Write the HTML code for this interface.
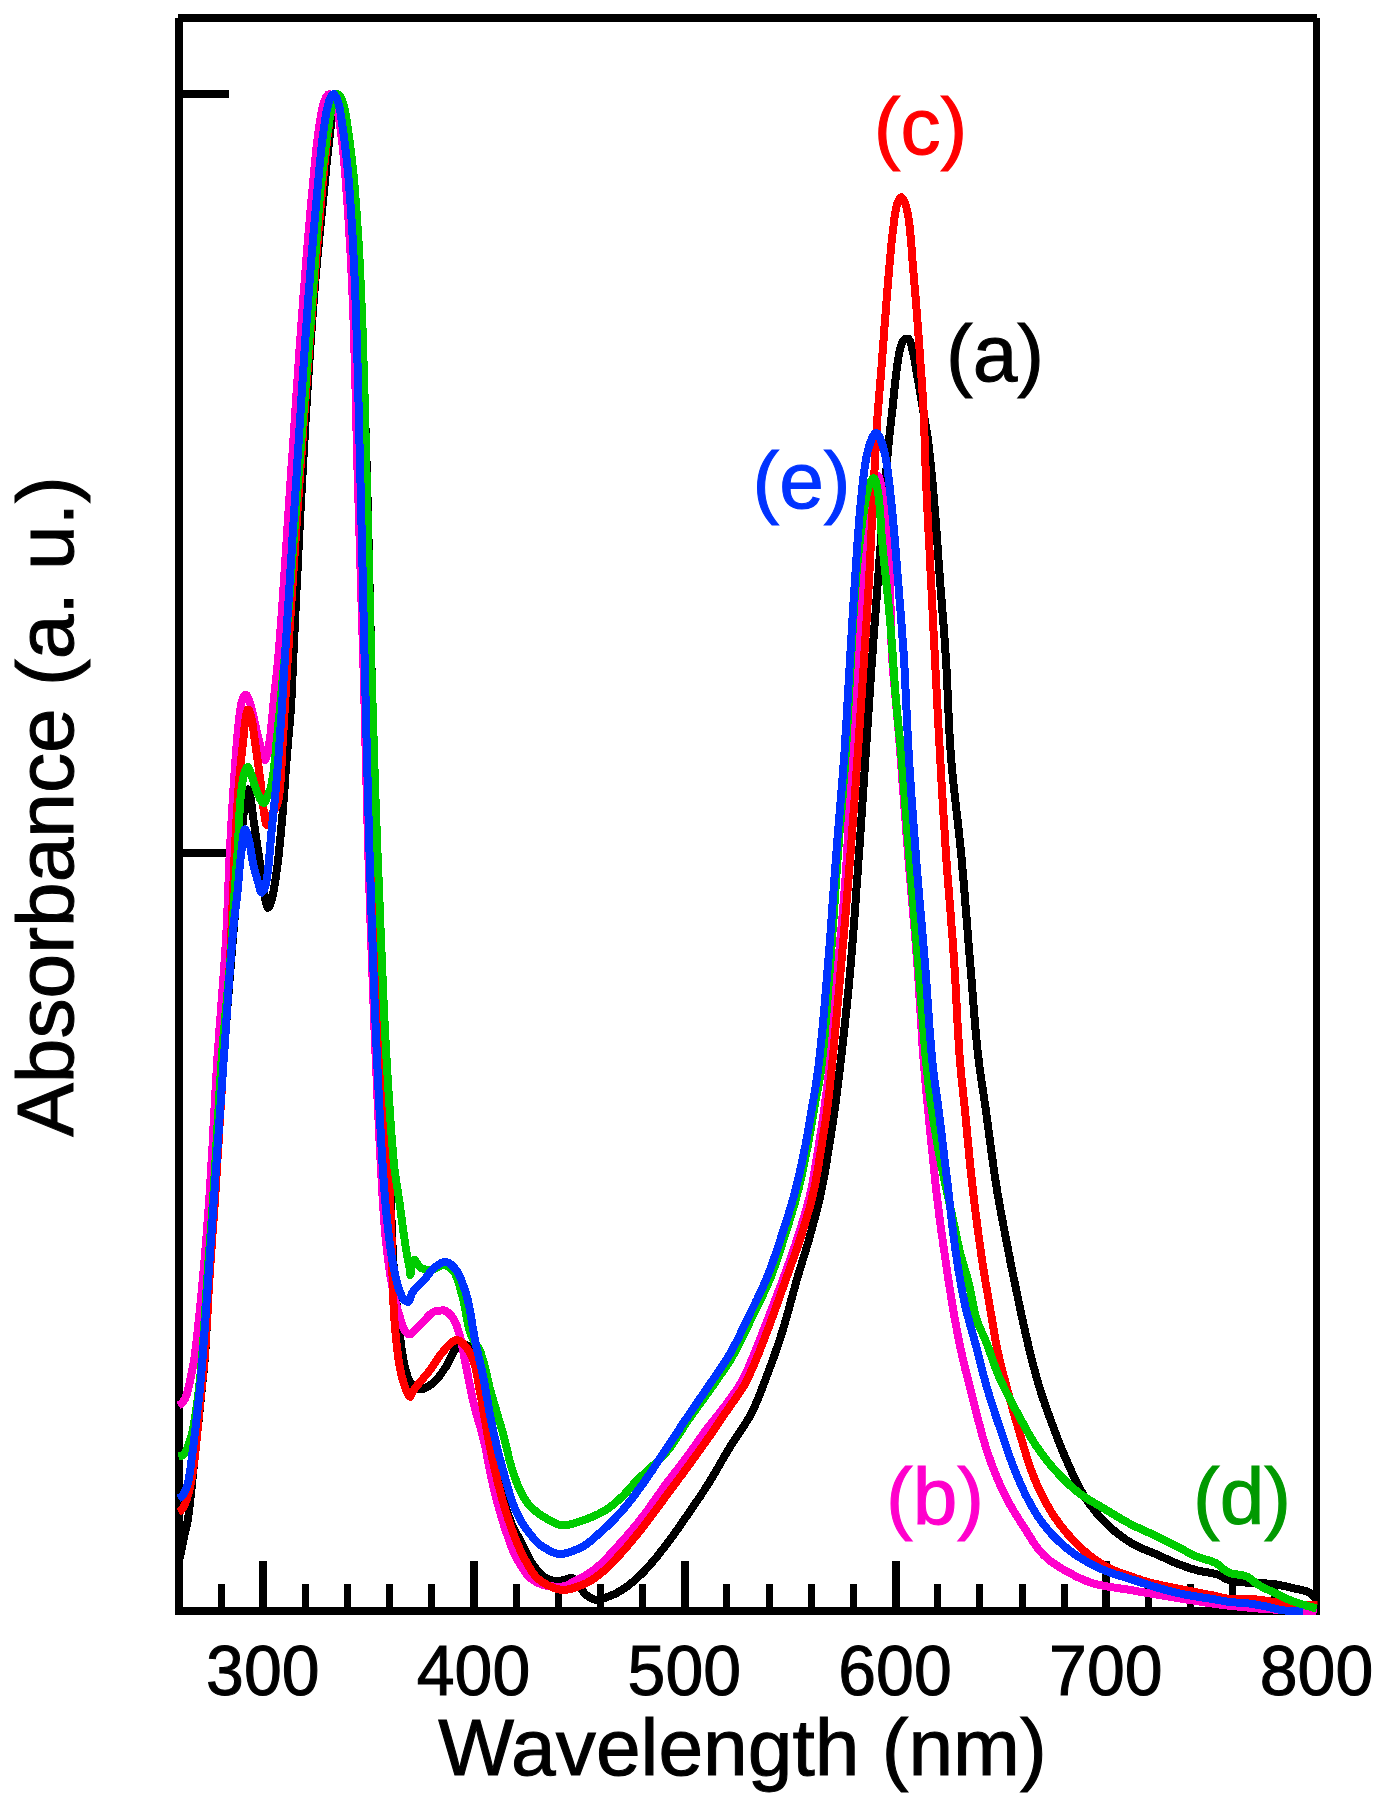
<!DOCTYPE html>
<html lang="en">
<head>
<meta charset="utf-8">
<title>Absorbance spectra</title>
<style>
html,body{margin:0;padding:0;background:#fff;}
body{width:1379px;height:1799px;overflow:hidden;}
svg{display:block;}
text{font-family:"Liberation Sans",Arial,Helvetica,sans-serif;}
</style>
</head>
<body>
<svg width="1379" height="1799" viewBox="0 0 1379 1799">
<rect width="1379" height="1799" fill="#ffffff"/>
<g stroke="#000" stroke-width="8" fill="none" shape-rendering="crispEdges">
<line x1="178" y1="18" x2="1317" y2="18"/>
<line x1="179" y1="18" x2="179" y2="1615"/>
<line x1="175" y1="1611" x2="1320" y2="1611"/>
<line x1="1316.5" y1="18" x2="1316.5" y2="1615" stroke-width="7"/>
<line x1="183" y1="94" x2="229" y2="94"/>
<line x1="183" y1="852.5" x2="229" y2="852.5"/>
<line x1="221.1" y1="1584" x2="221.1" y2="1608" stroke-width="7"/>
<line x1="263.3" y1="1561" x2="263.3" y2="1608"/>
<line x1="305.4" y1="1584" x2="305.4" y2="1608" stroke-width="7"/>
<line x1="347.6" y1="1584" x2="347.6" y2="1608" stroke-width="7"/>
<line x1="389.7" y1="1584" x2="389.7" y2="1608" stroke-width="7"/>
<line x1="431.9" y1="1584" x2="431.9" y2="1608" stroke-width="7"/>
<line x1="474.0" y1="1561" x2="474.0" y2="1608"/>
<line x1="516.2" y1="1584" x2="516.2" y2="1608" stroke-width="7"/>
<line x1="558.3" y1="1584" x2="558.3" y2="1608" stroke-width="7"/>
<line x1="600.5" y1="1584" x2="600.5" y2="1608" stroke-width="7"/>
<line x1="642.6" y1="1584" x2="642.6" y2="1608" stroke-width="7"/>
<line x1="684.8" y1="1561" x2="684.8" y2="1608"/>
<line x1="726.9" y1="1584" x2="726.9" y2="1608" stroke-width="7"/>
<line x1="769.1" y1="1584" x2="769.1" y2="1608" stroke-width="7"/>
<line x1="811.2" y1="1584" x2="811.2" y2="1608" stroke-width="7"/>
<line x1="853.4" y1="1584" x2="853.4" y2="1608" stroke-width="7"/>
<line x1="895.5" y1="1561" x2="895.5" y2="1608"/>
<line x1="937.7" y1="1584" x2="937.7" y2="1608" stroke-width="7"/>
<line x1="979.8" y1="1584" x2="979.8" y2="1608" stroke-width="7"/>
<line x1="1022.0" y1="1584" x2="1022.0" y2="1608" stroke-width="7"/>
<line x1="1064.1" y1="1584" x2="1064.1" y2="1608" stroke-width="7"/>
<line x1="1106.3" y1="1561" x2="1106.3" y2="1608"/>
<line x1="1148.4" y1="1584" x2="1148.4" y2="1608" stroke-width="7"/>
<line x1="1190.6" y1="1584" x2="1190.6" y2="1608" stroke-width="7"/>
<line x1="1232.7" y1="1584" x2="1232.7" y2="1608" stroke-width="7"/>
<line x1="1274.9" y1="1584" x2="1274.9" y2="1608" stroke-width="7"/>
</g>
<clipPath id="plot"><rect x="175" y="14" width="1142.5" height="1601"/></clipPath>
<g clip-path="url(#plot)" fill="none" stroke-width="8" stroke-linejoin="round" stroke-linecap="butt" shape-rendering="crispEdges">
<path d="M178.5 1563.0L179.2 1560.1L179.9 1557.2L180.6 1554.2L181.2 1551.3L181.9 1548.4L182.4 1545.4L183.0 1542.5L183.6 1539.5L184.2 1536.6L184.8 1533.7L185.5 1530.7L186.2 1527.8L186.8 1524.9L187.5 1522.0L188.0 1519.0L188.4 1516.1L188.8 1513.1L189.2 1510.1L189.5 1507.1L189.8 1504.1L190.2 1501.1L190.5 1498.2L190.8 1495.2L191.2 1492.2L191.5 1489.2L191.8 1486.2L192.1 1483.2L192.4 1480.3L192.7 1477.3L193.0 1474.3L193.3 1471.3L193.6 1468.3L193.9 1465.3L194.2 1462.4L194.5 1459.4L194.9 1456.4L195.2 1453.4L195.5 1450.4L195.8 1447.4L196.1 1444.4L196.4 1441.5L196.7 1438.5L197.0 1435.5L197.3 1432.5L197.6 1429.5L197.9 1426.5L198.2 1423.6L198.6 1420.6L198.9 1417.6L199.2 1414.6L199.5 1411.6L199.8 1408.6L200.1 1405.7L200.4 1402.7L200.7 1399.7L201.0 1396.7L201.3 1393.7L201.6 1390.7L201.9 1387.7L202.2 1384.8L202.5 1381.8L202.8 1378.8L203.1 1375.8L203.5 1372.8L203.8 1369.8L204.1 1366.9L204.4 1363.9L204.6 1360.9L204.9 1357.9L205.1 1354.9L205.3 1351.9L205.5 1348.9L205.7 1345.9L205.9 1342.9L206.0 1339.9L206.2 1336.9L206.4 1333.9L206.5 1331.0L206.7 1328.0L206.9 1325.0L207.0 1322.0L207.2 1319.0L207.3 1316.0L207.5 1313.0L207.6 1310.0L207.8 1307.0L207.9 1304.0L208.0 1301.0L208.2 1298.0L208.3 1295.0L208.5 1292.0L208.6 1289.0L208.8 1286.0L209.0 1283.0L209.1 1280.0L209.3 1277.0L209.5 1274.0L209.6 1271.0L209.8 1268.0L210.0 1265.0L210.2 1262.0L210.4 1259.0L210.6 1256.0L210.7 1253.0L210.9 1250.1L211.1 1247.1L211.3 1244.1L211.5 1241.1L211.7 1238.1L211.9 1235.1L212.1 1232.1L212.3 1229.1L212.5 1226.1L212.7 1223.1L212.9 1220.1L213.1 1217.1L213.3 1214.1L213.4 1211.1L213.6 1208.1L213.8 1205.1L214.0 1202.2L214.2 1199.2L214.4 1196.2L214.6 1193.2L214.8 1190.2L215.0 1187.2L215.2 1184.2L215.4 1181.2L215.6 1178.2L215.8 1175.2L216.0 1172.2L216.2 1169.2L216.4 1166.2L216.6 1163.2L216.8 1160.2L216.9 1157.2L217.1 1154.2L217.3 1151.3L217.5 1148.3L217.7 1145.3L217.9 1142.3L218.1 1139.3L218.3 1136.3L218.5 1133.3L218.7 1130.3L218.9 1127.3L219.1 1124.3L219.3 1121.3L219.5 1118.3L219.7 1115.3L219.9 1112.3L220.1 1109.3L220.3 1106.3L220.5 1103.4L220.7 1100.4L220.9 1097.4L221.1 1094.4L221.3 1091.4L221.5 1088.4L221.7 1085.4L221.9 1082.4L222.1 1079.4L222.3 1076.4L222.5 1073.4L222.8 1070.4L223.0 1067.4L223.2 1064.4L223.4 1061.5L223.6 1058.5L223.8 1055.5L224.0 1052.5L224.3 1049.5L224.5 1046.5L224.7 1043.5L224.9 1040.5L225.1 1037.5L225.4 1034.5L225.6 1031.5L225.8 1028.5L226.0 1025.5L226.3 1022.6L226.5 1019.6L226.7 1016.6L226.9 1013.6L227.2 1010.6L227.4 1007.6L227.6 1004.6L227.9 1001.6L228.1 998.6L228.3 995.6L228.6 992.6L228.8 989.7L229.0 986.7L229.3 983.7L229.5 980.7L229.7 977.7L230.0 974.7L230.2 971.7L230.5 968.7L230.7 965.7L230.9 962.7L231.2 959.7L231.4 956.8L231.7 953.8L231.9 950.8L232.2 947.8L232.4 944.8L232.7 941.8L232.9 938.8L233.1 935.8L233.4 932.8L233.7 929.8L233.9 926.9L234.2 923.9L234.4 920.9L234.7 917.9L234.9 914.9L235.2 911.9L235.5 908.9L235.7 905.9L236.0 902.9L236.3 900.0L236.5 897.0L236.8 894.0L237.1 891.0L237.3 888.0L237.6 885.0L237.8 882.0L238.1 879.0L238.3 876.0L238.6 873.1L238.8 870.1L239.1 867.1L239.3 864.1L239.5 861.1L239.8 858.1L240.0 855.1L240.2 852.1L240.5 849.1L240.7 846.1L240.9 843.1L241.2 840.1L241.4 837.2L241.7 834.2L241.9 831.2L242.2 828.2L242.5 825.2L242.8 822.2L243.1 819.2L243.4 816.2L243.6 813.2L243.9 810.2L244.2 807.2L244.6 804.2L245.0 801.3L245.4 798.3L245.9 795.4L246.7 791.9L247.8 789.4L248.9 791.1L249.9 794.7L250.5 797.6L251.0 800.5L251.4 803.5L251.8 806.5L252.1 809.5L252.5 812.5L252.9 815.5L253.3 818.5L253.7 821.4L254.2 824.4L254.6 827.4L255.0 830.3L255.5 833.3L255.9 836.3L256.4 839.2L256.8 842.2L257.2 845.2L257.7 848.1L258.1 851.1L258.6 854.1L259.0 857.0L259.5 860.0L259.9 863.0L260.4 865.9L260.8 868.9L261.3 871.9L261.7 874.8L262.2 877.8L262.6 880.8L263.0 883.8L263.4 886.8L263.8 889.8L264.2 892.7L264.7 895.7L265.2 898.7L265.8 901.6L266.5 904.7L267.6 907.9L269.0 907.1L270.5 903.9L271.4 901.1L272.2 898.2L272.8 895.2L273.4 892.3L273.9 889.3L274.4 886.4L274.9 883.4L275.4 880.4L275.8 877.5L276.2 874.5L276.6 871.5L277.0 868.5L277.4 865.6L277.8 862.6L278.1 859.6L278.5 856.6L278.8 853.7L279.1 850.7L279.4 847.7L279.7 844.7L280.0 841.7L280.3 838.7L280.6 835.7L280.9 832.7L281.2 829.8L281.4 826.8L281.7 823.8L282.0 820.8L282.2 817.8L282.5 814.8L282.7 811.8L283.0 808.8L283.2 805.8L283.4 802.9L283.7 799.9L283.9 796.9L284.1 793.9L284.3 790.9L284.6 787.9L284.8 784.9L285.0 781.9L285.2 778.9L285.4 775.9L285.6 772.9L285.9 769.9L286.1 766.9L286.3 764.0L286.5 761.0L286.7 758.0L287.0 755.0L287.2 752.0L287.5 749.0L287.7 746.0L288.0 743.0L288.3 740.0L288.5 737.0L288.8 734.1L289.1 731.1L289.3 728.1L289.6 725.1L289.9 722.1L290.1 719.1L290.3 716.1L290.6 713.1L290.8 710.1L291.0 707.1L291.1 704.1L291.3 701.2L291.5 698.2L291.6 695.2L291.8 692.2L291.9 689.2L292.0 686.2L292.2 683.2L292.3 680.2L292.4 677.2L292.6 674.2L292.7 671.2L292.8 668.2L293.0 665.2L293.1 662.2L293.2 659.2L293.4 656.2L293.5 653.2L293.7 650.2L293.8 647.2L294.0 644.2L294.1 641.2L294.2 638.2L294.4 635.2L294.5 632.2L294.7 629.2L294.8 626.2L295.0 623.2L295.1 620.2L295.2 617.2L295.4 614.2L295.5 611.2L295.7 608.2L295.8 605.3L296.0 602.3L296.1 599.3L296.2 596.3L296.4 593.3L296.5 590.3L296.7 587.3L296.8 584.3L297.0 581.3L297.1 578.3L297.3 575.3L297.4 572.3L297.6 569.3L297.7 566.3L297.8 563.3L298.0 560.3L298.1 557.3L298.3 554.3L298.4 551.3L298.6 548.3L298.7 545.3L298.9 542.3L299.0 539.3L299.2 536.3L299.3 533.3L299.5 530.3L299.7 527.3L299.8 524.3L300.0 521.3L300.1 518.4L300.3 515.4L300.4 512.4L300.6 509.4L300.8 506.4L300.9 503.4L301.1 500.4L301.2 497.4L301.4 494.4L301.6 491.4L301.7 488.4L301.9 485.4L302.1 482.4L302.2 479.4L302.4 476.4L302.6 473.4L302.7 470.4L302.9 467.4L303.1 464.4L303.3 461.4L303.4 458.4L303.6 455.4L303.8 452.4L303.9 449.5L304.1 446.5L304.3 443.5L304.5 440.5L304.6 437.5L304.8 434.5L305.0 431.5L305.2 428.5L305.3 425.5L305.5 422.5L305.7 419.5L305.9 416.5L306.1 413.5L306.2 410.5L306.4 407.5L306.6 404.5L306.8 401.5L307.0 398.5L307.2 395.5L307.3 392.5L307.5 389.6L307.7 386.6L307.9 383.6L308.1 380.6L308.3 377.6L308.5 374.6L308.7 371.6L308.9 368.6L309.1 365.6L309.3 362.6L309.5 359.6L309.7 356.6L309.9 353.6L310.1 350.6L310.3 347.6L310.5 344.6L310.7 341.7L310.9 338.7L311.1 335.7L311.4 332.7L311.6 329.7L311.8 326.7L312.0 323.7L312.2 320.7L312.4 317.7L312.7 314.7L312.9 311.7L313.1 308.7L313.3 305.8L313.6 302.8L313.8 299.8L314.0 296.8L314.3 293.8L314.5 290.8L314.8 287.8L315.0 284.8L315.3 281.8L315.5 278.8L315.8 275.9L316.1 272.9L316.3 269.9L316.6 266.9L316.9 263.9L317.2 260.9L317.4 257.9L317.7 254.9L318.0 252.0L318.3 249.0L318.6 246.0L318.9 243.0L319.1 240.0L319.4 237.0L319.7 234.0L320.0 231.0L320.3 228.1L320.6 225.1L320.9 222.1L321.2 219.1L321.5 216.1L321.8 213.1L322.1 210.1L322.4 207.2L322.7 204.2L323.0 201.2L323.3 198.2L323.6 195.2L323.9 192.2L324.2 189.2L324.5 186.3L324.8 183.3L325.1 180.3L325.4 177.3L325.7 174.3L326.0 171.3L326.3 168.3L326.5 165.4L326.8 162.4L327.1 159.4L327.5 156.4L327.8 153.4L328.1 150.4L328.4 147.5L328.7 144.5L329.0 141.5L329.4 138.5L329.7 135.5L330.0 132.5L330.4 129.6L330.7 126.6L331.1 123.6L331.5 120.6L331.8 117.6L332.2 114.6L332.5 111.6L333.0 108.7L333.5 105.7L334.0 102.8L334.8 99.3L335.8 95.8L336.9 94.0L338.1 95.2L339.5 98.2L340.7 101.8L341.5 104.8L342.2 107.7L342.8 110.6L343.3 113.6L343.8 116.5L344.2 119.5L344.7 122.5L345.2 125.5L345.6 128.4L346.1 131.4L346.5 134.4L347.0 137.3L347.4 140.3L347.8 143.3L348.2 146.2L348.6 149.2L349.1 152.2L349.4 155.2L349.8 158.2L350.2 161.1L350.6 164.1L351.0 167.1L351.3 170.1L351.6 173.1L352.0 176.0L352.3 179.0L352.6 182.0L352.9 185.0L353.2 188.0L353.5 191.0L353.7 193.9L354.0 196.9L354.3 199.9L354.5 202.9L354.8 205.9L355.0 208.9L355.3 211.9L355.5 214.9L355.8 217.8L356.0 220.8L356.2 223.8L356.4 226.8L356.7 229.8L356.9 232.8L357.1 235.8L357.3 238.8L357.5 241.8L357.7 244.8L357.9 247.8L358.1 250.8L358.3 253.8L358.5 256.8L358.7 259.8L358.9 262.8L359.1 265.7L359.2 268.7L359.4 271.7L359.6 274.7L359.8 277.7L359.9 280.7L360.1 283.7L360.2 286.7L360.4 289.7L360.5 292.7L360.7 295.7L360.8 298.7L361.0 301.7L361.1 304.7L361.2 307.7L361.4 310.7L361.5 313.7L361.6 316.7L361.8 319.7L361.9 322.7L362.0 325.7L362.1 328.7L362.3 331.7L362.4 334.7L362.5 337.7L362.6 340.7L362.7 343.7L362.9 346.7L363.0 349.7L363.1 352.7L363.2 355.7L363.3 358.7L363.4 361.7L363.5 364.6L363.6 367.6L363.7 370.6L363.8 373.6L363.9 376.6L364.0 379.6L364.1 382.6L364.2 385.6L364.3 388.6L364.4 391.6L364.5 394.6L364.6 397.6L364.7 400.6L364.8 403.6L364.9 406.6L365.0 409.6L365.1 412.6L365.2 415.6L365.2 418.6L365.3 421.6L365.4 424.6L365.5 427.6L365.6 430.6L365.7 433.6L365.8 436.6L365.9 439.6L365.9 442.6L366.0 445.6L366.1 448.6L366.2 451.6L366.3 454.6L366.4 457.6L366.5 460.6L366.5 463.6L366.6 466.6L366.7 469.6L366.8 472.6L366.9 475.6L367.0 478.6L367.0 481.6L367.1 484.6L367.2 487.6L367.3 490.6L367.4 493.6L367.5 496.6L367.5 499.6L367.6 502.6L367.7 505.6L367.8 508.6L367.8 511.6L367.9 514.6L368.0 517.6L368.1 520.6L368.1 523.6L368.2 526.6L368.3 529.6L368.4 532.6L368.4 535.6L368.5 538.6L368.6 541.6L368.6 544.6L368.7 547.6L368.8 550.6L368.8 553.6L368.9 556.6L369.0 559.6L369.0 562.6L369.1 565.6L369.2 568.6L369.2 571.6L369.3 574.6L369.4 577.6L369.4 580.6L369.5 583.6L369.6 586.6L369.7 589.6L369.7 592.6L369.8 595.6L369.9 598.6L369.9 601.6L370.0 604.6L370.1 607.6L370.1 610.6L370.2 613.6L370.3 616.6L370.3 619.6L370.4 622.6L370.5 625.6L370.5 628.6L370.6 631.6L370.7 634.6L370.7 637.6L370.8 640.6L370.9 643.6L371.0 646.6L371.0 649.6L371.1 652.6L371.2 655.6L371.2 658.6L371.3 661.6L371.4 664.6L371.5 667.6L371.6 670.6L371.6 673.6L371.7 676.6L371.8 679.6L371.9 682.6L371.9 685.6L372.0 688.6L372.1 691.6L372.2 694.6L372.3 697.6L372.4 700.6L372.4 703.6L372.5 706.6L372.6 709.6L372.7 712.6L372.8 715.6L372.8 718.6L372.9 721.6L373.0 724.6L373.1 727.6L373.2 730.6L373.3 733.6L373.4 736.6L373.4 739.6L373.5 742.6L373.6 745.6L373.7 748.5L373.8 751.5L373.9 754.5L374.0 757.5L374.0 760.5L374.1 763.5L374.2 766.5L374.3 769.5L374.4 772.5L374.5 775.5L374.6 778.5L374.7 781.5L374.8 784.5L374.8 787.5L374.9 790.5L375.0 793.5L375.1 796.5L375.2 799.5L375.3 802.5L375.4 805.5L375.5 808.5L375.6 811.5L375.7 814.5L375.8 817.5L375.9 820.5L376.0 823.5L376.1 826.5L376.2 829.5L376.2 832.5L376.3 835.5L376.4 838.5L376.5 841.5L376.6 844.5L376.7 847.5L376.8 850.5L376.9 853.5L377.0 856.5L377.1 859.5L377.2 862.5L377.3 865.5L377.4 868.5L377.6 871.5L377.7 874.5L377.8 877.5L377.9 880.5L378.0 883.5L378.1 886.5L378.2 889.5L378.3 892.5L378.4 895.5L378.5 898.5L378.6 901.5L378.8 904.5L378.9 907.5L379.0 910.5L379.1 913.5L379.2 916.5L379.3 919.5L379.5 922.5L379.6 925.5L379.7 928.5L379.8 931.5L379.9 934.5L380.1 937.5L380.2 940.4L380.3 943.4L380.4 946.4L380.5 949.4L380.7 952.4L380.8 955.4L380.9 958.4L381.1 961.4L381.2 964.4L381.3 967.4L381.4 970.4L381.6 973.4L381.7 976.4L381.8 979.4L381.9 982.4L382.1 985.4L382.2 988.4L382.3 991.4L382.5 994.4L382.6 997.4L382.7 1000.4L382.9 1003.4L383.0 1006.4L383.1 1009.4L383.3 1012.4L383.4 1015.4L383.5 1018.4L383.7 1021.4L383.8 1024.4L383.9 1027.4L384.0 1030.4L384.2 1033.4L384.3 1036.4L384.4 1039.4L384.6 1042.4L384.7 1045.4L384.8 1048.4L385.0 1051.4L385.1 1054.4L385.2 1057.3L385.4 1060.3L385.5 1063.3L385.6 1066.3L385.8 1069.3L385.9 1072.3L386.0 1075.3L386.1 1078.3L386.3 1081.3L386.4 1084.3L386.5 1087.3L386.7 1090.3L386.8 1093.3L386.9 1096.3L387.0 1099.3L387.2 1102.3L387.3 1105.3L387.4 1108.3L387.6 1111.3L387.7 1114.3L387.8 1117.3L387.9 1120.3L388.0 1123.3L388.2 1126.3L388.3 1129.3L388.4 1132.3L388.5 1135.3L388.7 1138.3L388.8 1141.3L388.9 1144.3L389.0 1147.3L389.1 1150.3L389.2 1153.3L389.4 1156.3L389.5 1159.3L389.6 1162.3L389.7 1165.3L389.8 1168.3L389.9 1171.3L390.0 1174.3L390.1 1177.3L390.2 1180.3L390.3 1183.3L390.4 1186.3L390.5 1189.3L390.6 1192.3L390.7 1195.3L390.8 1198.3L390.9 1201.3L391.0 1204.3L391.1 1207.3L391.1 1210.3L391.2 1213.3L391.3 1216.3L391.5 1219.3L391.6 1222.2L391.7 1225.2L391.8 1228.2L391.9 1231.2L392.0 1234.2L392.2 1237.2L392.3 1240.2L392.4 1243.2L392.6 1246.2L392.7 1249.2L392.9 1252.2L393.0 1255.2L393.2 1258.2L393.4 1261.2L393.5 1264.2L393.7 1267.2L393.9 1270.2L394.1 1273.2L394.3 1276.2L394.5 1279.2L394.7 1282.2L395.0 1285.2L395.2 1288.2L395.4 1291.2L395.7 1294.2L395.9 1297.2L396.2 1300.2L396.5 1303.2L396.7 1306.1L397.0 1309.1L397.3 1312.1L397.6 1315.1L397.9 1318.1L398.2 1321.1L398.6 1324.0L398.9 1327.0L399.2 1330.0L399.6 1333.0L399.9 1335.9L400.3 1338.9L400.7 1341.9L401.1 1344.9L401.5 1348.0L401.9 1351.0L402.4 1354.1L402.9 1357.1L403.5 1360.1L404.1 1363.1L404.7 1366.1L405.4 1369.0L406.2 1371.8L407.0 1374.6L407.9 1377.3L408.9 1379.9L410.4 1382.7L412.4 1385.3L414.5 1387.2L417.1 1388.4L420.2 1389.1L423.0 1389.0L425.8 1387.9L428.5 1386.3L431.1 1384.4L433.5 1382.5L435.6 1380.6L437.6 1378.4L439.5 1376.1L441.3 1373.6L443.0 1371.0L444.7 1368.5L446.4 1366.0L447.9 1363.3L449.4 1360.4L450.7 1357.4L452.1 1354.6L453.6 1352.0L455.3 1349.8L457.4 1348.2L460.1 1346.8L463.3 1345.6L466.1 1345.0L468.1 1345.9L469.9 1348.7L471.4 1351.8L472.7 1354.5L473.8 1357.3L474.8 1360.1L475.7 1363.0L476.5 1366.0L477.2 1368.9L477.9 1371.8L478.5 1374.7L479.0 1377.6L479.6 1380.6L480.1 1383.6L480.6 1386.5L481.0 1389.5L481.5 1392.5L482.1 1395.4L482.6 1398.4L483.1 1401.3L483.7 1404.3L484.2 1407.2L484.7 1410.2L485.2 1413.2L485.7 1416.1L486.2 1419.1L486.8 1422.0L487.3 1425.0L487.8 1427.9L488.3 1430.9L488.9 1433.8L489.4 1436.8L490.0 1439.7L490.5 1442.7L491.1 1445.6L491.7 1448.6L492.3 1451.5L492.9 1454.4L493.5 1457.4L494.1 1460.3L494.7 1463.3L495.4 1466.2L496.0 1469.1L496.6 1472.1L497.3 1475.0L498.0 1477.9L498.7 1480.8L499.4 1483.8L500.1 1486.7L500.9 1489.6L501.7 1492.4L502.4 1495.3L503.2 1498.2L504.1 1501.1L504.9 1504.0L505.8 1506.9L506.7 1509.8L507.6 1512.7L508.6 1515.5L509.6 1518.3L510.6 1521.1L511.7 1523.9L512.9 1526.7L514.1 1529.4L515.5 1532.0L517.0 1534.6L518.5 1537.3L519.9 1539.9L521.3 1542.6L522.7 1545.3L524.0 1548.0L525.2 1550.8L526.6 1553.5L527.9 1556.2L529.3 1558.9L530.8 1561.4L532.4 1563.9L534.1 1566.3L536.0 1568.7L538.0 1571.2L540.1 1573.5L542.4 1575.6L544.7 1577.2L547.2 1578.5L550.0 1579.7L552.9 1580.6L556.0 1581.2L558.9 1581.1L562.0 1580.4L565.1 1579.5L568.1 1578.7L570.8 1578.1L573.3 1578.3L575.6 1580.2L577.6 1582.9L579.5 1585.4L581.1 1588.1L582.6 1590.8L584.3 1593.2L586.3 1595.1L588.8 1596.9L591.6 1598.5L594.5 1599.5L597.3 1599.7L600.2 1599.2L603.2 1598.5L606.1 1597.4L609.0 1596.3L611.8 1595.3L614.5 1594.1L617.2 1592.7L619.8 1591.2L622.4 1589.6L624.9 1587.9L627.3 1586.2L629.7 1584.4L632.1 1582.5L634.4 1580.6L636.6 1578.6L638.8 1576.5L641.0 1574.4L643.1 1572.3L645.2 1570.2L647.2 1568.0L649.3 1565.8L651.2 1563.5L653.2 1561.2L655.1 1558.9L657.0 1556.6L658.9 1554.2L660.7 1551.8L662.6 1549.5L664.4 1547.1L666.2 1544.7L668.1 1542.3L669.9 1539.9L671.6 1537.5L673.4 1535.1L675.1 1532.7L676.9 1530.2L678.6 1527.8L680.3 1525.3L682.0 1522.8L683.7 1520.4L685.4 1517.9L687.1 1515.4L688.9 1512.9L690.6 1510.5L692.3 1508.0L693.9 1505.5L695.6 1503.0L697.3 1500.5L699.0 1498.1L700.7 1495.6L702.3 1493.1L704.0 1490.5L705.6 1488.0L707.2 1485.5L708.8 1483.0L710.4 1480.4L712.0 1477.9L713.5 1475.3L715.0 1472.7L716.5 1470.1L718.0 1467.5L719.5 1464.9L721.0 1462.3L722.5 1459.7L724.0 1457.1L725.5 1454.5L727.0 1451.9L728.6 1449.3L730.1 1446.8L731.7 1444.2L733.3 1441.7L734.9 1439.2L736.6 1436.7L738.3 1434.2L740.0 1431.7L741.7 1429.2L743.4 1426.7L745.0 1424.1L746.6 1421.6L748.2 1419.1L749.7 1416.5L751.1 1413.9L752.4 1411.2L753.7 1408.5L754.9 1405.8L756.1 1403.1L757.3 1400.3L758.5 1397.5L759.6 1394.8L760.7 1391.9L761.8 1389.1L762.9 1386.3L763.9 1383.5L765.0 1380.7L766.1 1377.9L767.1 1375.1L768.2 1372.3L769.2 1369.5L770.3 1366.6L771.3 1363.8L772.3 1361.0L773.4 1358.2L774.4 1355.3L775.4 1352.5L776.3 1349.7L777.3 1346.8L778.3 1344.0L779.2 1341.1L780.2 1338.3L781.1 1335.4L782.0 1332.6L782.9 1329.7L783.7 1326.9L784.6 1324.0L785.4 1321.1L786.3 1318.2L787.1 1315.3L787.9 1312.4L788.7 1309.6L789.5 1306.7L790.3 1303.8L791.0 1300.9L791.8 1298.0L792.6 1295.1L793.4 1292.2L794.2 1289.3L795.0 1286.4L795.8 1283.5L796.6 1280.6L797.4 1277.7L798.3 1274.8L799.1 1272.0L800.0 1269.1L800.9 1266.2L801.8 1263.3L802.6 1260.5L803.5 1257.6L804.4 1254.7L805.3 1251.9L806.2 1249.0L807.0 1246.1L807.9 1243.3L808.7 1240.4L809.5 1237.5L810.3 1234.6L811.1 1231.7L811.9 1228.8L812.7 1225.9L813.5 1223.0L814.3 1220.1L815.0 1217.2L815.8 1214.3L816.5 1211.4L817.3 1208.5L818.0 1205.6L818.7 1202.7L819.4 1199.7L820.0 1196.8L820.7 1193.9L821.3 1191.0L821.9 1188.0L822.5 1185.1L823.0 1182.1L823.6 1179.2L824.1 1176.2L824.7 1173.3L825.2 1170.3L825.7 1167.4L826.2 1164.4L826.7 1161.4L827.1 1158.5L827.6 1155.5L828.1 1152.6L828.6 1149.6L829.1 1146.6L829.5 1143.7L830.0 1140.7L830.5 1137.7L830.9 1134.8L831.4 1131.8L831.8 1128.8L832.3 1125.9L832.7 1122.9L833.2 1119.9L833.6 1117.0L834.0 1114.0L834.5 1111.0L834.9 1108.1L835.3 1105.1L835.7 1102.1L836.1 1099.1L836.5 1096.2L836.9 1093.2L837.2 1090.2L837.6 1087.2L838.0 1084.3L838.4 1081.3L838.7 1078.3L839.1 1075.3L839.4 1072.3L839.8 1069.4L840.1 1066.4L840.5 1063.4L840.8 1060.4L841.1 1057.4L841.5 1054.5L841.8 1051.5L842.2 1048.5L842.5 1045.5L842.8 1042.5L843.2 1039.6L843.5 1036.6L843.8 1033.6L844.1 1030.6L844.5 1027.6L844.8 1024.6L845.1 1021.7L845.4 1018.7L845.8 1015.7L846.1 1012.7L846.4 1009.7L846.7 1006.7L847.0 1003.8L847.3 1000.8L847.6 997.8L847.9 994.8L848.2 991.8L848.5 988.8L848.8 985.8L849.0 982.9L849.3 979.9L849.6 976.9L849.9 973.9L850.1 970.9L850.4 967.9L850.7 964.9L850.9 961.9L851.2 959.0L851.4 956.0L851.7 953.0L851.9 950.0L852.2 947.0L852.4 944.0L852.6 941.0L852.9 938.0L853.1 935.0L853.3 932.0L853.6 929.0L853.8 926.1L854.0 923.1L854.2 920.1L854.5 917.1L854.7 914.1L854.9 911.1L855.1 908.1L855.3 905.1L855.6 902.1L855.8 899.1L856.0 896.1L856.2 893.1L856.4 890.1L856.6 887.2L856.8 884.2L857.0 881.2L857.3 878.2L857.5 875.2L857.7 872.2L857.9 869.2L858.1 866.2L858.3 863.2L858.5 860.2L858.7 857.2L858.9 854.2L859.2 851.2L859.4 848.2L859.6 845.3L859.8 842.3L860.0 839.3L860.2 836.3L860.4 833.3L860.6 830.3L860.8 827.3L861.0 824.3L861.2 821.3L861.4 818.3L861.6 815.3L861.8 812.3L862.0 809.3L862.2 806.3L862.4 803.3L862.6 800.4L862.8 797.4L863.0 794.4L863.2 791.4L863.4 788.4L863.6 785.4L863.8 782.4L864.0 779.4L864.2 776.4L864.4 773.4L864.6 770.4L864.8 767.4L865.0 764.4L865.2 761.4L865.4 758.4L865.6 755.5L865.8 752.5L866.0 749.5L866.2 746.5L866.4 743.5L866.6 740.5L866.8 737.5L867.0 734.5L867.2 731.5L867.4 728.5L867.6 725.5L867.8 722.5L868.0 719.5L868.2 716.5L868.4 713.5L868.6 710.5L868.8 707.6L869.0 704.6L869.2 701.6L869.4 698.6L869.6 695.6L869.8 692.6L870.0 689.6L870.2 686.6L870.4 683.6L870.6 680.6L870.8 677.6L871.0 674.6L871.2 671.6L871.4 668.6L871.6 665.6L871.8 662.7L872.0 659.7L872.2 656.7L872.5 653.7L872.7 650.7L872.9 647.7L873.1 644.7L873.3 641.7L873.5 638.7L873.8 635.7L874.0 632.7L874.2 629.7L874.4 626.7L874.7 623.8L874.9 620.8L875.1 617.8L875.4 614.8L875.6 611.8L875.8 608.8L876.0 605.8L876.3 602.8L876.5 599.8L876.7 596.8L877.0 593.8L877.2 590.8L877.4 587.9L877.6 584.9L877.9 581.9L878.1 578.9L878.3 575.9L878.5 572.9L878.8 569.9L879.0 566.9L879.2 563.9L879.4 560.9L879.6 557.9L879.9 554.9L880.1 552.0L880.3 549.0L880.5 546.0L880.7 543.0L881.0 540.0L881.2 537.0L881.4 534.0L881.6 531.0L881.8 528.0L882.1 525.0L882.3 522.0L882.5 519.0L882.8 516.0L883.0 513.1L883.2 510.1L883.4 507.1L883.7 504.1L883.9 501.1L884.1 498.1L884.4 495.1L884.6 492.1L884.9 489.1L885.1 486.1L885.3 483.1L885.6 480.2L885.8 477.2L886.0 474.2L886.3 471.2L886.5 468.2L886.8 465.2L887.0 462.2L887.3 459.2L887.5 456.2L887.8 453.2L888.0 450.3L888.3 447.3L888.6 444.3L888.9 441.3L889.2 438.3L889.5 435.3L889.8 432.3L890.1 429.4L890.5 426.4L890.8 423.4L891.1 420.4L891.5 417.4L891.8 414.5L892.1 411.5L892.5 408.5L892.8 405.5L893.1 402.5L893.4 399.5L893.7 396.5L894.0 393.6L894.3 390.6L894.6 387.6L894.9 384.6L895.2 381.6L895.6 378.6L895.9 375.7L896.3 372.7L896.7 369.7L897.1 366.7L897.5 363.7L897.9 360.7L898.4 357.8L898.9 354.8L899.5 351.9L900.2 349.0L901.0 345.9L902.1 342.9L903.4 340.6L905.9 338.6L908.5 338.8L910.2 341.4L911.2 344.2L911.8 347.2L912.5 350.2L913.1 353.1L913.8 356.1L914.3 359.0L914.9 362.0L915.4 364.9L915.9 367.9L916.4 370.8L916.9 373.8L917.4 376.8L917.9 379.7L918.5 382.7L919.0 385.6L919.5 388.6L920.0 391.5L920.5 394.5L920.9 397.5L921.4 400.4L921.9 403.4L922.4 406.3L922.9 409.3L923.4 412.3L923.9 415.2L924.4 418.2L925.0 421.1L925.5 424.1L926.0 427.0L926.5 430.0L927.0 433.0L927.4 435.9L927.9 438.9L928.2 441.9L928.6 444.8L929.0 447.8L929.3 450.8L929.6 453.8L930.0 456.8L930.3 459.7L930.6 462.7L930.9 465.7L931.2 468.7L931.5 471.7L931.8 474.7L932.0 477.7L932.3 480.6L932.6 483.6L932.8 486.6L933.1 489.6L933.4 492.6L933.6 495.6L933.9 498.6L934.1 501.6L934.4 504.6L934.6 507.6L934.9 510.5L935.1 513.5L935.4 516.5L935.6 519.5L935.8 522.5L936.0 525.5L936.3 528.5L936.5 531.5L936.7 534.5L936.9 537.5L937.1 540.5L937.4 543.5L937.6 546.4L937.8 549.4L938.0 552.4L938.2 555.4L938.4 558.4L938.6 561.4L938.9 564.4L939.1 567.4L939.3 570.4L939.5 573.4L939.7 576.4L940.0 579.4L940.2 582.4L940.4 585.3L940.6 588.3L940.9 591.3L941.1 594.3L941.3 597.3L941.6 600.3L941.8 603.3L942.1 606.3L942.3 609.3L942.5 612.3L942.8 615.3L943.0 618.3L943.2 621.2L943.5 624.2L943.7 627.2L943.9 630.2L944.2 633.2L944.4 636.2L944.6 639.2L944.8 642.2L945.0 645.2L945.2 648.2L945.4 651.2L945.6 654.2L945.8 657.1L946.0 660.1L946.2 663.1L946.4 666.1L946.5 669.1L946.7 672.1L946.8 675.1L947.0 678.1L947.1 681.1L947.3 684.1L947.4 687.1L947.5 690.1L947.7 693.1L947.8 696.1L947.9 699.1L948.1 702.1L948.2 705.1L948.3 708.1L948.4 711.1L948.6 714.1L948.7 717.1L948.9 720.1L949.0 723.1L949.1 726.1L949.3 729.1L949.4 732.1L949.6 735.1L949.8 738.1L949.9 741.1L950.1 744.1L950.3 747.0L950.5 750.0L950.7 753.0L950.9 756.0L951.2 759.0L951.4 762.0L951.7 765.0L951.9 768.0L952.2 771.0L952.5 773.9L952.8 776.9L953.1 779.9L953.4 782.9L953.7 785.9L954.0 788.9L954.4 791.8L954.7 794.8L955.0 797.8L955.4 800.8L955.7 803.8L956.1 806.8L956.4 809.7L956.7 812.7L957.1 815.7L957.4 818.7L957.8 821.7L958.1 824.6L958.4 827.6L958.8 830.6L959.1 833.6L959.4 836.6L959.7 839.6L960.0 842.6L960.3 845.5L960.6 848.5L960.9 851.5L961.2 854.5L961.5 857.5L961.7 860.5L962.0 863.5L962.3 866.4L962.5 869.4L962.8 872.4L963.1 875.4L963.3 878.4L963.6 881.4L963.8 884.4L964.1 887.4L964.3 890.4L964.6 893.4L964.8 896.3L965.0 899.3L965.3 902.3L965.5 905.3L965.8 908.3L966.0 911.3L966.3 914.3L966.5 917.3L966.7 920.3L967.0 923.3L967.2 926.2L967.4 929.2L967.7 932.2L967.9 935.2L968.2 938.2L968.4 941.2L968.6 944.2L968.9 947.2L969.1 950.2L969.4 953.2L969.6 956.2L969.9 959.1L970.1 962.1L970.4 965.1L970.6 968.1L970.9 971.1L971.1 974.1L971.3 977.1L971.6 980.1L971.8 983.1L972.0 986.1L972.3 989.1L972.5 992.0L972.7 995.0L973.0 998.0L973.2 1001.0L973.4 1004.0L973.7 1007.0L973.9 1010.0L974.1 1013.0L974.4 1016.0L974.6 1019.0L974.9 1022.0L975.1 1025.0L975.4 1027.9L975.6 1030.9L975.9 1033.9L976.2 1036.9L976.5 1039.9L976.8 1042.9L977.1 1045.9L977.4 1048.8L977.7 1051.8L978.0 1054.8L978.4 1057.8L978.8 1060.7L979.1 1063.7L979.5 1066.7L979.9 1069.7L980.3 1072.6L980.8 1075.6L981.2 1078.6L981.6 1081.5L982.1 1084.5L982.5 1087.5L983.0 1090.5L983.4 1093.4L983.9 1096.4L984.3 1099.4L984.7 1102.3L985.2 1105.3L985.6 1108.3L986.0 1111.2L986.4 1114.2L986.8 1117.2L987.2 1120.2L987.6 1123.1L988.0 1126.1L988.4 1129.1L988.8 1132.1L989.2 1135.0L989.6 1138.0L990.0 1141.0L990.4 1144.0L990.8 1146.9L991.2 1149.9L991.6 1152.9L992.0 1155.9L992.4 1158.8L992.8 1161.8L993.2 1164.8L993.6 1167.7L994.0 1170.7L994.5 1173.7L994.9 1176.7L995.4 1179.6L995.8 1182.6L996.3 1185.5L996.8 1188.5L997.2 1191.5L997.7 1194.4L998.3 1197.4L998.8 1200.3L999.3 1203.3L999.8 1206.2L1000.4 1209.2L1000.9 1212.1L1001.5 1215.1L1002.0 1218.0L1002.6 1221.0L1003.1 1223.9L1003.7 1226.9L1004.3 1229.8L1004.8 1232.8L1005.4 1235.7L1006.0 1238.7L1006.5 1241.6L1007.1 1244.6L1007.7 1247.5L1008.2 1250.5L1008.8 1253.4L1009.4 1256.3L1010.0 1259.3L1010.5 1262.2L1011.1 1265.2L1011.7 1268.1L1012.3 1271.1L1012.9 1274.0L1013.5 1276.9L1014.1 1279.9L1014.7 1282.8L1015.3 1285.8L1015.9 1288.7L1016.5 1291.6L1017.2 1294.6L1017.8 1297.5L1018.4 1300.4L1019.0 1303.4L1019.6 1306.3L1020.3 1309.2L1020.9 1312.2L1021.5 1315.1L1022.1 1318.0L1022.8 1321.0L1023.4 1323.9L1024.1 1326.8L1024.7 1329.8L1025.4 1332.7L1026.1 1335.6L1026.7 1338.5L1027.4 1341.5L1028.1 1344.4L1028.8 1347.3L1029.5 1350.2L1030.2 1353.1L1030.9 1356.0L1031.7 1359.0L1032.4 1361.9L1033.1 1364.8L1033.9 1367.7L1034.7 1370.6L1035.4 1373.5L1036.2 1376.4L1037.0 1379.3L1037.9 1382.1L1038.7 1385.0L1039.6 1387.9L1040.5 1390.7L1041.4 1393.6L1042.3 1396.4L1043.3 1399.3L1044.3 1402.1L1045.2 1405.0L1046.2 1407.8L1047.3 1410.6L1048.3 1413.5L1049.3 1416.3L1050.4 1419.1L1051.4 1421.9L1052.4 1424.7L1053.5 1427.5L1054.5 1430.3L1055.6 1433.1L1056.7 1436.0L1057.7 1438.8L1058.8 1441.6L1059.9 1444.4L1061.0 1447.2L1062.1 1449.9L1063.3 1452.7L1064.4 1455.5L1065.6 1458.2L1066.8 1461.0L1068.0 1463.7L1069.2 1466.5L1070.5 1469.2L1071.7 1472.0L1073.0 1474.7L1074.3 1477.4L1075.6 1480.1L1076.9 1482.8L1078.3 1485.5L1079.7 1488.2L1081.2 1490.8L1082.7 1493.4L1084.2 1495.9L1085.8 1498.4L1087.4 1500.9L1089.2 1503.4L1090.9 1505.8L1092.8 1508.2L1094.6 1510.6L1096.6 1513.0L1098.5 1515.3L1100.5 1517.5L1102.5 1519.7L1104.6 1521.8L1106.7 1523.9L1108.9 1525.9L1111.1 1528.0L1113.4 1530.0L1115.7 1532.0L1118.1 1533.9L1120.5 1535.7L1122.9 1537.5L1125.4 1539.3L1127.9 1540.9L1130.4 1542.5L1132.9 1543.9L1135.6 1545.3L1138.2 1546.6L1140.9 1547.9L1143.7 1549.1L1146.5 1550.3L1149.3 1551.4L1152.1 1552.6L1154.9 1553.7L1157.7 1554.9L1160.4 1556.1L1163.1 1557.4L1165.9 1558.6L1168.6 1559.9L1171.3 1561.1L1174.1 1562.3L1176.9 1563.5L1179.6 1564.5L1182.5 1565.6L1185.3 1566.6L1188.1 1567.6L1191.0 1568.6L1193.8 1569.4L1196.7 1570.2L1199.6 1570.9L1202.6 1571.5L1205.6 1572.0L1208.6 1572.5L1211.5 1573.1L1214.5 1573.7L1217.3 1574.4L1220.1 1575.5L1222.7 1577.0L1225.4 1578.6L1228.1 1579.8L1230.9 1580.5L1233.8 1581.1L1236.8 1581.6L1239.8 1582.0L1242.8 1582.3L1245.8 1582.6L1248.8 1582.8L1251.8 1582.9L1254.8 1583.1L1257.8 1583.2L1260.8 1583.3L1263.8 1583.4L1266.8 1583.5L1269.8 1583.7L1272.8 1584.0L1275.7 1584.4L1278.7 1584.9L1281.6 1585.5L1284.6 1586.1L1287.5 1586.8L1290.4 1587.6L1293.3 1588.3L1296.3 1588.9L1299.3 1589.5L1302.3 1590.2L1305.2 1590.9L1307.9 1591.8L1310.4 1593.4L1312.7 1595.4L1314.8 1597.6L1316.6 1600.0" stroke="#000000"/>
<path d="M178.5 1405.5L181.1 1404.0L183.1 1401.8L184.7 1399.3L186.0 1396.5L186.9 1393.7L187.7 1390.8L188.4 1387.9L189.1 1384.9L189.8 1382.0L190.4 1379.1L190.9 1376.1L191.5 1373.2L192.1 1370.2L192.7 1367.3L193.3 1364.3L193.9 1361.4L194.3 1358.4L194.8 1355.5L195.2 1352.5L195.5 1349.5L195.9 1346.5L196.2 1343.5L196.6 1340.6L196.9 1337.6L197.2 1334.6L197.6 1331.6L197.9 1328.6L198.2 1325.6L198.5 1322.7L198.8 1319.7L199.2 1316.7L199.5 1313.7L199.8 1310.7L200.1 1307.7L200.4 1304.7L200.7 1301.8L200.9 1298.8L201.2 1295.8L201.5 1292.8L201.8 1289.8L202.1 1286.8L202.4 1283.8L202.6 1280.8L202.9 1277.9L203.2 1274.9L203.4 1271.9L203.7 1268.9L204.0 1265.9L204.2 1262.9L204.5 1259.9L204.7 1256.9L205.0 1253.9L205.2 1251.0L205.5 1248.0L205.7 1245.0L206.0 1242.0L206.2 1239.0L206.5 1236.0L206.7 1233.0L206.9 1230.0L207.2 1227.0L207.4 1224.0L207.6 1221.0L207.9 1218.0L208.1 1215.1L208.3 1212.1L208.5 1209.1L208.7 1206.1L208.9 1203.1L209.2 1200.1L209.4 1197.1L209.6 1194.1L209.8 1191.1L210.0 1188.1L210.2 1185.1L210.3 1182.1L210.5 1179.1L210.7 1176.1L210.9 1173.1L211.1 1170.1L211.3 1167.2L211.4 1164.2L211.6 1161.2L211.8 1158.2L211.9 1155.2L212.1 1152.2L212.3 1149.2L212.5 1146.2L212.6 1143.2L212.8 1140.2L212.9 1137.2L213.1 1134.2L213.3 1131.2L213.4 1128.2L213.6 1125.2L213.8 1122.2L213.9 1119.2L214.1 1116.2L214.2 1113.2L214.4 1110.2L214.6 1107.2L214.7 1104.2L214.9 1101.2L215.1 1098.2L215.2 1095.2L215.4 1092.2L215.6 1089.2L215.7 1086.2L215.9 1083.3L216.1 1080.3L216.2 1077.3L216.4 1074.3L216.6 1071.3L216.8 1068.3L217.0 1065.3L217.2 1062.3L217.3 1059.3L217.5 1056.3L217.7 1053.3L217.9 1050.3L218.1 1047.3L218.4 1044.3L218.6 1041.3L218.8 1038.3L219.0 1035.3L219.2 1032.3L219.4 1029.4L219.7 1026.4L219.9 1023.4L220.1 1020.4L220.4 1017.4L220.6 1014.4L220.8 1011.4L221.0 1008.4L221.3 1005.4L221.5 1002.4L221.7 999.4L222.0 996.4L222.2 993.4L222.4 990.5L222.7 987.5L222.9 984.5L223.1 981.5L223.3 978.5L223.6 975.5L223.8 972.5L224.0 969.5L224.2 966.5L224.4 963.5L224.6 960.5L224.8 957.5L225.0 954.5L225.2 951.5L225.4 948.5L225.6 945.6L225.8 942.6L226.0 939.6L226.1 936.6L226.3 933.6L226.5 930.6L226.6 927.6L226.8 924.6L226.9 921.6L227.1 918.6L227.2 915.6L227.3 912.6L227.4 909.6L227.6 906.6L227.7 903.6L227.8 900.6L227.9 897.6L228.0 894.6L228.2 891.6L228.3 888.6L228.4 885.6L228.5 882.6L228.6 879.6L228.8 876.6L228.9 873.6L229.0 870.6L229.1 867.6L229.3 864.6L229.4 861.6L229.5 858.6L229.7 855.6L229.8 852.6L230.0 849.6L230.1 846.6L230.3 843.6L230.4 840.6L230.6 837.6L230.8 834.6L230.9 831.7L231.1 828.7L231.3 825.7L231.4 822.7L231.6 819.7L231.8 816.7L231.9 813.7L232.1 810.7L232.3 807.7L232.5 804.7L232.7 801.7L232.9 798.7L233.0 795.7L233.2 792.7L233.4 789.7L233.6 786.7L233.8 783.7L234.0 780.7L234.2 777.7L234.4 774.7L234.6 771.7L234.9 768.8L235.1 765.8L235.3 762.8L235.5 759.8L235.7 756.8L236.0 753.8L236.2 750.8L236.4 747.8L236.7 744.8L236.9 741.8L237.1 738.8L237.4 735.8L237.6 732.8L237.9 729.8L238.2 726.8L238.5 723.9L238.8 720.9L239.2 717.9L239.5 714.9L239.9 711.9L240.4 708.9L240.9 705.8L241.5 702.9L242.3 700.0L243.3 697.3L245.3 694.6L247.0 695.4L248.5 698.6L249.6 701.6L250.4 704.4L251.2 707.3L251.9 710.3L252.6 713.2L253.3 716.1L254.0 719.0L254.7 722.0L255.3 724.9L256.0 727.8L256.6 730.8L257.3 733.7L258.0 736.6L258.7 739.5L259.5 742.5L260.3 746.0L261.2 749.8L262.1 753.5L263.0 756.7L263.9 759.0L264.9 760.0L265.9 758.6L267.0 755.1L267.8 751.9L268.4 749.0L268.9 746.0L269.3 743.0L269.7 740.0L270.1 737.1L270.5 734.1L270.8 731.1L271.1 728.1L271.4 725.1L271.7 722.2L272.0 719.2L272.3 716.2L272.6 713.2L272.8 710.2L273.1 707.2L273.4 704.2L273.7 701.2L274.0 698.2L274.3 695.3L274.6 692.3L274.9 689.3L275.3 686.3L275.6 683.3L275.9 680.3L276.3 677.4L276.6 674.4L276.9 671.4L277.2 668.4L277.5 665.4L277.8 662.4L278.0 659.4L278.3 656.5L278.6 653.5L278.8 650.5L279.1 647.5L279.3 644.5L279.6 641.5L279.8 638.5L280.0 635.5L280.3 632.5L280.5 629.6L280.7 626.6L281.0 623.6L281.2 620.6L281.4 617.6L281.6 614.6L281.9 611.6L282.1 608.6L282.3 605.6L282.5 602.6L282.7 599.6L282.9 596.6L283.1 593.6L283.3 590.6L283.5 587.7L283.7 584.7L283.9 581.7L284.1 578.7L284.3 575.7L284.5 572.7L284.7 569.7L284.9 566.7L285.1 563.7L285.3 560.7L285.5 557.7L285.7 554.7L285.9 551.7L286.1 548.7L286.3 545.7L286.5 542.7L286.7 539.7L286.9 536.7L287.0 533.7L287.2 530.7L287.4 527.8L287.6 524.8L287.8 521.8L288.0 518.8L288.2 515.8L288.4 512.8L288.6 509.8L288.8 506.8L289.0 503.8L289.2 500.8L289.4 497.8L289.6 494.8L289.8 491.8L290.0 488.8L290.2 485.8L290.4 482.8L290.6 479.8L290.8 476.8L291.0 473.9L291.2 470.9L291.4 467.9L291.6 464.9L291.9 461.9L292.1 458.9L292.3 455.9L292.5 452.9L292.7 449.9L292.9 446.9L293.1 443.9L293.3 440.9L293.5 437.9L293.7 434.9L293.9 431.9L294.1 428.9L294.3 425.9L294.5 423.0L294.7 420.0L294.9 417.0L295.1 414.0L295.3 411.0L295.5 408.0L295.7 405.0L295.9 402.0L296.1 399.0L296.3 396.0L296.5 393.0L296.7 390.0L296.9 387.0L297.1 384.0L297.3 381.0L297.6 378.0L297.8 375.1L298.0 372.1L298.2 369.1L298.4 366.1L298.6 363.1L298.8 360.1L299.0 357.1L299.2 354.1L299.4 351.1L299.6 348.1L299.9 345.1L300.1 342.1L300.3 339.1L300.5 336.1L300.7 333.1L300.9 330.2L301.1 327.2L301.4 324.2L301.6 321.2L301.8 318.2L302.0 315.2L302.3 312.2L302.5 309.2L302.7 306.2L302.9 303.2L303.2 300.2L303.4 297.2L303.6 294.2L303.9 291.3L304.1 288.3L304.3 285.3L304.6 282.3L304.8 279.3L305.0 276.3L305.3 273.3L305.5 270.3L305.7 267.3L306.0 264.3L306.2 261.3L306.4 258.3L306.7 255.4L306.9 252.4L307.2 249.4L307.4 246.4L307.7 243.4L307.9 240.4L308.2 237.4L308.4 234.4L308.7 231.4L308.9 228.4L309.2 225.4L309.5 222.5L309.7 219.5L310.0 216.5L310.2 213.5L310.5 210.5L310.8 207.5L311.1 204.5L311.3 201.5L311.6 198.5L311.9 195.6L312.2 192.6L312.5 189.6L312.7 186.6L313.0 183.6L313.3 180.6L313.6 177.6L313.8 174.6L314.1 171.6L314.4 168.7L314.7 165.7L315.0 162.7L315.3 159.7L315.6 156.7L315.9 153.7L316.2 150.7L316.5 147.7L316.9 144.8L317.2 141.8L317.6 138.8L317.9 135.8L318.3 132.9L318.7 129.9L319.1 126.9L319.6 124.0L320.0 121.0L320.5 117.9L321.0 114.9L321.5 111.9L322.1 109.0L322.8 106.1L323.6 103.3L324.6 100.4L326.2 97.0L328.0 94.5L329.7 94.2L331.5 96.1L333.3 99.2L334.8 102.4L335.8 105.1L336.6 108.0L337.4 110.9L338.1 113.8L338.7 116.8L339.2 119.8L339.7 122.8L340.1 125.8L340.5 128.8L340.9 131.7L341.3 134.7L341.7 137.7L342.0 140.6L342.4 143.6L342.7 146.6L343.0 149.6L343.3 152.6L343.6 155.6L343.9 158.5L344.2 161.5L344.4 164.5L344.7 167.5L344.9 170.5L345.2 173.5L345.4 176.5L345.6 179.5L345.9 182.5L346.1 185.5L346.3 188.5L346.5 191.5L346.7 194.5L347.0 197.5L347.2 200.5L347.4 203.5L347.6 206.5L347.8 209.5L348.0 212.5L348.2 215.4L348.4 218.4L348.6 221.4L348.8 224.4L349.0 227.4L349.2 230.4L349.3 233.4L349.5 236.4L349.7 239.4L349.9 242.4L350.1 245.4L350.2 248.4L350.4 251.4L350.6 254.4L350.7 257.4L350.9 260.4L351.0 263.4L351.2 266.4L351.3 269.4L351.5 272.4L351.6 275.4L351.8 278.4L351.9 281.4L352.0 284.4L352.2 287.4L352.3 290.4L352.4 293.4L352.6 296.4L352.7 299.4L352.8 302.4L352.9 305.4L353.0 308.4L353.1 311.4L353.2 314.4L353.4 317.4L353.5 320.3L353.6 323.3L353.7 326.3L353.8 329.3L353.9 332.3L354.0 335.3L354.0 338.3L354.1 341.3L354.2 344.3L354.3 347.3L354.4 350.3L354.5 353.3L354.6 356.3L354.7 359.3L354.8 362.3L354.8 365.3L354.9 368.3L355.0 371.3L355.1 374.3L355.2 377.3L355.2 380.3L355.3 383.3L355.4 386.3L355.5 389.3L355.5 392.3L355.6 395.3L355.7 398.3L355.8 401.3L355.8 404.3L355.9 407.3L356.0 410.3L356.1 413.3L356.1 416.3L356.2 419.3L356.3 422.3L356.4 425.3L356.4 428.3L356.5 431.3L356.6 434.3L356.7 437.3L356.7 440.3L356.8 443.3L356.9 446.3L357.0 449.3L357.0 452.3L357.1 455.3L357.2 458.3L357.3 461.3L357.4 464.3L357.4 467.3L357.5 470.3L357.6 473.3L357.7 476.3L357.8 479.3L357.9 482.3L358.0 485.3L358.0 488.3L358.1 491.3L358.2 494.3L358.3 497.3L358.4 500.3L358.5 503.3L358.6 506.3L358.7 509.3L358.8 512.3L358.8 515.3L358.9 518.3L359.0 521.3L359.1 524.3L359.2 527.3L359.3 530.3L359.4 533.3L359.5 536.3L359.6 539.3L359.7 542.3L359.8 545.3L359.9 548.3L359.9 551.3L360.0 554.3L360.1 557.3L360.2 560.3L360.3 563.3L360.4 566.3L360.5 569.3L360.6 572.3L360.7 575.3L360.8 578.3L360.9 581.3L361.0 584.3L361.0 587.3L361.1 590.3L361.2 593.3L361.3 596.3L361.4 599.3L361.5 602.3L361.6 605.3L361.7 608.3L361.8 611.3L361.9 614.3L362.0 617.3L362.1 620.3L362.1 623.3L362.2 626.3L362.3 629.3L362.4 632.3L362.5 635.3L362.6 638.3L362.7 641.3L362.8 644.3L362.9 647.3L362.9 650.3L363.0 653.3L363.1 656.3L363.2 659.3L363.3 662.3L363.4 665.3L363.5 668.3L363.6 671.3L363.6 674.3L363.7 677.3L363.8 680.3L363.9 683.3L364.0 686.3L364.1 689.3L364.1 692.3L364.2 695.3L364.3 698.3L364.4 701.3L364.5 704.3L364.5 707.3L364.6 710.3L364.7 713.3L364.8 716.3L364.8 719.3L364.9 722.3L365.0 725.3L365.1 728.3L365.1 731.3L365.2 734.3L365.3 737.3L365.4 740.3L365.4 743.3L365.5 746.3L365.6 749.3L365.7 752.3L365.7 755.3L365.8 758.3L365.9 761.3L366.0 764.3L366.0 767.3L366.1 770.3L366.2 773.3L366.3 776.3L366.3 779.3L366.4 782.3L366.5 785.3L366.5 788.3L366.6 791.3L366.7 794.3L366.8 797.3L366.9 800.3L366.9 803.3L367.0 806.3L367.1 809.3L367.2 812.3L367.2 815.3L367.3 818.3L367.4 821.3L367.5 824.3L367.6 827.3L367.6 830.3L367.7 833.3L367.8 836.3L367.9 839.3L368.0 842.3L368.1 845.3L368.1 848.3L368.2 851.3L368.3 854.3L368.4 857.3L368.5 860.3L368.6 863.3L368.7 866.3L368.8 869.3L368.9 872.3L369.0 875.3L369.1 878.3L369.2 881.3L369.3 884.3L369.3 887.3L369.4 890.3L369.5 893.3L369.6 896.3L369.7 899.3L369.8 902.3L369.9 905.3L370.0 908.3L370.1 911.3L370.2 914.3L370.3 917.3L370.4 920.3L370.5 923.3L370.6 926.3L370.7 929.3L370.9 932.3L371.0 935.3L371.1 938.3L371.2 941.3L371.3 944.3L371.4 947.3L371.5 950.3L371.6 953.3L371.7 956.3L371.8 959.3L371.9 962.3L372.0 965.3L372.1 968.3L372.2 971.3L372.4 974.3L372.5 977.3L372.6 980.3L372.7 983.3L372.8 986.3L372.9 989.3L373.0 992.3L373.1 995.2L373.3 998.2L373.4 1001.2L373.5 1004.2L373.6 1007.2L373.7 1010.2L373.8 1013.2L374.0 1016.2L374.1 1019.2L374.2 1022.2L374.3 1025.2L374.4 1028.2L374.6 1031.2L374.7 1034.2L374.8 1037.2L374.9 1040.2L375.1 1043.2L375.2 1046.2L375.3 1049.2L375.4 1052.2L375.6 1055.2L375.7 1058.2L375.8 1061.2L376.0 1064.2L376.1 1067.2L376.2 1070.2L376.4 1073.2L376.5 1076.2L376.6 1079.2L376.8 1082.2L376.9 1085.2L377.0 1088.2L377.2 1091.2L377.3 1094.2L377.4 1097.2L377.6 1100.2L377.7 1103.2L377.9 1106.2L378.0 1109.2L378.1 1112.2L378.3 1115.2L378.4 1118.2L378.6 1121.2L378.7 1124.2L378.9 1127.2L379.0 1130.2L379.1 1133.2L379.3 1136.2L379.4 1139.2L379.6 1142.1L379.7 1145.1L379.9 1148.1L380.0 1151.1L380.2 1154.1L380.4 1157.1L380.5 1160.1L380.7 1163.1L380.8 1166.1L381.0 1169.1L381.1 1172.1L381.3 1175.1L381.5 1178.1L381.6 1181.1L381.8 1184.1L381.9 1187.1L382.1 1190.1L382.3 1193.1L382.5 1196.1L382.7 1199.1L382.9 1202.1L383.0 1205.1L383.2 1208.1L383.5 1211.1L383.7 1214.1L383.9 1217.1L384.1 1220.0L384.3 1223.0L384.6 1226.0L384.8 1229.0L385.1 1232.0L385.4 1235.0L385.6 1238.0L385.9 1241.0L386.3 1243.9L386.6 1246.9L386.9 1249.9L387.3 1252.9L387.6 1255.9L388.0 1258.9L388.4 1261.9L388.8 1264.8L389.3 1267.8L389.7 1270.8L390.1 1273.7L390.6 1276.7L391.1 1279.7L391.6 1282.6L392.1 1285.6L392.6 1288.5L393.2 1291.4L393.8 1294.4L394.5 1297.3L395.2 1300.2L395.9 1303.2L396.7 1306.1L397.4 1309.0L398.3 1311.9L399.1 1314.8L400.0 1317.6L400.9 1320.5L401.8 1323.5L402.7 1326.4L403.9 1329.2L405.4 1331.5L407.9 1333.8L410.4 1334.2L412.7 1332.4L415.0 1330.0L417.2 1327.9L419.2 1325.7L421.3 1323.5L423.4 1321.4L425.6 1319.3L427.7 1316.9L430.0 1314.6L432.3 1312.6L434.7 1311.4L437.6 1310.9L440.7 1310.5L443.6 1310.4L446.2 1311.2L448.8 1313.1L451.1 1315.6L453.0 1318.1L454.4 1320.4L455.6 1323.0L456.8 1325.8L457.7 1328.8L458.6 1331.8L459.5 1334.8L460.3 1337.7L461.0 1340.6L461.7 1343.5L462.3 1346.5L462.9 1349.4L463.4 1352.4L463.9 1355.3L464.5 1358.3L465.0 1361.2L465.6 1364.2L466.2 1367.1L466.8 1370.1L467.4 1373.0L468.0 1376.0L468.5 1378.9L469.1 1381.9L469.7 1384.8L470.3 1387.8L470.9 1390.7L471.5 1393.6L472.1 1396.6L472.7 1399.5L473.4 1402.4L474.1 1405.3L474.8 1408.2L475.6 1411.1L476.4 1414.0L477.3 1416.9L478.1 1419.8L479.0 1422.7L479.8 1425.5L480.7 1428.4L481.5 1431.3L482.3 1434.2L483.0 1437.1L483.7 1440.0L484.4 1443.0L485.0 1445.9L485.7 1448.8L486.3 1451.8L486.9 1454.7L487.4 1457.6L488.0 1460.6L488.6 1463.5L489.2 1466.5L489.7 1469.4L490.3 1472.4L490.9 1475.3L491.5 1478.3L492.2 1481.2L492.8 1484.1L493.5 1487.1L494.2 1490.0L494.9 1492.9L495.6 1495.8L496.4 1498.7L497.1 1501.6L497.9 1504.5L498.7 1507.4L499.5 1510.3L500.3 1513.2L501.1 1516.1L502.0 1519.0L502.9 1521.8L503.8 1524.7L504.7 1527.5L505.6 1530.4L506.6 1533.2L507.6 1536.1L508.6 1539.0L509.6 1541.8L510.7 1544.7L511.8 1547.5L512.9 1550.3L514.1 1553.0L515.4 1555.7L516.7 1558.4L518.1 1560.9L519.6 1563.6L521.2 1566.2L522.9 1568.9L524.7 1571.5L526.6 1574.0L528.6 1576.2L530.7 1578.3L532.9 1579.9L535.3 1581.4L537.9 1582.8L540.8 1584.1L543.7 1585.1L546.7 1585.8L549.6 1586.1L552.6 1586.4L555.7 1586.6L558.7 1586.7L561.6 1586.7L564.5 1586.2L567.3 1585.2L570.0 1583.7L572.8 1582.2L575.5 1580.8L578.2 1579.4L580.8 1578.1L583.5 1576.6L586.1 1575.1L588.7 1573.5L591.1 1571.9L593.5 1570.1L595.8 1568.3L598.1 1566.4L600.3 1564.4L602.5 1562.4L604.6 1560.3L606.7 1558.1L608.8 1555.9L610.9 1553.7L612.9 1551.4L615.0 1549.2L617.0 1546.9L619.0 1544.6L621.0 1542.4L623.0 1540.2L625.0 1537.9L627.0 1535.7L629.0 1533.4L630.9 1531.1L632.9 1528.8L634.8 1526.5L636.7 1524.2L638.6 1521.8L640.4 1519.5L642.3 1517.1L644.1 1514.8L645.9 1512.4L647.7 1510.0L649.5 1507.5L651.2 1505.1L652.9 1502.6L654.6 1500.2L656.4 1497.7L658.1 1495.2L659.8 1492.8L661.5 1490.3L663.3 1487.9L665.0 1485.4L666.8 1483.0L668.6 1480.6L670.4 1478.3L672.3 1475.9L674.1 1473.5L676.0 1471.1L677.8 1468.8L679.6 1466.4L681.5 1464.0L683.3 1461.7L685.1 1459.3L686.9 1456.9L688.7 1454.5L690.5 1452.0L692.2 1449.6L694.0 1447.1L695.7 1444.7L697.4 1442.2L699.1 1439.8L700.8 1437.3L702.6 1434.8L704.3 1432.4L706.1 1430.0L707.9 1427.6L709.7 1425.2L711.6 1422.8L713.5 1420.5L715.4 1418.2L717.2 1415.8L719.1 1413.5L720.9 1411.1L722.8 1408.7L724.6 1406.4L726.4 1404.0L728.2 1401.5L729.9 1399.1L731.7 1396.7L733.4 1394.2L735.2 1391.8L736.9 1389.3L738.5 1386.8L740.1 1384.2L741.6 1381.7L743.0 1379.0L744.4 1376.4L745.7 1373.7L746.9 1370.9L748.2 1368.2L749.4 1365.4L750.5 1362.6L751.7 1359.9L752.9 1357.1L754.0 1354.3L755.2 1351.6L756.3 1348.8L757.4 1346.0L758.5 1343.2L759.6 1340.4L760.7 1337.6L761.8 1334.8L762.8 1332.0L763.9 1329.2L765.0 1326.4L766.1 1323.6L767.2 1320.8L768.3 1318.0L769.4 1315.2L770.4 1312.4L771.5 1309.6L772.6 1306.8L773.7 1304.0L774.7 1301.2L775.8 1298.4L776.9 1295.6L777.9 1292.8L779.0 1290.0L780.0 1287.2L781.1 1284.4L782.1 1281.6L783.1 1278.7L784.2 1275.9L785.2 1273.1L786.2 1270.3L787.3 1267.5L788.3 1264.6L789.3 1261.8L790.3 1259.0L791.3 1256.2L792.3 1253.3L793.3 1250.5L794.3 1247.7L795.3 1244.8L796.2 1242.0L797.2 1239.1L798.1 1236.3L799.0 1233.4L799.9 1230.5L800.8 1227.7L801.7 1224.8L802.5 1221.9L803.4 1219.1L804.3 1216.2L805.1 1213.3L806.0 1210.4L806.8 1207.5L807.6 1204.6L808.3 1201.7L809.1 1198.8L809.8 1195.9L810.5 1193.0L811.1 1190.1L811.7 1187.1L812.3 1184.2L812.8 1181.3L813.4 1178.3L813.9 1175.3L814.4 1172.4L814.9 1169.4L815.4 1166.5L815.9 1163.5L816.4 1160.5L816.8 1157.6L817.3 1154.6L817.8 1151.6L818.2 1148.7L818.7 1145.7L819.2 1142.7L819.6 1139.8L820.1 1136.8L820.6 1133.8L821.0 1130.9L821.5 1127.9L821.9 1124.9L822.4 1122.0L822.8 1119.0L823.2 1116.0L823.7 1113.1L824.1 1110.1L824.5 1107.1L824.9 1104.1L825.3 1101.2L825.7 1098.2L826.1 1095.2L826.5 1092.2L826.9 1089.3L827.3 1086.3L827.6 1083.3L828.0 1080.3L828.3 1077.3L828.6 1074.4L828.9 1071.4L829.2 1068.4L829.5 1065.4L829.8 1062.4L830.1 1059.4L830.4 1056.5L830.7 1053.5L831.0 1050.5L831.2 1047.5L831.5 1044.5L831.8 1041.5L832.0 1038.5L832.3 1035.5L832.6 1032.6L832.8 1029.6L833.1 1026.6L833.3 1023.6L833.6 1020.6L833.8 1017.6L834.1 1014.6L834.3 1011.6L834.6 1008.6L834.8 1005.6L835.1 1002.6L835.3 999.6L835.6 996.7L835.8 993.7L836.0 990.7L836.3 987.7L836.5 984.7L836.8 981.7L837.0 978.7L837.3 975.7L837.5 972.7L837.8 969.7L838.0 966.7L838.3 963.8L838.5 960.8L838.8 957.8L839.0 954.8L839.3 951.8L839.5 948.8L839.8 945.8L840.1 942.8L840.3 939.8L840.6 936.8L840.9 933.9L841.1 930.9L841.4 927.9L841.7 924.9L841.9 921.9L842.2 918.9L842.5 915.9L842.7 912.9L843.0 909.9L843.2 906.9L843.5 903.9L843.7 901.0L844.0 898.0L844.2 895.0L844.4 892.0L844.7 889.0L844.9 886.0L845.1 883.0L845.3 880.0L845.6 877.0L845.8 874.0L846.0 871.0L846.2 868.0L846.3 865.0L846.5 862.1L846.7 859.1L846.9 856.1L847.0 853.1L847.2 850.1L847.3 847.1L847.5 844.1L847.6 841.1L847.7 838.1L847.8 835.1L848.0 832.1L848.1 829.1L848.2 826.1L848.3 823.1L848.4 820.1L848.5 817.1L848.6 814.1L848.7 811.1L848.8 808.1L848.9 805.1L849.0 802.1L849.1 799.1L849.2 796.1L849.3 793.1L849.4 790.1L849.5 787.1L849.6 784.1L849.7 781.1L849.8 778.1L849.9 775.1L850.0 772.1L850.2 769.1L850.3 766.1L850.4 763.1L850.5 760.1L850.7 757.1L850.8 754.1L850.9 751.1L851.1 748.1L851.2 745.1L851.4 742.1L851.6 739.1L851.7 736.1L851.9 733.1L852.1 730.1L852.3 727.2L852.5 724.2L852.7 721.2L852.9 718.2L853.1 715.2L853.3 712.2L853.5 709.2L853.7 706.2L853.9 703.2L854.1 700.2L854.3 697.2L854.5 694.2L854.7 691.2L855.0 688.2L855.2 685.2L855.4 682.2L855.6 679.3L855.8 676.3L856.0 673.3L856.3 670.3L856.5 667.3L856.7 664.3L856.9 661.3L857.1 658.3L857.3 655.3L857.5 652.3L857.8 649.3L858.0 646.3L858.2 643.3L858.4 640.3L858.6 637.3L858.8 634.4L859.1 631.4L859.3 628.4L859.5 625.4L859.7 622.4L860.0 619.4L860.2 616.4L860.4 613.4L860.6 610.4L860.9 607.4L861.1 604.4L861.3 601.4L861.5 598.4L861.8 595.5L862.0 592.5L862.2 589.5L862.5 586.5L862.7 583.5L863.0 580.5L863.2 577.5L863.4 574.5L863.7 571.5L863.9 568.5L864.1 565.5L864.3 562.5L864.5 559.5L864.8 556.5L865.0 553.5L865.2 550.5L865.4 547.6L865.7 544.6L865.9 541.6L866.2 538.6L866.4 535.6L866.7 532.6L866.9 529.6L867.2 526.6L867.5 523.6L867.8 520.6L868.1 517.7L868.4 514.7L868.8 511.7L869.2 508.7L869.5 505.7L869.9 502.7L870.3 499.6L870.7 496.6L871.2 493.6L871.8 490.6L872.4 487.7L873.1 484.9L873.9 482.2L875.4 479.0L877.3 476.4L878.6 476.3L879.6 478.4L880.4 481.6L881.2 485.4L881.8 489.0L882.4 492.0L882.9 495.0L883.4 497.9L883.8 500.9L884.2 503.9L884.6 506.9L884.9 509.8L885.3 512.8L885.6 515.8L885.9 518.8L886.2 521.8L886.5 524.8L886.8 527.8L887.0 530.8L887.3 533.7L887.6 536.7L887.8 539.7L888.1 542.7L888.3 545.7L888.5 548.7L888.7 551.7L888.9 554.7L889.1 557.7L889.3 560.7L889.4 563.7L889.5 566.7L889.6 569.7L889.7 572.7L889.8 575.7L889.9 578.7L890.0 581.7L890.1 584.7L890.1 587.7L890.2 590.7L890.2 593.7L890.3 596.7L890.4 599.7L890.4 602.7L890.5 605.7L890.5 608.7L890.6 611.7L890.6 614.7L890.7 617.7L890.8 620.7L890.8 623.7L890.9 626.7L891.0 629.7L891.1 632.7L891.2 635.7L891.3 638.7L891.4 641.7L891.5 644.7L891.6 647.7L891.8 650.7L892.0 653.7L892.1 656.7L892.3 659.6L892.5 662.6L892.7 665.6L893.0 668.6L893.2 671.6L893.4 674.6L893.7 677.6L893.9 680.6L894.2 683.6L894.5 686.6L894.7 689.6L895.0 692.5L895.3 695.5L895.6 698.5L895.8 701.5L896.1 704.5L896.4 707.5L896.7 710.5L897.0 713.5L897.3 716.5L897.5 719.5L897.8 722.4L898.1 725.4L898.3 728.4L898.6 731.4L898.8 734.4L899.1 737.4L899.3 740.4L899.6 743.4L899.8 746.4L900.0 749.4L900.3 752.4L900.5 755.3L900.7 758.3L900.9 761.3L901.2 764.3L901.4 767.3L901.6 770.3L901.9 773.3L902.1 776.3L902.3 779.3L902.5 782.3L902.8 785.3L903.0 788.3L903.2 791.3L903.4 794.2L903.7 797.2L903.9 800.2L904.1 803.2L904.3 806.2L904.6 809.2L904.8 812.2L905.0 815.2L905.3 818.2L905.5 821.2L905.7 824.2L905.9 827.2L906.2 830.2L906.4 833.1L906.6 836.1L906.9 839.1L907.1 842.1L907.3 845.1L907.6 848.1L907.8 851.1L908.1 854.1L908.3 857.1L908.5 860.1L908.8 863.1L909.0 866.0L909.3 869.0L909.5 872.0L909.8 875.0L910.1 878.0L910.3 881.0L910.6 884.0L910.8 887.0L911.1 890.0L911.3 893.0L911.6 895.9L911.9 898.9L912.1 901.9L912.4 904.9L912.7 907.9L912.9 910.9L913.2 913.9L913.4 916.9L913.7 919.9L914.0 922.9L914.2 925.8L914.5 928.8L914.7 931.8L915.0 934.8L915.2 937.8L915.5 940.8L915.7 943.8L916.0 946.8L916.2 949.8L916.4 952.8L916.7 955.7L916.9 958.7L917.1 961.7L917.3 964.7L917.6 967.7L917.8 970.7L918.0 973.7L918.2 976.7L918.4 979.7L918.6 982.7L918.8 985.7L919.0 988.7L919.2 991.7L919.4 994.7L919.5 997.7L919.7 1000.7L919.9 1003.7L920.1 1006.6L920.3 1009.6L920.5 1012.6L920.6 1015.6L920.8 1018.6L921.0 1021.6L921.2 1024.6L921.4 1027.6L921.6 1030.6L921.8 1033.6L921.9 1036.6L922.1 1039.6L922.3 1042.6L922.5 1045.6L922.8 1048.6L923.0 1051.6L923.2 1054.6L923.4 1057.6L923.6 1060.5L923.9 1063.5L924.1 1066.5L924.4 1069.5L924.6 1072.5L924.9 1075.5L925.1 1078.5L925.4 1081.5L925.7 1084.5L926.0 1087.4L926.2 1090.4L926.5 1093.4L926.8 1096.4L927.1 1099.4L927.4 1102.4L927.7 1105.4L928.0 1108.4L928.3 1111.3L928.6 1114.3L928.9 1117.3L929.1 1120.3L929.4 1123.3L929.7 1126.3L930.0 1129.3L930.3 1132.3L930.6 1135.2L930.9 1138.2L931.2 1141.2L931.5 1144.2L931.8 1147.2L932.1 1150.2L932.4 1153.2L932.7 1156.1L933.0 1159.1L933.3 1162.1L933.6 1165.1L933.9 1168.1L934.2 1171.1L934.5 1174.1L934.8 1177.0L935.1 1180.0L935.4 1183.0L935.8 1186.0L936.1 1189.0L936.4 1192.0L936.8 1194.9L937.1 1197.9L937.5 1200.9L937.8 1203.9L938.2 1206.9L938.6 1209.8L938.9 1212.8L939.3 1215.8L939.7 1218.8L940.1 1221.7L940.5 1224.7L940.9 1227.7L941.3 1230.7L941.7 1233.6L942.2 1236.6L942.6 1239.6L943.0 1242.5L943.4 1245.5L943.8 1248.5L944.3 1251.5L944.7 1254.4L945.1 1257.4L945.6 1260.4L946.0 1263.3L946.4 1266.3L946.9 1269.3L947.3 1272.2L947.7 1275.2L948.2 1278.2L948.6 1281.1L949.1 1284.1L949.5 1287.1L950.0 1290.0L950.5 1293.0L950.9 1296.0L951.4 1298.9L951.9 1301.9L952.4 1304.9L952.9 1307.8L953.4 1310.8L953.9 1313.7L954.4 1316.7L954.9 1319.6L955.5 1322.6L956.0 1325.5L956.6 1328.5L957.1 1331.4L957.7 1334.4L958.3 1337.3L958.9 1340.3L959.5 1343.2L960.1 1346.2L960.7 1349.1L961.4 1352.0L962.0 1355.0L962.6 1357.9L963.3 1360.8L964.0 1363.7L964.7 1366.6L965.4 1369.6L966.2 1372.5L966.9 1375.4L967.6 1378.3L968.4 1381.2L969.1 1384.1L969.9 1387.0L970.6 1389.9L971.4 1392.8L972.1 1395.7L972.9 1398.6L973.6 1401.5L974.3 1404.5L975.1 1407.4L975.8 1410.3L976.5 1413.2L977.2 1416.1L978.0 1419.1L978.7 1422.0L979.5 1424.9L980.2 1427.8L981.0 1430.7L981.8 1433.6L982.6 1436.5L983.4 1439.4L984.3 1442.2L985.1 1445.1L986.0 1447.9L986.9 1450.8L987.9 1453.6L988.9 1456.4L989.9 1459.3L990.9 1462.1L991.9 1464.9L993.0 1467.8L994.1 1470.6L995.2 1473.4L996.4 1476.2L997.5 1478.9L998.7 1481.7L999.9 1484.4L1001.1 1487.2L1002.4 1489.9L1003.7 1492.6L1005.0 1495.3L1006.3 1497.9L1007.7 1500.6L1009.2 1503.2L1010.7 1505.8L1012.2 1508.4L1013.7 1511.0L1015.3 1513.6L1016.9 1516.1L1018.5 1518.7L1020.1 1521.2L1021.7 1523.7L1023.4 1526.2L1025.0 1528.8L1026.6 1531.4L1028.2 1534.0L1029.8 1536.6L1031.5 1539.2L1033.1 1541.7L1034.8 1544.2L1036.6 1546.7L1038.4 1549.1L1040.3 1551.4L1042.2 1553.5L1044.2 1555.6L1046.3 1557.6L1048.6 1559.5L1050.9 1561.4L1053.4 1563.1L1055.9 1564.9L1058.5 1566.6L1061.1 1568.2L1063.7 1569.7L1066.3 1571.2L1068.9 1572.6L1071.6 1574.0L1074.2 1575.4L1076.9 1576.8L1079.7 1578.1L1082.4 1579.3L1085.2 1580.5L1088.0 1581.6L1090.9 1582.6L1093.7 1583.5L1096.6 1584.2L1099.4 1584.9L1102.4 1585.5L1105.3 1586.0L1108.2 1586.6L1111.2 1587.1L1114.2 1587.5L1117.2 1588.0L1120.2 1588.4L1123.2 1588.9L1126.1 1589.3L1129.1 1589.8L1132.1 1590.3L1135.0 1590.9L1138.0 1591.4L1140.9 1591.9L1143.9 1592.4L1146.9 1592.9L1149.8 1593.4L1152.8 1593.9L1155.7 1594.4L1158.7 1594.9L1161.7 1595.4L1164.6 1595.9L1167.6 1596.4L1170.5 1596.9L1173.5 1597.4L1176.5 1597.9L1179.4 1598.4L1182.4 1598.8L1185.3 1599.3L1188.3 1599.8L1191.3 1600.3L1194.2 1600.7L1197.2 1601.2L1200.2 1601.7L1203.1 1602.2L1206.1 1602.6L1209.1 1603.1L1212.0 1603.5L1215.0 1603.9L1218.0 1604.3L1220.9 1604.7L1223.9 1605.1L1226.9 1605.4L1229.9 1605.8L1232.9 1606.1L1235.8 1606.4L1238.8 1606.7L1241.8 1607.0L1244.8 1607.3L1247.8 1607.6L1250.8 1607.8L1253.8 1608.1L1256.8 1608.4L1259.8 1608.6L1262.8 1608.8L1265.7 1609.1L1268.7 1609.3L1271.7 1609.4L1274.7 1609.6L1277.7 1609.8L1280.7 1609.9L1283.7 1610.1L1286.7 1610.2L1289.7 1610.4L1292.7 1610.5L1295.7 1610.7L1298.7 1610.9L1301.7 1611.1L1304.7 1611.3L1307.7 1611.6L1310.7 1611.9L1313.6 1612.3L1316.6 1612.8" stroke="#ff00cc"/>
<path d="M178.5 1512.0L181.0 1510.5L182.8 1508.1L184.3 1505.4L185.5 1502.7L186.6 1499.8L187.5 1497.0L188.3 1494.1L189.1 1491.2L189.7 1488.2L190.4 1485.3L190.9 1482.4L191.5 1479.4L192.0 1476.5L192.5 1473.5L193.0 1470.5L193.4 1467.6L193.8 1464.6L194.2 1461.6L194.6 1458.6L195.0 1455.7L195.3 1452.7L195.6 1449.7L195.9 1446.7L196.2 1443.7L196.5 1440.7L196.8 1437.7L197.1 1434.7L197.4 1431.8L197.7 1428.8L198.0 1425.8L198.2 1422.8L198.5 1419.8L198.8 1416.8L199.1 1413.8L199.4 1410.9L199.7 1407.9L200.0 1404.9L200.3 1401.9L200.6 1398.9L200.9 1395.9L201.2 1392.9L201.5 1390.0L201.8 1387.0L202.1 1384.0L202.4 1381.0L202.7 1378.0L203.0 1375.0L203.3 1372.0L203.7 1369.1L204.0 1366.1L204.2 1363.1L204.5 1360.1L204.7 1357.1L205.0 1354.1L205.2 1351.1L205.4 1348.1L205.6 1345.1L205.8 1342.1L206.0 1339.2L206.2 1336.2L206.4 1333.2L206.5 1330.2L206.7 1327.2L206.9 1324.2L207.1 1321.2L207.2 1318.2L207.4 1315.2L207.6 1312.2L207.7 1309.2L207.9 1306.2L208.0 1303.2L208.2 1300.2L208.4 1297.2L208.5 1294.2L208.7 1291.2L208.9 1288.2L209.1 1285.2L209.2 1282.2L209.4 1279.2L209.6 1276.2L209.8 1273.2L210.0 1270.2L210.2 1267.2L210.4 1264.3L210.6 1261.3L210.8 1258.3L211.0 1255.3L211.2 1252.3L211.5 1249.3L211.7 1246.3L211.9 1243.3L212.1 1240.3L212.3 1237.3L212.5 1234.3L212.8 1231.3L213.0 1228.3L213.2 1225.3L213.4 1222.4L213.6 1219.4L213.8 1216.4L214.0 1213.4L214.3 1210.4L214.5 1207.4L214.7 1204.4L214.9 1201.4L215.1 1198.4L215.3 1195.4L215.5 1192.4L215.7 1189.4L215.9 1186.4L216.0 1183.4L216.2 1180.4L216.4 1177.4L216.6 1174.4L216.8 1171.5L217.0 1168.5L217.2 1165.5L217.4 1162.5L217.5 1159.5L217.7 1156.5L217.9 1153.5L218.1 1150.5L218.3 1147.5L218.5 1144.5L218.6 1141.5L218.8 1138.5L219.0 1135.5L219.2 1132.5L219.3 1129.5L219.5 1126.5L219.7 1123.5L219.9 1120.5L220.1 1117.5L220.2 1114.5L220.4 1111.5L220.6 1108.5L220.8 1105.6L220.9 1102.6L221.1 1099.6L221.3 1096.6L221.5 1093.6L221.7 1090.6L221.8 1087.6L222.0 1084.6L222.2 1081.6L222.4 1078.6L222.5 1075.6L222.7 1072.6L222.9 1069.6L223.1 1066.6L223.3 1063.6L223.5 1060.6L223.6 1057.6L223.8 1054.6L224.0 1051.6L224.2 1048.6L224.4 1045.6L224.6 1042.7L224.8 1039.7L225.0 1036.7L225.2 1033.7L225.4 1030.7L225.6 1027.7L225.8 1024.7L226.0 1021.7L226.2 1018.7L226.4 1015.7L226.6 1012.7L226.8 1009.7L227.0 1006.7L227.2 1003.7L227.4 1000.7L227.6 997.7L227.8 994.7L228.0 991.7L228.1 988.8L228.3 985.8L228.5 982.8L228.7 979.8L228.9 976.8L229.1 973.8L229.3 970.8L229.5 967.8L229.6 964.8L229.8 961.8L230.0 958.8L230.2 955.8L230.3 952.8L230.5 949.8L230.6 946.8L230.8 943.8L231.0 940.8L231.1 937.8L231.3 934.8L231.4 931.8L231.5 928.8L231.7 925.8L231.8 922.8L231.9 919.8L232.1 916.8L232.2 913.8L232.3 910.8L232.4 907.8L232.5 904.8L232.7 901.9L232.8 898.9L232.9 895.9L233.0 892.9L233.1 889.9L233.2 886.9L233.4 883.9L233.5 880.9L233.6 877.9L233.7 874.9L233.9 871.9L234.0 868.9L234.1 865.9L234.2 862.9L234.4 859.9L234.5 856.9L234.7 853.9L234.8 850.9L234.9 847.9L235.1 844.9L235.3 841.9L235.4 838.9L235.6 835.9L235.7 832.9L235.9 829.9L236.1 826.9L236.2 823.9L236.4 820.9L236.6 817.9L236.7 814.9L236.9 811.9L237.1 808.9L237.3 805.9L237.5 802.9L237.7 799.9L237.9 797.0L238.1 794.0L238.3 791.0L238.5 788.0L238.8 785.0L239.0 782.0L239.3 779.0L239.5 776.0L239.8 773.0L240.1 770.0L240.4 767.1L240.7 764.1L241.0 761.1L241.3 758.1L241.6 755.1L241.9 752.1L242.3 749.1L242.6 746.2L242.9 743.2L243.3 740.2L243.6 737.2L243.9 734.2L244.1 731.2L244.4 728.2L244.7 725.2L245.1 722.2L245.5 719.3L245.9 716.3L246.7 712.9L247.7 709.7L248.8 709.7L250.0 712.7L251.0 716.2L251.7 719.0L252.2 722.0L252.7 724.9L253.1 727.9L253.5 730.9L253.9 733.9L254.3 736.9L254.7 739.9L255.1 742.8L255.6 745.8L256.0 748.8L256.4 751.8L256.9 754.7L257.3 757.7L257.7 760.7L258.1 763.6L258.5 766.6L258.9 769.6L259.3 772.6L259.7 775.5L260.1 778.5L260.5 781.5L260.8 784.5L261.1 787.5L261.4 790.5L261.7 793.5L262.0 796.5L262.3 799.4L262.7 802.4L263.0 805.4L263.4 808.4L263.8 811.3L264.3 814.3L264.8 817.4L265.4 821.2L266.2 824.4L267.1 825.3L268.2 823.1L269.4 819.5L270.7 816.6L272.1 813.9L273.7 811.2L275.2 808.5L276.6 805.8L277.7 803.1L278.4 800.3L278.9 797.5L279.2 794.6L279.6 791.7L279.9 788.8L280.2 785.9L280.4 782.9L280.7 779.9L280.9 776.9L281.1 773.9L281.2 770.9L281.4 767.8L281.6 764.8L281.7 761.8L281.9 758.7L282.0 755.7L282.2 752.6L282.3 749.6L282.5 746.5L282.7 743.5L282.8 740.5L283.0 737.5L283.2 734.5L283.4 731.5L283.6 728.5L283.8 725.5L284.0 722.5L284.2 719.5L284.3 716.5L284.5 713.5L284.7 710.5L284.9 707.5L285.1 704.5L285.2 701.6L285.4 698.6L285.6 695.6L285.8 692.6L285.9 689.6L286.1 686.6L286.3 683.6L286.5 680.6L286.6 677.6L286.8 674.6L287.0 671.6L287.2 668.6L287.4 665.6L287.5 662.6L287.7 659.6L287.9 656.6L288.1 653.6L288.3 650.6L288.5 647.6L288.7 644.6L288.9 641.6L289.1 638.7L289.2 635.7L289.4 632.7L289.6 629.7L289.8 626.7L290.0 623.7L290.2 620.7L290.4 617.7L290.6 614.7L290.8 611.7L291.0 608.7L291.2 605.7L291.4 602.7L291.6 599.7L291.8 596.7L292.0 593.7L292.2 590.7L292.4 587.7L292.6 584.7L292.8 581.8L293.0 578.8L293.2 575.8L293.4 572.8L293.6 569.8L293.8 566.8L294.0 563.8L294.2 560.8L294.4 557.8L294.6 554.8L294.8 551.8L295.0 548.8L295.2 545.8L295.4 542.8L295.6 539.8L295.8 536.8L296.0 533.8L296.2 530.9L296.4 527.9L296.6 524.9L296.8 521.9L297.0 518.9L297.2 515.9L297.4 512.9L297.6 509.9L297.8 506.9L298.0 503.9L298.2 500.9L298.4 497.9L298.7 494.9L298.9 491.9L299.1 488.9L299.3 486.0L299.5 483.0L299.7 480.0L299.9 477.0L300.1 474.0L300.3 471.0L300.5 468.0L300.8 465.0L301.0 462.0L301.2 459.0L301.4 456.0L301.6 453.0L301.8 450.0L302.0 447.0L302.2 444.0L302.5 441.1L302.7 438.1L302.9 435.1L303.1 432.1L303.3 429.1L303.5 426.1L303.7 423.1L304.0 420.1L304.2 417.1L304.4 414.1L304.6 411.1L304.8 408.1L305.0 405.1L305.3 402.1L305.5 399.1L305.7 396.2L305.9 393.2L306.1 390.2L306.4 387.2L306.6 384.2L306.8 381.2L307.0 378.2L307.2 375.2L307.5 372.2L307.7 369.2L307.9 366.2L308.1 363.2L308.4 360.2L308.6 357.3L308.8 354.3L309.0 351.3L309.3 348.3L309.5 345.3L309.7 342.3L309.9 339.3L310.2 336.3L310.4 333.3L310.6 330.3L310.9 327.3L311.1 324.3L311.3 321.3L311.6 318.4L311.8 315.4L312.0 312.4L312.3 309.4L312.5 306.4L312.7 303.4L313.0 300.4L313.2 297.4L313.4 294.4L313.7 291.4L313.9 288.4L314.1 285.4L314.4 282.5L314.6 279.5L314.8 276.5L315.1 273.5L315.3 270.5L315.5 267.5L315.8 264.5L316.0 261.5L316.2 258.5L316.5 255.5L316.7 252.5L317.0 249.5L317.2 246.6L317.5 243.6L317.7 240.6L317.9 237.6L318.2 234.6L318.4 231.6L318.7 228.6L318.9 225.6L319.2 222.6L319.5 219.6L319.7 216.7L320.0 213.7L320.2 210.7L320.5 207.7L320.8 204.7L321.0 201.7L321.3 198.7L321.6 195.7L321.9 192.7L322.1 189.8L322.4 186.8L322.7 183.8L323.0 180.8L323.3 177.8L323.6 174.8L323.8 171.8L324.1 168.8L324.4 165.9L324.7 162.9L325.0 159.9L325.4 156.9L325.7 153.9L326.0 150.9L326.3 147.9L326.6 145.0L327.0 142.0L327.3 139.0L327.6 136.0L328.0 133.0L328.3 130.1L328.7 127.1L329.0 124.1L329.4 121.1L329.7 118.1L330.1 115.1L330.5 112.1L330.9 109.2L331.4 106.2L331.9 103.3L332.7 99.9L333.6 96.3L334.7 94.1L335.9 94.8L337.2 97.7L338.5 101.3L339.4 104.3L340.1 107.2L340.7 110.1L341.2 113.1L341.7 116.1L342.2 119.0L342.6 122.0L343.1 125.0L343.5 128.0L344.0 130.9L344.4 133.9L344.8 136.9L345.2 139.8L345.6 142.8L346.0 145.8L346.4 148.8L346.8 151.7L347.2 154.7L347.5 157.7L347.9 160.7L348.2 163.7L348.6 166.7L348.9 169.6L349.2 172.6L349.5 175.6L349.8 178.6L350.1 181.6L350.4 184.6L350.7 187.6L350.9 190.5L351.2 193.5L351.4 196.5L351.7 199.5L351.9 202.5L352.2 205.5L352.4 208.5L352.6 211.5L352.9 214.5L353.1 217.5L353.3 220.4L353.5 223.4L353.8 226.4L354.0 229.4L354.2 232.4L354.4 235.4L354.6 238.4L354.8 241.4L355.0 244.4L355.2 247.4L355.3 250.4L355.5 253.4L355.7 256.4L355.9 259.4L356.1 262.4L356.2 265.4L356.4 268.4L356.6 271.4L356.7 274.4L356.9 277.4L357.0 280.4L357.2 283.4L357.3 286.4L357.4 289.4L357.6 292.4L357.7 295.4L357.8 298.4L358.0 301.4L358.1 304.4L358.2 307.4L358.3 310.3L358.4 313.3L358.5 316.3L358.6 319.3L358.8 322.3L358.9 325.3L359.0 328.3L359.1 331.3L359.2 334.3L359.3 337.3L359.4 340.3L359.5 343.3L359.5 346.3L359.6 349.3L359.7 352.3L359.8 355.3L359.9 358.3L360.0 361.3L360.1 364.3L360.2 367.3L360.2 370.3L360.3 373.3L360.4 376.3L360.5 379.3L360.6 382.3L360.6 385.3L360.7 388.3L360.8 391.3L360.9 394.3L361.0 397.3L361.0 400.3L361.1 403.3L361.2 406.3L361.3 409.3L361.3 412.3L361.4 415.3L361.5 418.3L361.5 421.3L361.6 424.3L361.7 427.3L361.8 430.3L361.8 433.3L361.9 436.3L362.0 439.3L362.1 442.3L362.1 445.3L362.2 448.3L362.3 451.3L362.3 454.3L362.4 457.3L362.5 460.3L362.6 463.3L362.6 466.3L362.7 469.3L362.8 472.3L362.9 475.3L363.0 478.3L363.0 481.3L363.1 484.3L363.2 487.3L363.3 490.3L363.3 493.3L363.4 496.3L363.5 499.3L363.6 502.3L363.7 505.3L363.7 508.3L363.8 511.3L363.9 514.3L364.0 517.3L364.0 520.3L364.1 523.3L364.2 526.3L364.3 529.3L364.3 532.3L364.4 535.3L364.5 538.3L364.6 541.3L364.6 544.3L364.7 547.3L364.8 550.3L364.8 553.3L364.9 556.3L365.0 559.3L365.1 562.3L365.1 565.3L365.2 568.3L365.3 571.3L365.4 574.3L365.4 577.3L365.5 580.3L365.6 583.3L365.6 586.3L365.7 589.3L365.8 592.3L365.9 595.3L365.9 598.3L366.0 601.3L366.1 604.3L366.2 607.3L366.2 610.3L366.3 613.3L366.4 616.3L366.4 619.3L366.5 622.3L366.6 625.3L366.7 628.3L366.7 631.3L366.8 634.3L366.9 637.3L367.0 640.3L367.0 643.3L367.1 646.3L367.2 649.3L367.3 652.3L367.4 655.3L367.4 658.3L367.5 661.3L367.6 664.3L367.7 667.3L367.7 670.3L367.8 673.3L367.9 676.3L368.0 679.3L368.1 682.3L368.1 685.3L368.2 688.3L368.3 691.3L368.4 694.3L368.5 697.3L368.5 700.3L368.6 703.3L368.7 706.3L368.8 709.3L368.9 712.3L368.9 715.3L369.0 718.3L369.1 721.3L369.2 724.3L369.2 727.3L369.3 730.3L369.4 733.3L369.5 736.3L369.6 739.3L369.6 742.3L369.7 745.3L369.8 748.3L369.9 751.3L370.0 754.3L370.0 757.3L370.1 760.3L370.2 763.3L370.3 766.3L370.4 769.3L370.5 772.3L370.5 775.3L370.6 778.3L370.7 781.3L370.8 784.3L370.9 787.3L371.0 790.3L371.0 793.3L371.1 796.3L371.2 799.3L371.3 802.3L371.4 805.3L371.5 808.3L371.6 811.3L371.7 814.3L371.8 817.3L371.8 820.3L371.9 823.3L372.0 826.3L372.1 829.3L372.2 832.3L372.3 835.3L372.4 838.3L372.5 841.3L372.6 844.3L372.7 847.3L372.8 850.3L372.9 853.3L373.0 856.3L373.1 859.3L373.2 862.3L373.3 865.3L373.4 868.3L373.5 871.3L373.7 874.3L373.8 877.3L373.9 880.3L374.0 883.3L374.1 886.3L374.2 889.3L374.4 892.3L374.5 895.3L374.6 898.3L374.7 901.3L374.9 904.3L375.0 907.3L375.1 910.3L375.3 913.3L375.4 916.3L375.6 919.3L375.7 922.3L375.8 925.3L376.0 928.2L376.1 931.2L376.3 934.2L376.4 937.2L376.6 940.2L376.7 943.2L376.9 946.2L377.0 949.2L377.2 952.2L377.3 955.2L377.5 958.2L377.6 961.2L377.8 964.2L377.9 967.2L378.1 970.2L378.3 973.2L378.4 976.2L378.6 979.2L378.8 982.2L378.9 985.2L379.1 988.2L379.2 991.2L379.4 994.2L379.6 997.2L379.7 1000.2L379.9 1003.2L380.1 1006.2L380.2 1009.2L380.4 1012.2L380.6 1015.2L380.7 1018.1L380.9 1021.1L381.1 1024.1L381.3 1027.1L381.4 1030.1L381.6 1033.1L381.8 1036.1L381.9 1039.1L382.1 1042.1L382.3 1045.1L382.4 1048.1L382.6 1051.1L382.8 1054.1L382.9 1057.1L383.1 1060.1L383.3 1063.1L383.4 1066.1L383.6 1069.1L383.8 1072.1L383.9 1075.1L384.1 1078.1L384.3 1081.1L384.4 1084.1L384.6 1087.1L384.8 1090.1L384.9 1093.1L385.1 1096.1L385.3 1099.1L385.4 1102.0L385.6 1105.0L385.7 1108.0L385.9 1111.0L386.0 1114.0L386.2 1117.0L386.4 1120.0L386.5 1123.0L386.7 1126.0L386.8 1129.0L387.0 1132.0L387.1 1135.0L387.3 1138.0L387.4 1141.0L387.6 1144.0L387.7 1147.0L387.8 1150.0L388.0 1153.0L388.1 1156.0L388.3 1159.0L388.4 1162.0L388.5 1165.0L388.7 1168.0L388.8 1171.0L388.9 1174.0L389.1 1177.0L389.2 1180.0L389.3 1183.0L389.5 1186.0L389.6 1189.0L389.7 1192.0L389.9 1195.0L390.0 1198.0L390.1 1201.0L390.3 1204.0L390.4 1207.0L390.5 1210.0L390.6 1213.0L390.7 1216.0L390.9 1219.0L391.0 1222.0L391.1 1225.0L391.2 1228.0L391.3 1230.9L391.4 1233.9L391.5 1236.9L391.6 1239.9L391.7 1242.9L391.8 1245.9L391.8 1249.0L391.9 1252.0L392.0 1255.0L392.1 1258.0L392.1 1261.0L392.2 1264.0L392.3 1267.0L392.3 1270.0L392.4 1273.0L392.5 1276.0L392.6 1279.0L392.7 1282.0L392.8 1285.0L392.8 1288.0L392.9 1291.0L393.1 1294.0L393.2 1296.9L393.3 1299.9L393.4 1302.9L393.6 1305.9L393.7 1308.9L393.9 1311.9L394.1 1314.9L394.3 1317.9L394.5 1320.9L394.7 1323.9L395.0 1326.9L395.2 1329.9L395.5 1332.9L395.8 1335.9L396.1 1338.9L396.4 1341.9L396.7 1344.9L397.0 1347.8L397.4 1350.8L397.8 1353.8L398.1 1356.7L398.6 1359.7L399.0 1362.7L399.5 1365.7L400.1 1368.7L400.7 1371.7L401.4 1374.6L402.1 1377.5L402.9 1380.4L403.7 1383.3L404.6 1386.1L405.6 1389.0L407.0 1392.4L408.6 1395.4L410.1 1396.7L411.4 1394.7L412.8 1391.3L414.5 1388.9L416.4 1386.5L418.3 1384.2L420.2 1381.9L422.2 1379.6L424.1 1377.3L426.1 1375.0L428.0 1372.7L429.8 1370.4L431.6 1367.9L433.3 1365.4L434.9 1362.9L436.5 1360.3L438.2 1357.8L439.9 1355.4L441.8 1353.0L443.8 1350.8L445.9 1348.3L448.2 1345.7L450.6 1343.3L453.0 1341.5L455.3 1340.3L457.7 1340.2L460.2 1341.3L462.8 1343.4L465.1 1345.8L467.1 1348.3L468.7 1350.6L470.2 1353.2L471.5 1355.9L472.7 1358.8L473.7 1361.7L474.6 1364.6L475.4 1367.5L476.1 1370.3L476.7 1373.3L477.2 1376.2L477.8 1379.2L478.3 1382.2L478.8 1385.2L479.3 1388.1L479.8 1391.1L480.4 1394.0L480.9 1397.0L481.5 1399.9L482.0 1402.9L482.5 1405.9L483.0 1408.8L483.5 1411.8L484.0 1414.7L484.6 1417.7L485.1 1420.6L485.6 1423.6L486.1 1426.6L486.6 1429.5L487.2 1432.5L487.7 1435.4L488.2 1438.4L488.8 1441.3L489.4 1444.3L490.0 1447.2L490.6 1450.1L491.2 1453.1L491.8 1456.0L492.4 1459.0L493.1 1461.9L493.7 1464.8L494.4 1467.8L495.0 1470.7L495.7 1473.6L496.4 1476.5L497.1 1479.4L497.8 1482.4L498.6 1485.3L499.3 1488.2L500.1 1491.1L500.8 1494.0L501.6 1496.9L502.4 1499.8L503.2 1502.7L504.1 1505.5L504.9 1508.4L505.8 1511.3L506.7 1514.2L507.6 1517.0L508.5 1519.9L509.5 1522.7L510.5 1525.6L511.5 1528.4L512.5 1531.2L513.5 1534.0L514.6 1536.8L515.7 1539.6L516.9 1542.4L518.0 1545.2L519.3 1548.0L520.5 1550.7L521.8 1553.4L523.2 1556.1L524.5 1558.7L526.0 1561.3L527.5 1564.1L529.1 1566.9L530.7 1569.6L532.4 1572.2L534.2 1574.7L536.1 1576.9L538.1 1578.9L540.2 1580.5L542.5 1582.1L545.1 1583.7L547.8 1585.2L550.7 1586.6L553.7 1587.9L556.7 1588.8L559.6 1589.5L562.6 1589.9L565.4 1589.8L568.3 1589.4L571.3 1588.7L574.2 1587.8L577.2 1586.8L580.0 1585.7L582.8 1584.6L585.5 1583.5L588.2 1582.1L590.8 1580.5L593.3 1578.9L595.8 1577.1L598.3 1575.3L600.6 1573.5L602.9 1571.6L605.2 1569.7L607.4 1567.7L609.5 1565.6L611.6 1563.4L613.7 1561.2L615.8 1559.0L617.8 1556.8L619.9 1554.6L621.9 1552.3L623.9 1550.1L625.9 1547.9L627.9 1545.6L629.8 1543.3L631.7 1541.0L633.6 1538.7L635.5 1536.4L637.4 1534.0L639.3 1531.7L641.2 1529.3L643.0 1527.0L644.9 1524.6L646.7 1522.2L648.5 1519.8L650.3 1517.4L652.1 1515.0L653.9 1512.6L655.7 1510.2L657.4 1507.8L659.2 1505.4L661.0 1502.9L662.8 1500.5L664.5 1498.1L666.3 1495.7L668.1 1493.3L669.9 1490.9L671.7 1488.5L673.5 1486.0L675.3 1483.6L677.0 1481.2L678.8 1478.8L680.6 1476.4L682.4 1474.0L684.2 1471.6L685.9 1469.1L687.7 1466.7L689.5 1464.3L691.2 1461.9L693.0 1459.4L694.8 1457.0L696.5 1454.6L698.3 1452.1L700.0 1449.7L701.8 1447.3L703.5 1444.8L705.3 1442.4L707.0 1439.9L708.7 1437.5L710.4 1435.0L712.1 1432.5L713.8 1430.0L715.4 1427.5L717.1 1425.0L718.8 1422.5L720.4 1420.0L722.1 1417.6L723.9 1415.1L725.6 1412.6L727.3 1410.2L729.0 1407.7L730.7 1405.3L732.4 1402.8L734.2 1400.3L735.9 1397.9L737.6 1395.4L739.4 1392.9L741.0 1390.5L742.7 1387.9L744.2 1385.4L745.7 1382.8L747.0 1380.1L748.3 1377.4L749.6 1374.7L750.8 1372.0L752.0 1369.2L753.2 1366.4L754.4 1363.7L755.5 1360.9L756.7 1358.1L757.9 1355.4L759.0 1352.6L760.1 1349.8L761.2 1347.0L762.3 1344.2L763.4 1341.4L764.5 1338.6L765.5 1335.8L766.6 1333.0L767.6 1330.2L768.7 1327.4L769.8 1324.6L770.8 1321.7L771.8 1318.9L772.9 1316.1L773.9 1313.3L774.9 1310.5L775.9 1307.6L776.9 1304.8L777.9 1302.0L778.9 1299.2L779.9 1296.3L780.9 1293.5L781.9 1290.7L782.9 1287.8L783.9 1285.0L784.9 1282.2L785.9 1279.4L786.9 1276.5L788.0 1273.7L789.0 1270.9L790.0 1268.1L791.0 1265.2L792.0 1262.4L793.1 1259.6L794.1 1256.8L795.1 1253.9L796.1 1251.1L797.1 1248.3L798.1 1245.4L799.0 1242.6L800.0 1239.7L800.9 1236.9L801.8 1234.0L802.7 1231.2L803.6 1228.3L804.4 1225.4L805.3 1222.6L806.2 1219.7L807.0 1216.8L807.8 1213.9L808.7 1211.0L809.5 1208.1L810.2 1205.2L811.0 1202.3L811.7 1199.4L812.4 1196.5L813.1 1193.6L813.8 1190.6L814.4 1187.7L815.0 1184.8L815.6 1181.8L816.1 1178.9L816.6 1175.9L817.2 1173.0L817.7 1170.0L818.2 1167.1L818.7 1164.1L819.1 1161.1L819.6 1158.2L820.1 1155.2L820.6 1152.2L821.0 1149.3L821.5 1146.3L822.0 1143.3L822.5 1140.4L822.9 1137.4L823.4 1134.5L823.9 1131.5L824.3 1128.5L824.8 1125.6L825.3 1122.6L825.7 1119.6L826.1 1116.6L826.6 1113.7L827.0 1110.7L827.4 1107.7L827.7 1104.8L828.1 1101.8L828.5 1098.8L828.8 1095.8L829.1 1092.8L829.5 1089.9L829.8 1086.9L830.1 1083.9L830.4 1080.9L830.7 1077.9L831.0 1074.9L831.3 1071.9L831.6 1069.0L831.9 1066.0L832.2 1063.0L832.5 1060.0L832.8 1057.0L833.1 1054.0L833.4 1051.0L833.7 1048.1L833.9 1045.1L834.2 1042.1L834.5 1039.1L834.8 1036.1L835.1 1033.1L835.3 1030.1L835.6 1027.1L835.9 1024.1L836.2 1021.2L836.4 1018.2L836.7 1015.2L837.0 1012.2L837.2 1009.2L837.5 1006.2L837.8 1003.2L838.0 1000.2L838.3 997.3L838.6 994.3L838.8 991.3L839.1 988.3L839.4 985.3L839.6 982.3L839.9 979.3L840.2 976.3L840.4 973.3L840.7 970.3L841.0 967.4L841.2 964.4L841.5 961.4L841.7 958.4L842.0 955.4L842.3 952.4L842.5 949.4L842.8 946.4L843.0 943.4L843.3 940.5L843.6 937.5L843.8 934.5L844.1 931.5L844.3 928.5L844.6 925.5L844.8 922.5L845.1 919.5L845.3 916.5L845.6 913.5L845.9 910.6L846.1 907.6L846.4 904.6L846.6 901.6L846.9 898.6L847.1 895.6L847.4 892.6L847.6 889.6L847.8 886.6L848.1 883.6L848.3 880.6L848.6 877.7L848.8 874.7L849.1 871.7L849.3 868.7L849.5 865.7L849.8 862.7L850.0 859.7L850.2 856.7L850.5 853.7L850.7 850.7L850.9 847.7L851.2 844.8L851.4 841.8L851.6 838.8L851.8 835.8L852.1 832.8L852.3 829.8L852.5 826.8L852.7 823.8L853.0 820.8L853.2 817.8L853.4 814.8L853.6 811.8L853.8 808.8L854.1 805.8L854.3 802.9L854.5 799.9L854.7 796.9L854.9 793.9L855.1 790.9L855.3 787.9L855.6 784.9L855.8 781.9L856.0 778.9L856.2 775.9L856.4 772.9L856.6 769.9L856.8 766.9L857.0 763.9L857.2 760.9L857.4 758.0L857.7 755.0L857.9 752.0L858.1 749.0L858.3 746.0L858.5 743.0L858.7 740.0L858.9 737.0L859.1 734.0L859.3 731.0L859.5 728.0L859.7 725.0L859.9 722.0L860.1 719.0L860.3 716.0L860.5 713.0L860.7 710.1L860.9 707.1L861.1 704.1L861.3 701.1L861.5 698.1L861.7 695.1L861.9 692.1L862.1 689.1L862.3 686.1L862.5 683.1L862.7 680.1L862.9 677.1L863.1 674.1L863.3 671.1L863.5 668.1L863.7 665.1L863.9 662.1L864.1 659.1L864.2 656.2L864.4 653.2L864.6 650.2L864.8 647.2L865.0 644.2L865.2 641.2L865.4 638.2L865.6 635.2L865.8 632.2L866.0 629.2L866.2 626.2L866.4 623.2L866.6 620.2L866.8 617.2L867.0 614.2L867.1 611.2L867.3 608.2L867.5 605.2L867.7 602.2L867.9 599.3L868.1 596.3L868.2 593.3L868.4 590.3L868.6 587.3L868.8 584.3L868.9 581.3L869.1 578.3L869.3 575.3L869.4 572.3L869.6 569.3L869.7 566.3L869.9 563.3L870.0 560.3L870.2 557.3L870.3 554.3L870.5 551.3L870.6 548.3L870.8 545.3L870.9 542.3L871.1 539.3L871.2 536.3L871.4 533.3L871.5 530.3L871.6 527.3L871.8 524.3L871.9 521.3L872.1 518.3L872.2 515.3L872.4 512.3L872.5 509.4L872.7 506.4L872.8 503.4L873.0 500.4L873.1 497.4L873.3 494.4L873.4 491.4L873.6 488.4L873.7 485.4L873.9 482.4L874.0 479.4L874.2 476.4L874.3 473.4L874.5 470.4L874.6 467.4L874.8 464.4L874.9 461.4L875.1 458.4L875.3 455.4L875.4 452.4L875.6 449.4L875.7 446.4L875.9 443.4L876.1 440.4L876.2 437.4L876.4 434.4L876.6 431.4L876.8 428.4L877.0 425.4L877.1 422.4L877.3 419.5L877.5 416.5L877.7 413.5L878.0 410.5L878.2 407.5L878.4 404.5L878.7 401.5L878.9 398.5L879.1 395.5L879.4 392.5L879.6 389.5L879.9 386.5L880.1 383.6L880.4 380.6L880.7 377.6L880.9 374.6L881.1 371.6L881.4 368.6L881.6 365.6L881.9 362.6L882.1 359.6L882.3 356.6L882.5 353.6L882.8 350.7L883.0 347.7L883.2 344.7L883.4 341.7L883.7 338.7L883.9 335.7L884.1 332.7L884.3 329.7L884.5 326.7L884.8 323.7L885.0 320.7L885.2 317.7L885.5 314.7L885.7 311.7L885.9 308.8L886.2 305.8L886.4 302.8L886.6 299.8L886.9 296.8L887.1 293.8L887.3 290.8L887.6 287.8L887.8 284.8L888.1 281.8L888.3 278.8L888.6 275.9L888.8 272.9L889.1 269.9L889.3 266.9L889.6 263.9L889.9 260.9L890.1 257.9L890.4 254.9L890.7 251.9L891.0 248.9L891.2 246.0L891.5 243.0L891.8 240.0L892.2 237.0L892.5 234.0L892.8 231.0L893.2 228.1L893.6 225.1L893.9 222.1L894.3 219.1L894.7 216.0L895.2 213.0L895.7 210.1L896.3 207.2L897.1 204.4L898.3 201.0L900.0 198.0L901.5 197.2L903.1 199.0L904.7 202.2L905.9 205.6L906.6 208.4L907.3 211.3L907.9 214.2L908.4 217.2L908.8 220.2L909.2 223.2L909.6 226.2L909.9 229.2L910.2 232.2L910.5 235.2L910.8 238.2L911.0 241.1L911.3 244.1L911.5 247.1L911.7 250.1L911.9 253.1L912.1 256.1L912.4 259.1L912.6 262.1L912.8 265.1L913.1 268.1L913.3 271.1L913.6 274.1L913.8 277.1L914.1 280.1L914.3 283.0L914.6 286.0L914.9 289.0L915.1 292.0L915.4 295.0L915.6 298.0L915.9 301.0L916.1 304.0L916.3 307.0L916.6 310.0L916.8 313.0L917.0 315.9L917.3 318.9L917.5 321.9L917.7 324.9L918.0 327.9L918.2 330.9L918.4 333.9L918.6 336.9L918.8 339.9L919.1 342.9L919.3 345.9L919.5 348.9L919.7 351.9L919.9 354.8L920.1 357.8L920.3 360.8L920.5 363.8L920.8 366.8L921.0 369.8L921.2 372.8L921.4 375.8L921.6 378.8L921.8 381.8L922.0 384.8L922.2 387.8L922.4 390.8L922.6 393.8L922.8 396.8L923.0 399.8L923.1 402.8L923.3 405.8L923.4 408.7L923.6 411.7L923.7 414.7L923.8 417.7L924.0 420.7L924.1 423.7L924.2 426.7L924.3 429.7L924.4 432.7L924.5 435.7L924.6 438.7L924.7 441.7L924.8 444.7L924.9 447.7L925.0 450.7L925.1 453.7L925.2 456.7L925.3 459.7L925.4 462.7L925.5 465.7L925.6 468.7L925.7 471.7L925.8 474.7L925.9 477.7L926.0 480.7L926.2 483.7L926.3 486.7L926.4 489.7L926.6 492.7L926.7 495.7L926.8 498.7L927.0 501.7L927.1 504.7L927.3 507.7L927.4 510.7L927.6 513.7L927.7 516.7L927.9 519.7L928.1 522.7L928.2 525.7L928.4 528.7L928.5 531.7L928.7 534.7L928.8 537.7L929.0 540.7L929.2 543.7L929.3 546.7L929.5 549.7L929.6 552.7L929.8 555.6L929.9 558.6L930.1 561.6L930.2 564.6L930.4 567.6L930.5 570.6L930.7 573.6L930.8 576.6L931.0 579.6L931.1 582.6L931.3 585.6L931.4 588.6L931.6 591.6L931.7 594.6L931.9 597.6L932.0 600.6L932.2 603.6L932.3 606.6L932.5 609.6L932.6 612.6L932.8 615.6L932.9 618.6L933.1 621.6L933.2 624.6L933.4 627.6L933.5 630.6L933.7 633.6L933.8 636.6L934.0 639.6L934.1 642.6L934.3 645.6L934.4 648.6L934.6 651.6L934.7 654.6L934.9 657.5L935.0 660.5L935.2 663.5L935.3 666.5L935.5 669.5L935.6 672.5L935.8 675.5L935.9 678.5L936.1 681.5L936.2 684.5L936.4 687.5L936.6 690.5L936.7 693.5L936.9 696.5L937.0 699.5L937.2 702.5L937.3 705.5L937.5 708.5L937.6 711.5L937.8 714.5L937.9 717.5L938.1 720.5L938.3 723.5L938.4 726.5L938.6 729.5L938.7 732.5L938.9 735.5L939.1 738.5L939.2 741.5L939.4 744.5L939.6 747.4L939.7 750.4L939.9 753.4L940.1 756.4L940.2 759.4L940.4 762.4L940.6 765.4L940.7 768.4L940.9 771.4L941.1 774.4L941.3 777.4L941.4 780.4L941.6 783.4L941.8 786.4L942.0 789.4L942.1 792.4L942.3 795.4L942.5 798.4L942.7 801.4L942.9 804.4L943.1 807.4L943.2 810.4L943.4 813.4L943.6 816.4L943.8 819.3L944.0 822.3L944.2 825.3L944.4 828.3L944.6 831.3L944.7 834.3L944.9 837.3L945.1 840.3L945.3 843.3L945.5 846.3L945.7 849.3L945.9 852.3L946.1 855.3L946.3 858.3L946.5 861.3L946.8 864.3L947.0 867.3L947.2 870.2L947.4 873.2L947.6 876.2L947.9 879.2L948.1 882.2L948.3 885.2L948.6 888.2L948.8 891.2L949.0 894.2L949.3 897.2L949.5 900.2L949.7 903.2L950.0 906.1L950.2 909.1L950.5 912.1L950.7 915.1L950.9 918.1L951.2 921.1L951.4 924.1L951.6 927.1L951.9 930.1L952.1 933.1L952.3 936.1L952.6 939.1L952.8 942.0L953.0 945.0L953.2 948.0L953.4 951.0L953.6 954.0L953.8 957.0L954.1 960.0L954.3 963.0L954.4 966.0L954.6 969.0L954.8 972.0L955.0 975.0L955.2 978.0L955.3 981.0L955.5 984.0L955.7 987.0L955.8 990.0L956.0 993.0L956.1 996.0L956.3 999.0L956.4 1002.0L956.6 1005.0L956.8 1008.0L956.9 1010.9L957.1 1013.9L957.2 1016.9L957.4 1019.9L957.5 1022.9L957.7 1025.9L957.8 1028.9L958.0 1031.9L958.2 1034.9L958.4 1037.9L958.6 1040.9L958.7 1043.9L958.9 1046.9L959.1 1049.9L959.3 1052.9L959.6 1055.9L959.8 1058.9L960.0 1061.9L960.3 1064.8L960.6 1067.8L960.8 1070.8L961.1 1073.8L961.4 1076.8L961.7 1079.8L962.0 1082.8L962.4 1085.7L962.7 1088.7L963.0 1091.7L963.3 1094.7L963.6 1097.7L963.9 1100.7L964.2 1103.7L964.6 1106.6L964.9 1109.6L965.2 1112.6L965.5 1115.6L965.7 1118.6L966.0 1121.6L966.3 1124.6L966.6 1127.6L966.9 1130.5L967.2 1133.5L967.4 1136.5L967.7 1139.5L968.0 1142.5L968.3 1145.5L968.6 1148.5L968.9 1151.5L969.2 1154.4L969.4 1157.4L969.7 1160.4L970.0 1163.4L970.3 1166.4L970.6 1169.4L971.0 1172.4L971.3 1175.3L971.6 1178.3L971.9 1181.3L972.3 1184.3L972.6 1187.3L972.9 1190.2L973.3 1193.2L973.6 1196.2L974.0 1199.2L974.3 1202.2L974.7 1205.1L975.1 1208.1L975.4 1211.1L975.8 1214.1L976.2 1217.1L976.6 1220.0L976.9 1223.0L977.3 1226.0L977.7 1229.0L978.1 1231.9L978.5 1234.9L978.9 1237.9L979.3 1240.9L979.8 1243.8L980.2 1246.8L980.6 1249.8L981.0 1252.7L981.4 1255.7L981.9 1258.7L982.3 1261.7L982.8 1264.6L983.2 1267.6L983.7 1270.5L984.2 1273.5L984.7 1276.5L985.1 1279.4L985.6 1282.4L986.1 1285.3L986.6 1288.3L987.2 1291.3L987.7 1294.2L988.2 1297.2L988.7 1300.1L989.2 1303.1L989.7 1306.1L990.2 1309.0L990.7 1312.0L991.2 1314.9L991.7 1317.9L992.2 1320.9L992.7 1323.8L993.2 1326.8L993.7 1329.7L994.2 1332.7L994.7 1335.7L995.2 1338.6L995.7 1341.6L996.3 1344.5L996.9 1347.4L997.5 1350.4L998.1 1353.3L998.8 1356.2L999.5 1359.2L1000.2 1362.1L1000.9 1365.0L1001.6 1367.9L1002.4 1370.8L1003.2 1373.7L1003.9 1376.6L1004.7 1379.5L1005.4 1382.4L1006.2 1385.3L1007.0 1388.2L1007.7 1391.1L1008.5 1394.0L1009.3 1396.9L1010.1 1399.8L1010.9 1402.7L1011.7 1405.6L1012.5 1408.5L1013.3 1411.4L1014.1 1414.3L1015.0 1417.2L1015.8 1420.0L1016.6 1422.9L1017.5 1425.8L1018.3 1428.7L1019.2 1431.6L1020.0 1434.4L1020.9 1437.3L1021.7 1440.2L1022.6 1443.1L1023.4 1446.0L1024.3 1448.9L1025.2 1451.8L1026.0 1454.6L1026.9 1457.5L1027.8 1460.4L1028.8 1463.2L1029.7 1466.1L1030.7 1468.9L1031.8 1471.7L1032.8 1474.5L1033.9 1477.2L1035.0 1480.0L1036.2 1482.8L1037.4 1485.5L1038.7 1488.3L1039.9 1491.0L1041.3 1493.7L1042.6 1496.4L1044.0 1499.1L1045.4 1501.8L1046.9 1504.4L1048.4 1507.0L1049.9 1509.6L1051.4 1512.1L1053.0 1514.6L1054.7 1517.1L1056.4 1519.6L1058.1 1522.0L1059.9 1524.5L1061.8 1526.9L1063.6 1529.2L1065.6 1531.6L1067.5 1533.9L1069.5 1536.1L1071.5 1538.4L1073.5 1540.5L1075.6 1542.7L1077.7 1544.8L1079.9 1546.9L1082.1 1548.9L1084.3 1550.9L1086.6 1552.9L1089.0 1554.8L1091.3 1556.7L1093.7 1558.5L1096.1 1560.3L1098.6 1562.0L1101.1 1563.6L1103.7 1565.1L1106.3 1566.6L1109.0 1568.0L1111.7 1569.3L1114.4 1570.5L1117.2 1571.6L1120.0 1572.7L1122.8 1573.7L1125.7 1574.7L1128.5 1575.7L1131.4 1576.6L1134.2 1577.6L1137.0 1578.6L1139.9 1579.5L1142.7 1580.5L1145.6 1581.4L1148.5 1582.2L1151.4 1583.0L1154.3 1583.7L1157.2 1584.3L1160.2 1585.0L1163.1 1585.6L1166.0 1586.2L1169.0 1586.8L1171.9 1587.4L1174.9 1588.0L1177.8 1588.6L1180.7 1589.2L1183.7 1589.8L1186.6 1590.3L1189.6 1590.9L1192.5 1591.5L1195.5 1592.1L1198.4 1592.6L1201.4 1593.2L1204.3 1593.8L1207.3 1594.4L1210.2 1594.9L1213.1 1595.5L1216.1 1596.1L1219.0 1596.8L1221.9 1597.6L1224.9 1598.3L1227.8 1598.7L1230.8 1598.9L1233.8 1598.9L1236.8 1599.0L1239.8 1599.0L1242.8 1599.0L1245.8 1599.1L1248.8 1599.1L1251.8 1599.2L1254.8 1599.3L1257.8 1599.6L1260.8 1599.9L1263.7 1600.3L1266.7 1600.8L1269.7 1601.3L1272.7 1601.7L1275.6 1602.1L1278.6 1602.5L1281.6 1602.8L1284.6 1603.1L1287.6 1603.4L1290.6 1603.7L1293.5 1604.0L1296.5 1604.2L1299.5 1604.5L1302.5 1604.7L1305.5 1604.9L1308.5 1605.1L1311.5 1605.2L1314.5 1605.4L1317.5 1605.5" stroke="#ff0000"/>
<path d="M178.5 1456.5L181.4 1455.9L184.0 1454.1L185.7 1451.9L186.9 1449.1L187.9 1446.1L188.9 1443.3L189.9 1440.5L190.9 1437.6L191.7 1434.7L192.4 1431.8L193.0 1428.9L193.6 1426.0L194.1 1423.0L194.6 1420.0L195.1 1417.1L195.5 1414.1L196.0 1411.1L196.4 1408.2L196.8 1405.2L197.2 1402.2L197.6 1399.2L198.0 1396.3L198.4 1393.3L198.7 1390.3L199.1 1387.3L199.4 1384.3L199.7 1381.4L200.1 1378.4L200.4 1375.4L200.7 1372.4L201.0 1369.4L201.2 1366.4L201.5 1363.4L201.8 1360.4L202.0 1357.5L202.2 1354.5L202.5 1351.5L202.7 1348.5L202.9 1345.5L203.1 1342.5L203.3 1339.5L203.6 1336.5L203.8 1333.5L204.0 1330.5L204.1 1327.5L204.3 1324.5L204.5 1321.5L204.7 1318.5L204.9 1315.5L205.1 1312.6L205.3 1309.6L205.5 1306.6L205.6 1303.6L205.8 1300.6L206.0 1297.6L206.2 1294.6L206.4 1291.6L206.6 1288.6L206.8 1285.6L207.0 1282.6L207.2 1279.6L207.4 1276.6L207.6 1273.6L207.8 1270.6L208.0 1267.6L208.2 1264.6L208.4 1261.6L208.7 1258.7L208.9 1255.7L209.1 1252.7L209.3 1249.7L209.6 1246.7L209.8 1243.7L210.0 1240.7L210.2 1237.7L210.5 1234.7L210.7 1231.7L210.9 1228.7L211.2 1225.7L211.4 1222.7L211.6 1219.8L211.8 1216.8L212.0 1213.8L212.2 1210.8L212.5 1207.8L212.7 1204.8L212.9 1201.8L213.1 1198.8L213.3 1195.8L213.5 1192.8L213.7 1189.8L213.9 1186.8L214.1 1183.8L214.2 1180.8L214.4 1177.8L214.6 1174.8L214.8 1171.9L215.0 1168.9L215.2 1165.9L215.3 1162.9L215.5 1159.9L215.7 1156.9L215.9 1153.9L216.0 1150.9L216.2 1147.9L216.4 1144.9L216.5 1141.9L216.7 1138.9L216.9 1135.9L217.1 1132.9L217.2 1129.9L217.4 1126.9L217.6 1123.9L217.8 1120.9L217.9 1117.9L218.1 1114.9L218.3 1111.9L218.5 1108.9L218.6 1105.9L218.8 1102.9L219.0 1100.0L219.2 1097.0L219.4 1094.0L219.5 1091.0L219.7 1088.0L219.9 1085.0L220.1 1082.0L220.3 1079.0L220.5 1076.0L220.7 1073.0L220.9 1070.0L221.1 1067.0L221.3 1064.0L221.5 1061.0L221.7 1058.0L222.0 1055.0L222.2 1052.1L222.4 1049.1L222.7 1046.1L222.9 1043.1L223.2 1040.1L223.4 1037.1L223.7 1034.1L223.9 1031.1L224.2 1028.1L224.5 1025.1L224.7 1022.2L225.0 1019.2L225.3 1016.2L225.5 1013.2L225.8 1010.2L226.1 1007.2L226.4 1004.2L226.7 1001.2L226.9 998.2L227.2 995.3L227.5 992.3L227.8 989.3L228.0 986.3L228.3 983.3L228.6 980.3L228.8 977.3L229.1 974.3L229.4 971.3L229.6 968.4L229.9 965.4L230.1 962.4L230.4 959.4L230.6 956.4L230.8 953.4L231.1 950.4L231.3 947.4L231.5 944.4L231.7 941.4L231.9 938.4L232.1 935.4L232.3 932.5L232.5 929.5L232.6 926.5L232.8 923.5L233.0 920.5L233.1 917.5L233.3 914.5L233.5 911.5L233.6 908.5L233.8 905.5L234.0 902.5L234.1 899.5L234.3 896.5L234.5 893.5L234.7 890.5L234.9 887.5L235.1 884.5L235.4 881.5L235.6 878.5L235.8 875.6L236.1 872.6L236.3 869.6L236.5 866.6L236.8 863.6L237.0 860.6L237.2 857.6L237.4 854.6L237.6 851.6L237.8 848.6L237.9 845.6L238.1 842.6L238.2 839.6L238.4 836.6L238.5 833.6L238.6 830.6L238.8 827.6L238.9 824.6L239.1 821.6L239.2 818.6L239.4 815.6L239.5 812.6L239.7 809.6L239.9 806.6L240.1 803.7L240.3 800.7L240.6 797.7L240.9 794.7L241.2 791.7L241.6 788.7L242.0 785.7L242.4 782.7L242.9 779.8L243.5 776.9L244.3 773.4L245.4 769.8L246.7 767.3L247.9 767.1L249.3 769.4L250.7 772.9L251.9 776.0L252.8 778.8L253.6 781.7L254.4 784.6L255.4 787.5L256.4 790.3L257.8 793.6L259.3 797.1L260.8 800.2L262.4 802.3L263.9 803.1L265.4 801.1L266.7 797.7L267.9 794.9L269.1 792.1L270.2 789.2L271.1 786.4L271.7 783.5L272.2 780.6L272.7 777.7L273.2 774.7L273.6 771.8L274.0 768.8L274.3 765.8L274.6 762.8L274.9 759.8L275.2 756.8L275.5 753.8L275.8 750.8L276.0 747.8L276.3 744.8L276.6 741.8L276.9 738.8L277.2 735.8L277.5 732.8L277.8 729.8L278.1 726.8L278.4 723.8L278.7 720.9L279.0 717.9L279.3 714.9L279.6 711.9L279.8 708.9L280.1 705.9L280.4 702.9L280.7 699.9L280.9 697.0L281.2 694.0L281.5 691.0L281.8 688.0L282.1 685.0L282.4 682.0L282.6 679.0L282.9 676.0L283.2 673.1L283.5 670.1L283.8 667.1L284.0 664.1L284.3 661.1L284.6 658.1L284.8 655.1L285.1 652.1L285.3 649.1L285.6 646.2L285.8 643.2L286.1 640.2L286.3 637.2L286.6 634.2L286.8 631.2L287.0 628.2L287.3 625.2L287.5 622.2L287.8 619.2L288.0 616.2L288.2 613.3L288.5 610.3L288.7 607.3L288.9 604.3L289.1 601.3L289.4 598.3L289.6 595.3L289.8 592.3L290.1 589.3L290.3 586.3L290.5 583.3L290.7 580.3L290.9 577.4L291.2 574.4L291.4 571.4L291.6 568.4L291.8 565.4L292.1 562.4L292.3 559.4L292.5 556.4L292.7 553.4L292.9 550.4L293.2 547.4L293.4 544.4L293.6 541.4L293.8 538.4L294.0 535.5L294.3 532.5L294.5 529.5L294.7 526.5L294.9 523.5L295.1 520.5L295.4 517.5L295.6 514.5L295.8 511.5L296.0 508.5L296.3 505.5L296.5 502.5L296.7 499.5L296.9 496.6L297.2 493.6L297.4 490.6L297.6 487.6L297.8 484.6L298.1 481.6L298.3 478.6L298.5 475.6L298.8 472.6L299.0 469.6L299.2 466.6L299.5 463.6L299.7 460.6L299.9 457.7L300.2 454.7L300.4 451.7L300.7 448.7L300.9 445.7L301.1 442.7L301.4 439.7L301.6 436.7L301.8 433.7L302.1 430.7L302.3 427.7L302.6 424.8L302.8 421.8L303.0 418.8L303.3 415.8L303.5 412.8L303.8 409.8L304.0 406.8L304.2 403.8L304.5 400.8L304.7 397.8L304.9 394.8L305.2 391.9L305.4 388.9L305.7 385.9L305.9 382.9L306.1 379.9L306.4 376.9L306.6 373.9L306.9 370.9L307.1 367.9L307.3 364.9L307.6 361.9L307.8 358.9L308.0 356.0L308.3 353.0L308.5 350.0L308.7 347.0L309.0 344.0L309.2 341.0L309.5 338.0L309.7 335.0L309.9 332.0L310.2 329.0L310.4 326.0L310.6 323.0L310.8 320.1L311.1 317.1L311.3 314.1L311.5 311.1L311.8 308.1L312.0 305.1L312.2 302.1L312.4 299.1L312.7 296.1L312.9 293.1L313.1 290.1L313.3 287.1L313.5 284.1L313.7 281.2L313.9 278.2L314.1 275.2L314.3 272.2L314.5 269.2L314.7 266.2L314.9 263.2L315.1 260.2L315.3 257.2L315.5 254.2L315.7 251.2L315.9 248.2L316.1 245.2L316.4 242.2L316.6 239.2L316.8 236.2L317.0 233.2L317.2 230.2L317.4 227.2L317.6 224.3L317.9 221.3L318.1 218.3L318.3 215.3L318.6 212.3L318.8 209.3L319.1 206.3L319.3 203.3L319.6 200.3L319.8 197.4L320.1 194.4L320.4 191.4L320.7 188.4L321.0 185.4L321.3 182.4L321.6 179.4L321.9 176.5L322.2 173.5L322.6 170.5L322.9 167.5L323.3 164.5L323.6 161.5L324.0 158.6L324.4 155.6L324.8 152.6L325.2 149.6L325.6 146.7L326.0 143.7L326.4 140.7L326.8 137.7L327.3 134.8L327.7 131.8L328.2 128.8L328.6 125.9L329.0 122.8L329.5 119.8L329.9 116.8L330.5 113.8L331.0 110.9L331.7 108.0L332.4 105.1L333.2 102.3L334.5 98.9L336.1 95.8L337.7 94.1L339.3 94.9L340.9 97.6L342.3 101.1L343.3 104.0L344.1 106.9L344.7 109.7L345.3 112.7L345.9 115.7L346.4 118.7L346.8 121.7L347.2 124.7L347.7 127.7L348.1 130.7L348.5 133.6L348.9 136.6L349.4 139.6L349.8 142.5L350.1 145.5L350.5 148.5L350.9 151.5L351.3 154.5L351.6 157.4L352.0 160.4L352.3 163.4L352.7 166.4L353.0 169.4L353.3 172.4L353.6 175.3L353.9 178.3L354.2 181.3L354.4 184.3L354.7 187.3L354.9 190.3L355.2 193.3L355.4 196.3L355.6 199.3L355.9 202.2L356.1 205.2L356.3 208.2L356.5 211.2L356.7 214.2L356.9 217.2L357.1 220.2L357.3 223.2L357.5 226.2L357.7 229.2L357.9 232.2L358.1 235.2L358.3 238.2L358.5 241.2L358.7 244.2L358.8 247.2L359.0 250.2L359.2 253.2L359.3 256.2L359.5 259.1L359.6 262.1L359.8 265.1L360.0 268.1L360.1 271.1L360.3 274.1L360.4 277.1L360.5 280.1L360.7 283.1L360.8 286.1L360.9 289.1L361.1 292.1L361.2 295.1L361.3 298.1L361.4 301.1L361.6 304.1L361.7 307.1L361.8 310.1L361.9 313.1L362.0 316.1L362.1 319.1L362.2 322.1L362.4 325.1L362.5 328.1L362.6 331.1L362.7 334.1L362.8 337.1L362.9 340.1L363.0 343.1L363.1 346.1L363.2 349.1L363.3 352.1L363.3 355.1L363.4 358.1L363.5 361.1L363.6 364.1L363.7 367.1L363.8 370.1L363.9 373.1L364.0 376.1L364.0 379.1L364.1 382.1L364.2 385.1L364.3 388.1L364.4 391.1L364.5 394.1L364.5 397.1L364.6 400.1L364.7 403.1L364.8 406.1L364.9 409.1L364.9 412.1L365.0 415.1L365.1 418.1L365.2 421.1L365.2 424.1L365.3 427.1L365.4 430.1L365.5 433.1L365.6 436.1L365.6 439.1L365.7 442.1L365.8 445.1L365.9 448.1L365.9 451.1L366.0 454.1L366.1 457.1L366.2 460.1L366.2 463.1L366.3 466.1L366.4 469.1L366.5 472.1L366.6 475.1L366.6 478.1L366.7 481.1L366.8 484.1L366.9 487.1L367.0 490.1L367.1 493.1L367.1 496.1L367.2 499.1L367.3 502.1L367.4 505.1L367.4 508.1L367.5 511.1L367.6 514.1L367.7 517.1L367.7 520.1L367.8 523.1L367.9 526.1L368.0 529.1L368.0 532.1L368.1 535.1L368.2 538.1L368.3 541.1L368.3 544.1L368.4 547.1L368.5 550.1L368.6 553.1L368.6 556.1L368.7 559.1L368.8 562.1L368.8 565.1L368.9 568.1L369.0 571.1L369.1 574.1L369.1 577.1L369.2 580.1L369.3 583.1L369.4 586.1L369.4 589.1L369.5 592.1L369.6 595.1L369.6 598.1L369.7 601.1L369.8 604.1L369.9 607.1L369.9 610.1L370.0 613.1L370.1 616.1L370.2 619.1L370.2 622.1L370.3 625.1L370.4 628.1L370.5 631.1L370.5 634.1L370.6 637.1L370.7 640.1L370.8 643.1L370.9 646.1L370.9 649.1L371.0 652.1L371.1 655.1L371.2 658.1L371.3 661.1L371.3 664.1L371.4 667.1L371.5 670.1L371.6 673.1L371.7 676.1L371.8 679.1L371.9 682.1L371.9 685.1L372.0 688.1L372.1 691.1L372.2 694.1L372.3 697.1L372.4 700.1L372.5 703.1L372.6 706.1L372.7 709.1L372.7 712.1L372.8 715.1L372.9 718.1L373.0 721.1L373.1 724.1L373.2 727.1L373.3 730.1L373.4 733.1L373.5 736.1L373.6 739.1L373.7 742.1L373.8 745.1L373.9 748.1L373.9 751.1L374.0 754.1L374.1 757.1L374.2 760.1L374.3 763.0L374.4 766.0L374.5 769.0L374.6 772.0L374.7 775.0L374.8 778.0L374.9 781.0L375.0 784.0L375.1 787.0L375.2 790.0L375.3 793.0L375.4 796.0L375.5 799.0L375.6 802.0L375.7 805.0L375.9 808.0L376.0 811.0L376.1 814.0L376.2 817.0L376.3 820.0L376.4 823.0L376.5 826.0L376.6 829.0L376.7 832.0L376.8 835.0L376.9 838.0L377.1 841.0L377.2 844.0L377.3 847.0L377.4 850.0L377.5 853.0L377.6 856.0L377.8 859.0L377.9 862.0L378.0 865.0L378.1 868.0L378.2 871.0L378.4 874.0L378.5 877.0L378.6 880.0L378.7 883.0L378.8 886.0L379.0 889.0L379.1 892.0L379.2 895.0L379.3 898.0L379.4 901.0L379.6 904.0L379.7 907.0L379.8 910.0L379.9 913.0L380.0 916.0L380.2 919.0L380.3 922.0L380.4 925.0L380.5 928.0L380.6 931.0L380.7 934.0L380.9 937.0L381.0 940.0L381.1 943.0L381.2 946.0L381.4 949.0L381.5 952.0L381.6 955.0L381.7 958.0L381.8 961.0L382.0 964.0L382.1 967.0L382.2 970.0L382.4 973.0L382.5 976.0L382.6 979.0L382.7 982.0L382.9 985.0L383.0 988.0L383.1 991.0L383.3 994.0L383.4 997.0L383.5 1000.0L383.7 1003.0L383.8 1006.0L384.0 1009.0L384.1 1012.0L384.2 1015.0L384.4 1018.0L384.5 1021.0L384.7 1024.0L384.8 1027.0L385.0 1030.0L385.1 1033.0L385.3 1036.0L385.4 1039.0L385.6 1042.0L385.8 1045.0L385.9 1048.0L386.1 1051.0L386.2 1054.0L386.4 1057.0L386.6 1060.0L386.8 1063.0L386.9 1066.0L387.1 1069.0L387.3 1072.0L387.5 1075.0L387.6 1078.0L387.8 1081.0L388.0 1084.0L388.2 1087.0L388.4 1090.0L388.6 1092.9L388.8 1095.9L389.0 1098.9L389.2 1101.9L389.4 1104.9L389.6 1107.9L389.8 1110.9L390.0 1113.9L390.2 1116.9L390.4 1119.9L390.6 1122.9L390.9 1125.8L391.1 1128.8L391.3 1131.8L391.5 1134.8L391.8 1137.8L392.0 1140.8L392.2 1143.8L392.5 1146.7L392.7 1149.7L393.0 1152.7L393.2 1155.7L393.5 1158.7L393.7 1161.6L394.0 1164.6L394.4 1167.6L394.7 1170.6L395.1 1173.6L395.6 1176.5L396.0 1179.5L396.4 1182.5L396.9 1185.4L397.4 1188.4L397.8 1191.4L398.3 1194.3L398.7 1197.3L399.2 1200.3L399.6 1203.3L400.0 1206.2L400.4 1209.2L400.8 1212.2L401.2 1215.1L401.6 1218.1L402.0 1221.1L402.4 1224.1L402.8 1227.1L403.2 1230.0L403.6 1233.0L404.0 1236.0L404.5 1238.9L404.9 1241.9L405.3 1244.9L405.8 1247.8L406.3 1250.8L406.8 1253.7L407.4 1256.7L408.0 1259.6L408.6 1262.6L409.1 1265.5L409.6 1268.5L410.0 1272.3L410.4 1274.9L410.7 1274.0L410.9 1270.9L411.2 1266.9L411.6 1263.6L413.0 1260.4L414.7 1259.9L416.5 1262.2L418.4 1265.3L420.5 1267.7L423.1 1268.8L426.1 1269.6L429.2 1270.0L432.1 1269.7L435.0 1268.6L437.9 1267.2L440.7 1265.8L443.5 1265.1L446.1 1265.3L448.9 1266.8L451.4 1269.0L453.5 1271.3L455.0 1273.5L456.2 1276.0L457.4 1278.7L458.3 1281.6L459.2 1284.7L460.1 1287.7L460.9 1290.8L461.7 1293.8L462.5 1296.7L463.2 1299.6L463.8 1302.5L464.4 1305.5L465.0 1308.5L465.6 1311.5L466.1 1314.4L466.7 1317.4L467.3 1320.4L467.9 1323.3L468.5 1326.3L469.2 1329.1L470.0 1332.0L470.9 1334.8L472.0 1337.5L473.4 1340.1L475.0 1342.7L476.7 1345.3L478.3 1347.9L479.7 1350.5L480.9 1353.2L481.8 1356.0L482.7 1358.8L483.6 1361.7L484.3 1364.6L485.0 1367.5L485.7 1370.4L486.4 1373.4L487.0 1376.3L487.7 1379.3L488.4 1382.3L489.0 1385.2L489.8 1388.1L490.5 1391.0L491.3 1393.9L492.2 1396.8L493.0 1399.7L493.8 1402.6L494.7 1405.4L495.6 1408.3L496.4 1411.2L497.3 1414.1L498.2 1416.9L499.0 1419.8L499.9 1422.7L500.8 1425.6L501.6 1428.4L502.4 1431.3L503.2 1434.2L503.9 1437.1L504.7 1440.1L505.4 1443.0L506.1 1445.9L506.8 1448.9L507.5 1451.8L508.2 1454.7L508.9 1457.6L509.6 1460.6L510.4 1463.4L511.2 1466.3L512.1 1469.2L513.0 1472.0L514.0 1474.8L515.0 1477.7L516.0 1480.5L517.1 1483.4L518.3 1486.3L519.5 1489.1L520.8 1491.9L522.2 1494.6L523.6 1497.2L525.1 1499.6L526.7 1502.0L528.5 1504.2L530.5 1506.4L532.7 1508.6L535.0 1510.6L537.4 1512.6L539.9 1514.4L542.4 1516.1L544.9 1517.6L547.5 1519.1L550.2 1520.7L553.0 1522.2L555.8 1523.5L558.7 1524.6L561.6 1525.2L564.4 1525.3L567.3 1525.0L570.2 1524.4L573.1 1523.6L576.1 1522.7L579.0 1521.7L581.9 1520.7L584.7 1519.8L587.5 1518.7L590.4 1517.6L593.2 1516.5L595.9 1515.2L598.7 1513.9L601.3 1512.5L603.9 1511.1L606.4 1509.6L608.9 1507.9L611.3 1506.1L613.6 1504.2L616.0 1502.2L618.2 1500.2L620.4 1498.2L622.6 1496.1L624.7 1494.0L626.8 1491.8L628.7 1489.5L630.7 1487.3L632.7 1485.0L634.7 1482.8L636.8 1480.6L639.0 1478.5L641.1 1476.4L643.3 1474.4L645.6 1472.3L647.8 1470.3L650.1 1468.3L652.3 1466.2L654.5 1464.2L656.7 1462.1L658.9 1460.1L661.0 1458.0L663.0 1455.8L665.1 1453.6L667.0 1451.4L668.8 1449.1L670.7 1446.7L672.4 1444.3L674.1 1441.8L675.8 1439.4L677.4 1436.8L679.1 1434.3L680.7 1431.7L682.3 1429.2L683.9 1426.6L685.6 1424.1L687.2 1421.6L688.9 1419.1L690.6 1416.7L692.4 1414.2L694.1 1411.8L695.9 1409.4L697.7 1406.9L699.4 1404.5L701.2 1402.1L703.0 1399.7L704.7 1397.2L706.5 1394.8L708.2 1392.4L710.0 1389.9L711.7 1387.4L713.4 1385.0L715.1 1382.5L716.9 1380.1L718.6 1377.6L720.3 1375.1L722.0 1372.7L723.7 1370.2L725.4 1367.7L727.0 1365.2L728.7 1362.7L730.3 1360.1L731.8 1357.6L733.3 1355.0L734.8 1352.4L736.2 1349.8L737.6 1347.1L739.0 1344.4L740.3 1341.8L741.6 1339.1L742.9 1336.4L744.2 1333.6L745.5 1330.9L746.8 1328.2L748.1 1325.5L749.4 1322.8L750.7 1320.0L752.0 1317.3L753.3 1314.6L754.6 1311.9L755.9 1309.2L757.2 1306.5L758.6 1303.9L759.9 1301.2L761.2 1298.5L762.5 1295.8L763.8 1293.0L765.1 1290.3L766.3 1287.6L767.6 1284.9L768.7 1282.1L769.9 1279.3L771.0 1276.6L772.0 1273.8L773.1 1271.0L774.1 1268.1L775.1 1265.3L776.1 1262.5L777.1 1259.6L778.0 1256.8L779.0 1253.9L779.9 1251.1L780.8 1248.2L781.7 1245.3L782.6 1242.5L783.5 1239.6L784.4 1236.8L785.4 1233.9L786.3 1231.0L787.2 1228.2L788.1 1225.3L789.0 1222.4L789.9 1219.6L790.7 1216.7L791.6 1213.8L792.5 1211.0L793.3 1208.1L794.2 1205.2L795.0 1202.3L795.8 1199.4L796.6 1196.5L797.3 1193.6L798.1 1190.7L798.8 1187.8L799.5 1184.9L800.2 1182.0L800.9 1179.1L801.5 1176.1L802.2 1173.2L802.8 1170.3L803.4 1167.3L804.0 1164.4L804.6 1161.4L805.2 1158.5L805.8 1155.6L806.4 1152.6L807.0 1149.7L807.6 1146.7L808.1 1143.8L808.7 1140.8L809.2 1137.9L809.7 1134.9L810.2 1132.0L810.7 1129.0L811.2 1126.0L811.7 1123.1L812.2 1120.1L812.7 1117.2L813.2 1114.2L813.7 1111.2L814.2 1108.3L814.7 1105.3L815.2 1102.4L815.7 1099.4L816.3 1096.5L816.9 1093.5L817.5 1090.6L818.0 1087.6L818.6 1084.7L819.2 1081.7L819.7 1078.8L820.2 1075.8L820.6 1072.8L821.0 1069.9L821.4 1066.9L821.7 1063.9L822.1 1061.0L822.4 1058.0L822.7 1055.0L823.1 1052.0L823.4 1049.0L823.7 1046.1L823.9 1043.1L824.2 1040.1L824.5 1037.1L824.8 1034.1L825.0 1031.1L825.3 1028.1L825.5 1025.1L825.8 1022.1L826.0 1019.1L826.3 1016.2L826.5 1013.2L826.7 1010.2L827.0 1007.2L827.2 1004.2L827.4 1001.2L827.6 998.2L827.9 995.2L828.1 992.2L828.3 989.2L828.5 986.2L828.8 983.2L829.0 980.2L829.2 977.2L829.4 974.2L829.7 971.2L829.9 968.2L830.1 965.2L830.4 962.2L830.6 959.3L830.8 956.3L831.0 953.3L831.2 950.3L831.5 947.3L831.7 944.3L831.9 941.3L832.1 938.3L832.3 935.3L832.5 932.3L832.7 929.3L833.0 926.3L833.2 923.3L833.4 920.3L833.6 917.4L833.8 914.4L834.0 911.4L834.2 908.4L834.4 905.4L834.6 902.4L834.8 899.4L835.0 896.4L835.2 893.4L835.4 890.4L835.6 887.4L835.8 884.4L836.0 881.4L836.2 878.4L836.4 875.4L836.6 872.4L836.8 869.5L837.1 866.5L837.3 863.5L837.5 860.5L837.7 857.5L837.9 854.5L838.1 851.5L838.4 848.5L838.6 845.5L838.8 842.5L839.1 839.5L839.3 836.5L839.5 833.5L839.8 830.6L840.0 827.6L840.3 824.6L840.5 821.6L840.7 818.6L841.0 815.6L841.2 812.6L841.5 809.6L841.7 806.6L842.0 803.6L842.2 800.6L842.5 797.7L842.7 794.7L842.9 791.7L843.2 788.7L843.4 785.7L843.6 782.7L843.9 779.7L844.1 776.7L844.3 773.7L844.6 770.7L844.8 767.7L845.0 764.7L845.2 761.8L845.4 758.8L845.6 755.8L845.8 752.8L846.0 749.8L846.2 746.8L846.4 743.8L846.6 740.8L846.8 737.8L846.9 734.8L847.1 731.8L847.3 728.8L847.4 725.8L847.6 722.8L847.8 719.8L847.9 716.8L848.1 713.8L848.3 710.8L848.4 707.8L848.6 704.8L848.7 701.8L848.9 698.8L849.0 695.9L849.2 692.9L849.4 689.9L849.5 686.9L849.7 683.9L849.8 680.9L850.0 677.9L850.2 674.9L850.3 671.9L850.5 668.9L850.7 665.9L850.8 662.9L851.0 659.9L851.2 656.9L851.4 653.9L851.5 650.9L851.7 647.9L851.9 644.9L852.0 641.9L852.2 638.9L852.4 635.9L852.5 632.9L852.7 629.9L852.9 626.9L853.0 623.9L853.2 620.9L853.4 617.9L853.6 614.9L853.8 611.9L853.9 609.0L854.1 606.0L854.3 603.0L854.5 600.0L854.7 597.0L854.9 594.0L855.2 591.0L855.4 588.0L855.6 585.0L855.8 582.0L856.1 579.0L856.3 576.0L856.6 573.1L856.8 570.1L857.1 567.1L857.4 564.1L857.7 561.1L858.0 558.1L858.3 555.1L858.6 552.1L858.9 549.1L859.2 546.2L859.6 543.2L859.9 540.2L860.3 537.2L860.6 534.2L861.0 531.2L861.4 528.3L861.8 525.3L862.2 522.3L862.6 519.4L863.0 516.4L863.5 513.4L863.9 510.5L864.4 507.5L864.9 504.5L865.4 501.5L865.9 498.5L866.5 495.5L867.1 492.6L867.9 489.7L868.7 486.9L869.8 483.9L871.4 480.5L873.1 478.3L874.3 478.4L875.4 480.5L876.4 483.8L877.2 487.5L877.9 491.1L878.3 494.1L878.7 497.0L879.0 500.0L879.3 502.9L879.6 505.9L879.8 508.9L880.1 511.9L880.3 514.9L880.5 517.9L880.7 520.9L880.8 523.9L881.0 526.9L881.2 530.0L881.4 533.0L881.7 536.0L881.9 539.0L882.2 542.0L882.5 544.9L882.7 547.9L883.0 550.9L883.3 553.9L883.6 556.9L883.9 559.9L884.2 562.9L884.5 565.8L884.9 568.8L885.2 571.8L885.5 574.8L885.8 577.8L886.1 580.8L886.4 583.8L886.8 586.7L887.1 589.7L887.4 592.7L887.7 595.7L888.0 598.7L888.3 601.7L888.6 604.6L888.9 607.6L889.2 610.6L889.4 613.6L889.7 616.6L890.0 619.6L890.2 622.6L890.5 625.6L890.7 628.6L890.9 631.5L891.2 634.5L891.4 637.5L891.6 640.5L891.8 643.5L892.1 646.5L892.3 649.5L892.5 652.5L892.7 655.5L892.9 658.5L893.1 661.5L893.3 664.5L893.5 667.5L893.7 670.5L894.0 673.5L894.2 676.4L894.4 679.4L894.6 682.4L894.8 685.4L895.1 688.4L895.3 691.4L895.5 694.4L895.8 697.4L896.0 700.4L896.3 703.4L896.6 706.4L896.8 709.3L897.1 712.3L897.4 715.3L897.7 718.3L898.0 721.3L898.3 724.3L898.6 727.3L898.9 730.2L899.2 733.2L899.5 736.2L899.8 739.2L900.1 742.2L900.4 745.2L900.6 748.2L900.9 751.2L901.2 754.1L901.4 757.1L901.7 760.1L901.9 763.1L902.2 766.1L902.4 769.1L902.7 772.1L902.9 775.1L903.2 778.1L903.4 781.1L903.6 784.0L903.9 787.0L904.1 790.0L904.4 793.0L904.6 796.0L904.8 799.0L905.1 802.0L905.3 805.0L905.5 808.0L905.8 811.0L906.0 814.0L906.2 817.0L906.5 819.9L906.7 822.9L906.9 825.9L907.2 828.9L907.4 831.9L907.6 834.9L907.9 837.9L908.1 840.9L908.3 843.9L908.6 846.9L908.8 849.9L909.1 852.9L909.3 855.8L909.5 858.8L909.8 861.8L910.0 864.8L910.3 867.8L910.5 870.8L910.8 873.8L911.0 876.8L911.3 879.8L911.5 882.8L911.8 885.7L912.0 888.7L912.3 891.7L912.5 894.7L912.7 897.7L913.0 900.7L913.2 903.7L913.5 906.7L913.7 909.7L914.0 912.7L914.2 915.7L914.5 918.6L914.7 921.6L915.0 924.6L915.2 927.6L915.5 930.6L915.7 933.6L916.0 936.6L916.2 939.6L916.5 942.6L916.7 945.6L917.0 948.5L917.2 951.5L917.5 954.5L917.7 957.5L918.0 960.5L918.2 963.5L918.5 966.5L918.7 969.5L919.0 972.5L919.2 975.5L919.4 978.5L919.7 981.4L919.9 984.4L920.1 987.4L920.4 990.4L920.6 993.4L920.8 996.4L921.1 999.4L921.3 1002.4L921.5 1005.4L921.7 1008.4L922.0 1011.4L922.2 1014.4L922.4 1017.4L922.6 1020.4L922.9 1023.4L923.1 1026.4L923.3 1029.3L923.6 1032.3L923.8 1035.3L924.1 1038.3L924.3 1041.3L924.6 1044.3L924.8 1047.3L925.1 1050.3L925.3 1053.3L925.6 1056.3L925.9 1059.2L926.2 1062.2L926.5 1065.2L926.8 1068.2L927.1 1071.2L927.4 1074.2L927.7 1077.1L928.0 1080.1L928.3 1083.1L928.7 1086.1L929.1 1089.0L929.4 1092.0L929.8 1095.0L930.2 1098.0L930.6 1100.9L931.0 1103.9L931.5 1106.9L931.9 1109.9L932.4 1112.8L932.8 1115.8L933.3 1118.8L933.7 1121.7L934.2 1124.7L934.7 1127.7L935.2 1130.6L935.7 1133.6L936.2 1136.5L936.7 1139.5L937.2 1142.5L937.7 1145.4L938.2 1148.4L938.7 1151.3L939.3 1154.3L939.8 1157.2L940.4 1160.2L940.9 1163.1L941.5 1166.1L942.1 1169.0L942.7 1171.9L943.3 1174.9L943.9 1177.8L944.6 1180.8L945.2 1183.7L945.8 1186.6L946.5 1189.6L947.1 1192.5L947.7 1195.4L948.4 1198.4L949.0 1201.3L949.7 1204.2L950.3 1207.2L950.9 1210.1L951.6 1213.0L952.2 1216.0L952.8 1218.9L953.4 1221.8L954.1 1224.8L954.7 1227.7L955.3 1230.7L955.9 1233.6L956.5 1236.5L957.1 1239.5L957.8 1242.4L958.4 1245.3L959.1 1248.2L959.8 1251.2L960.5 1254.1L961.3 1257.0L962.0 1259.9L962.9 1262.7L963.8 1265.6L964.6 1268.5L965.5 1271.4L966.4 1274.2L967.2 1277.1L968.0 1280.0L968.7 1282.9L969.4 1285.9L970.0 1288.8L970.6 1291.8L971.2 1294.7L971.8 1297.7L972.3 1300.7L972.9 1303.6L973.5 1306.6L974.1 1309.5L974.8 1312.4L975.5 1315.3L976.3 1318.2L977.1 1321.0L978.1 1323.8L979.2 1326.6L980.5 1329.3L981.8 1332.1L983.1 1334.8L984.3 1337.5L985.5 1340.3L986.6 1343.1L987.7 1345.9L988.7 1348.7L989.7 1351.5L990.7 1354.4L991.7 1357.2L992.7 1360.0L993.7 1362.9L994.7 1365.7L995.8 1368.5L996.9 1371.3L998.0 1374.1L999.1 1376.8L1000.3 1379.6L1001.6 1382.3L1002.8 1385.0L1004.1 1387.7L1005.5 1390.4L1006.8 1393.1L1008.2 1395.8L1009.6 1398.4L1011.0 1401.1L1012.4 1403.7L1013.8 1406.4L1015.2 1409.0L1016.7 1411.7L1018.1 1414.3L1019.5 1417.0L1020.9 1419.6L1022.4 1422.3L1023.8 1424.9L1025.2 1427.6L1026.7 1430.2L1028.2 1432.8L1029.7 1435.4L1031.2 1438.0L1032.8 1440.5L1034.4 1443.1L1036.0 1445.6L1037.7 1448.0L1039.4 1450.5L1041.2 1452.9L1043.0 1455.3L1044.8 1457.7L1046.6 1460.1L1048.5 1462.5L1050.4 1464.8L1052.4 1467.1L1054.4 1469.3L1056.4 1471.6L1058.4 1473.8L1060.4 1475.9L1062.5 1478.1L1064.6 1480.2L1066.8 1482.3L1069.0 1484.4L1071.2 1486.5L1073.5 1488.5L1075.8 1490.4L1078.1 1492.3L1080.5 1494.1L1082.9 1495.8L1085.4 1497.5L1087.9 1499.1L1090.4 1500.6L1093.0 1502.2L1095.7 1503.7L1098.3 1505.2L1100.9 1506.7L1103.5 1508.2L1106.0 1509.8L1108.6 1511.3L1111.2 1512.9L1113.8 1514.5L1116.3 1516.0L1118.9 1517.5L1121.5 1519.1L1124.1 1520.6L1126.7 1522.0L1129.3 1523.5L1132.0 1524.9L1134.7 1526.2L1137.4 1527.5L1140.1 1528.7L1142.8 1530.0L1145.6 1531.2L1148.3 1532.4L1151.0 1533.7L1153.8 1535.0L1156.5 1536.3L1159.2 1537.6L1161.9 1538.9L1164.5 1540.2L1167.2 1541.6L1169.9 1542.9L1172.6 1544.3L1175.3 1545.6L1177.9 1547.0L1180.6 1548.4L1183.3 1549.8L1185.9 1551.2L1188.6 1552.7L1191.2 1554.0L1193.9 1555.4L1196.6 1556.6L1199.4 1557.6L1202.3 1558.5L1205.3 1559.4L1208.2 1560.2L1211.0 1561.1L1213.8 1562.2L1216.5 1563.4L1218.9 1565.1L1221.3 1567.2L1223.6 1569.2L1226.0 1571.1L1228.5 1572.5L1231.2 1573.4L1234.2 1574.0L1237.2 1574.5L1240.3 1575.0L1243.3 1575.5L1246.1 1576.3L1248.7 1577.5L1251.1 1579.2L1253.5 1581.2L1255.9 1583.1L1258.4 1584.9L1261.0 1586.3L1263.7 1587.7L1266.4 1589.0L1269.1 1590.3L1271.8 1591.6L1274.5 1592.9L1277.2 1594.3L1279.9 1595.6L1282.6 1596.9L1285.3 1598.2L1288.0 1599.3L1290.8 1600.5L1293.6 1601.5L1296.5 1602.5L1299.3 1603.4L1302.2 1604.3L1305.1 1605.2L1307.9 1606.1L1310.8 1606.9L1313.7 1607.7L1316.6 1608.5" stroke="#00cc00"/>
<path d="M178.5 1498.5L181.1 1497.1L183.0 1494.7L184.5 1492.1L185.8 1489.4L186.9 1486.5L187.8 1483.6L188.4 1480.8L189.0 1477.8L189.5 1474.9L190.0 1471.9L190.4 1468.9L190.8 1465.9L191.1 1463.0L191.5 1460.0L191.9 1457.0L192.3 1454.0L192.7 1451.0L193.1 1448.1L193.5 1445.1L193.8 1442.1L194.2 1439.1L194.5 1436.1L194.9 1433.2L195.2 1430.2L195.6 1427.2L195.9 1424.2L196.3 1421.2L196.6 1418.3L196.9 1415.3L197.3 1412.3L197.6 1409.3L198.0 1406.3L198.3 1403.4L198.6 1400.4L199.0 1397.4L199.3 1394.4L199.6 1391.4L199.9 1388.4L200.2 1385.5L200.5 1382.5L200.7 1379.5L201.0 1376.5L201.3 1373.5L201.5 1370.5L201.8 1367.5L202.0 1364.5L202.3 1361.5L202.5 1358.6L202.7 1355.6L202.9 1352.6L203.2 1349.6L203.4 1346.6L203.6 1343.6L203.8 1340.6L204.0 1337.6L204.3 1334.6L204.5 1331.6L204.7 1328.6L204.9 1325.6L205.1 1322.6L205.4 1319.7L205.6 1316.7L205.8 1313.7L206.0 1310.7L206.2 1307.7L206.4 1304.7L206.6 1301.7L206.8 1298.7L207.0 1295.7L207.2 1292.7L207.5 1289.7L207.7 1286.7L207.9 1283.7L208.1 1280.7L208.3 1277.7L208.5 1274.8L208.7 1271.8L208.9 1268.8L209.1 1265.8L209.4 1262.8L209.6 1259.8L209.8 1256.8L210.0 1253.8L210.2 1250.8L210.4 1247.8L210.6 1244.8L210.9 1241.8L211.1 1238.8L211.3 1235.9L211.5 1232.9L211.7 1229.9L211.9 1226.9L212.1 1223.9L212.4 1220.9L212.6 1217.9L212.8 1214.9L213.0 1211.9L213.2 1208.9L213.4 1205.9L213.6 1202.9L213.8 1199.9L214.1 1196.9L214.3 1194.0L214.5 1191.0L214.7 1188.0L214.9 1185.0L215.1 1182.0L215.3 1179.0L215.5 1176.0L215.8 1173.0L216.0 1170.0L216.2 1167.0L216.4 1164.0L216.6 1161.0L216.8 1158.0L217.0 1155.0L217.2 1152.1L217.4 1149.1L217.6 1146.1L217.8 1143.1L218.1 1140.1L218.3 1137.1L218.5 1134.1L218.7 1131.1L218.9 1128.1L219.1 1125.1L219.3 1122.1L219.5 1119.1L219.7 1116.1L219.9 1113.1L220.2 1110.1L220.4 1107.2L220.6 1104.2L220.8 1101.2L221.0 1098.2L221.2 1095.2L221.4 1092.2L221.6 1089.2L221.8 1086.2L222.0 1083.2L222.3 1080.2L222.5 1077.2L222.7 1074.2L222.9 1071.2L223.1 1068.2L223.3 1065.3L223.5 1062.3L223.8 1059.3L224.0 1056.3L224.2 1053.3L224.4 1050.3L224.6 1047.3L224.8 1044.3L225.0 1041.3L225.2 1038.3L225.4 1035.3L225.6 1032.3L225.8 1029.3L226.0 1026.3L226.2 1023.3L226.4 1020.4L226.6 1017.4L226.8 1014.4L227.0 1011.4L227.2 1008.4L227.4 1005.4L227.6 1002.4L227.8 999.4L228.0 996.4L228.2 993.4L228.4 990.4L228.6 987.4L228.9 984.4L229.1 981.4L229.3 978.4L229.5 975.4L229.7 972.5L229.9 969.5L230.2 966.5L230.4 963.5L230.6 960.5L230.9 957.5L231.1 954.5L231.3 951.5L231.6 948.5L231.8 945.5L232.1 942.5L232.3 939.6L232.6 936.6L232.9 933.6L233.1 930.6L233.4 927.6L233.7 924.6L234.1 921.6L234.4 918.7L234.7 915.7L235.1 912.7L235.4 909.7L235.8 906.7L236.2 903.8L236.5 900.8L236.8 897.8L237.2 894.8L237.5 891.8L237.8 888.9L238.0 885.9L238.3 882.9L238.6 879.9L238.8 876.9L239.1 873.9L239.4 870.9L239.6 867.9L239.9 864.9L240.2 861.9L240.5 859.0L240.8 856.0L241.2 853.0L241.6 849.7L242.0 846.0L242.4 842.0L242.8 838.2L243.3 834.7L243.9 831.9L244.5 830.1L245.1 829.4L246.0 830.7L247.2 833.8L248.3 837.6L249.2 840.7L249.8 843.7L250.3 846.6L250.8 849.6L251.2 852.6L251.7 855.5L252.2 858.5L252.7 861.5L253.3 864.4L254.0 867.3L254.7 870.2L255.5 873.1L256.3 876.0L257.1 878.9L257.9 881.8L258.8 884.7L259.6 887.9L260.5 891.4L261.8 892.5L264.0 890.0L265.0 887.4L265.8 884.5L266.4 881.4L266.8 878.4L267.3 875.4L267.7 872.4L268.0 869.5L268.4 866.5L268.7 863.5L269.0 860.5L269.3 857.5L269.5 854.6L269.8 851.6L270.0 848.6L270.3 845.6L270.5 842.6L270.7 839.6L271.0 836.6L271.3 833.6L271.6 830.6L271.9 827.6L272.2 824.6L272.5 821.6L272.8 818.6L273.1 815.7L273.4 812.7L273.7 809.7L274.1 806.7L274.4 803.7L274.7 800.7L275.0 797.8L275.3 794.8L275.5 791.8L275.8 788.8L276.1 785.8L276.4 782.8L276.6 779.8L276.9 776.8L277.1 773.9L277.3 770.9L277.6 767.9L277.8 764.9L278.1 761.9L278.3 758.9L278.5 755.9L278.7 752.9L279.0 749.9L279.2 746.9L279.4 743.9L279.6 740.9L279.8 737.9L280.0 735.0L280.2 732.0L280.4 729.0L280.6 726.0L280.9 723.0L281.1 720.0L281.3 717.0L281.5 714.0L281.7 711.0L281.8 708.0L282.0 705.0L282.2 702.0L282.4 699.0L282.6 696.0L282.8 693.0L283.0 690.0L283.1 687.1L283.3 684.1L283.5 681.1L283.7 678.1L283.9 675.1L284.1 672.1L284.2 669.1L284.4 666.1L284.6 663.1L284.8 660.1L285.0 657.1L285.2 654.1L285.4 651.1L285.5 648.1L285.7 645.1L285.9 642.1L286.1 639.1L286.3 636.1L286.5 633.1L286.7 630.2L286.9 627.2L287.1 624.2L287.2 621.2L287.4 618.2L287.6 615.2L287.8 612.2L288.0 609.2L288.2 606.2L288.4 603.2L288.6 600.2L288.7 597.2L288.9 594.2L289.1 591.2L289.3 588.2L289.5 585.2L289.7 582.2L289.9 579.2L290.1 576.3L290.3 573.3L290.4 570.3L290.6 567.3L290.8 564.3L291.0 561.3L291.2 558.3L291.4 555.3L291.6 552.3L291.8 549.3L292.0 546.3L292.1 543.3L292.3 540.3L292.5 537.3L292.7 534.3L292.9 531.3L293.1 528.3L293.3 525.4L293.5 522.4L293.7 519.4L293.9 516.4L294.1 513.4L294.2 510.4L294.4 507.4L294.6 504.4L294.8 501.4L295.0 498.4L295.2 495.4L295.4 492.4L295.6 489.4L295.8 486.4L296.0 483.4L296.2 480.4L296.4 477.4L296.6 474.5L296.8 471.5L296.9 468.5L297.1 465.5L297.3 462.5L297.5 459.5L297.7 456.5L297.9 453.5L298.1 450.5L298.3 447.5L298.5 444.5L298.7 441.5L298.9 438.5L299.0 435.5L299.2 432.5L299.4 429.5L299.6 426.5L299.8 423.5L300.0 420.6L300.2 417.6L300.4 414.6L300.6 411.6L300.8 408.6L301.0 405.6L301.1 402.6L301.3 399.6L301.5 396.6L301.7 393.6L301.9 390.6L302.1 387.6L302.3 384.6L302.5 381.6L302.7 378.6L302.9 375.6L303.1 372.6L303.3 369.7L303.5 366.7L303.7 363.7L303.9 360.7L304.1 357.7L304.3 354.7L304.5 351.7L304.7 348.7L304.9 345.7L305.1 342.7L305.3 339.7L305.5 336.7L305.7 333.7L305.9 330.7L306.2 327.7L306.4 324.8L306.6 321.8L306.8 318.8L307.0 315.8L307.2 312.8L307.5 309.8L307.7 306.8L307.9 303.8L308.1 300.8L308.3 297.8L308.6 294.8L308.8 291.8L309.0 288.9L309.3 285.9L309.5 282.9L309.7 279.9L309.9 276.9L310.2 273.9L310.4 270.9L310.7 267.9L310.9 264.9L311.1 261.9L311.4 258.9L311.6 255.9L311.9 253.0L312.1 250.0L312.4 247.0L312.6 244.0L312.9 241.0L313.1 238.0L313.4 235.0L313.6 232.0L313.9 229.0L314.1 226.0L314.4 223.1L314.7 220.1L314.9 217.1L315.2 214.1L315.5 211.1L315.7 208.1L316.0 205.1L316.3 202.1L316.6 199.2L316.8 196.2L317.1 193.2L317.4 190.2L317.7 187.2L318.0 184.2L318.2 181.2L318.5 178.2L318.8 175.2L319.0 172.3L319.3 169.3L319.6 166.3L319.9 163.3L320.2 160.3L320.5 157.3L320.8 154.3L321.1 151.3L321.4 148.3L321.7 145.4L322.1 142.4L322.4 139.4L322.8 136.4L323.2 133.5L323.6 130.5L324.0 127.5L324.4 124.6L324.8 121.6L325.3 118.6L325.8 115.6L326.3 112.6L326.9 109.6L327.6 106.7L328.3 103.9L329.2 101.0L330.6 97.6L332.2 94.8L333.7 94.1L335.4 96.2L337.1 99.5L338.2 102.5L338.9 105.3L339.6 108.2L340.2 111.2L340.7 114.2L341.2 117.2L341.6 120.2L342.0 123.2L342.4 126.2L342.9 129.2L343.3 132.1L343.7 135.1L344.1 138.1L344.5 141.0L344.8 144.0L345.2 147.0L345.6 150.0L345.9 153.0L346.3 155.9L346.6 158.9L346.9 161.9L347.2 164.9L347.6 167.9L347.8 170.9L348.1 173.9L348.4 176.9L348.7 179.8L348.9 182.8L349.2 185.8L349.4 188.8L349.6 191.8L349.9 194.8L350.1 197.8L350.3 200.8L350.5 203.8L350.7 206.8L350.9 209.7L351.1 212.7L351.3 215.7L351.5 218.7L351.7 221.7L351.9 224.7L352.0 227.7L352.2 230.7L352.4 233.7L352.6 236.7L352.7 239.7L352.9 242.7L353.1 245.7L353.2 248.7L353.4 251.7L353.5 254.7L353.7 257.7L353.8 260.7L354.0 263.7L354.1 266.7L354.3 269.7L354.4 272.7L354.5 275.7L354.7 278.7L354.8 281.7L354.9 284.7L355.0 287.7L355.1 290.7L355.3 293.7L355.4 296.7L355.5 299.7L355.6 302.7L355.7 305.7L355.8 308.6L355.9 311.6L356.0 314.6L356.1 317.6L356.2 320.6L356.3 323.6L356.4 326.6L356.5 329.6L356.6 332.6L356.7 335.6L356.8 338.6L356.9 341.6L357.0 344.6L357.1 347.6L357.2 350.6L357.3 353.6L357.3 356.6L357.4 359.6L357.5 362.6L357.6 365.6L357.7 368.6L357.8 371.6L357.8 374.6L357.9 377.6L358.0 380.6L358.1 383.6L358.1 386.6L358.2 389.6L358.3 392.6L358.4 395.6L358.4 398.6L358.5 401.6L358.6 404.6L358.7 407.6L358.7 410.6L358.8 413.6L358.9 416.6L359.0 419.6L359.0 422.6L359.1 425.6L359.2 428.6L359.2 431.6L359.3 434.6L359.4 437.6L359.4 440.6L359.5 443.6L359.6 446.6L359.7 449.6L359.7 452.6L359.8 455.6L359.9 458.6L359.9 461.6L360.0 464.6L360.1 467.6L360.2 470.6L360.2 473.6L360.3 476.6L360.4 479.6L360.5 482.6L360.5 485.6L360.6 488.6L360.7 491.6L360.8 494.6L360.8 497.6L360.9 500.6L361.0 503.6L361.1 506.6L361.1 509.6L361.2 512.6L361.3 515.6L361.3 518.6L361.4 521.6L361.5 524.6L361.6 527.6L361.6 530.6L361.7 533.6L361.8 536.6L361.8 539.6L361.9 542.6L362.0 545.6L362.0 548.6L362.1 551.6L362.2 554.6L362.2 557.6L362.3 560.6L362.4 563.6L362.5 566.6L362.5 569.6L362.6 572.6L362.7 575.6L362.7 578.6L362.8 581.6L362.9 584.6L362.9 587.6L363.0 590.6L363.1 593.6L363.1 596.6L363.2 599.6L363.3 602.6L363.3 605.6L363.4 608.6L363.5 611.6L363.5 614.6L363.6 617.6L363.7 620.6L363.8 623.6L363.8 626.6L363.9 629.6L364.0 632.6L364.0 635.6L364.1 638.6L364.2 641.6L364.2 644.6L364.3 647.6L364.4 650.6L364.5 653.6L364.5 656.6L364.6 659.6L364.7 662.6L364.7 665.6L364.8 668.6L364.9 671.6L365.0 674.6L365.0 677.6L365.1 680.6L365.2 683.6L365.3 686.6L365.3 689.6L365.4 692.6L365.5 695.6L365.6 698.6L365.6 701.6L365.7 704.6L365.8 707.6L365.8 710.6L365.9 713.6L366.0 716.6L366.1 719.6L366.1 722.6L366.2 725.6L366.3 728.6L366.4 731.6L366.4 734.6L366.5 737.6L366.6 740.6L366.7 743.6L366.7 746.6L366.8 749.6L366.9 752.6L366.9 755.6L367.0 758.6L367.1 761.6L367.2 764.6L367.2 767.6L367.3 770.6L367.4 773.6L367.5 776.6L367.5 779.6L367.6 782.6L367.7 785.6L367.8 788.6L367.9 791.6L367.9 794.6L368.0 797.6L368.1 800.6L368.2 803.6L368.3 806.5L368.3 809.5L368.4 812.5L368.5 815.5L368.6 818.5L368.7 821.5L368.7 824.5L368.8 827.5L368.9 830.5L369.0 833.5L369.1 836.5L369.2 839.5L369.3 842.5L369.3 845.5L369.4 848.5L369.5 851.5L369.6 854.5L369.7 857.5L369.8 860.5L369.9 863.5L370.0 866.5L370.1 869.5L370.2 872.5L370.3 875.5L370.4 878.5L370.5 881.5L370.6 884.5L370.7 887.5L370.8 890.5L370.9 893.5L371.0 896.5L371.1 899.5L371.1 902.5L371.2 905.5L371.3 908.5L371.4 911.5L371.5 914.5L371.6 917.5L371.7 920.5L371.8 923.5L371.9 926.5L372.0 929.5L372.1 932.5L372.2 935.5L372.4 938.5L372.5 941.5L372.6 944.5L372.7 947.5L372.8 950.5L372.9 953.5L373.0 956.5L373.1 959.5L373.2 962.5L373.3 965.5L373.4 968.5L373.5 971.5L373.6 974.5L373.7 977.5L373.8 980.5L374.0 983.5L374.1 986.5L374.2 989.5L374.3 992.5L374.4 995.5L374.5 998.5L374.6 1001.5L374.8 1004.5L374.9 1007.5L375.0 1010.5L375.1 1013.5L375.2 1016.5L375.4 1019.5L375.5 1022.5L375.6 1025.5L375.7 1028.5L375.8 1031.5L376.0 1034.5L376.1 1037.5L376.2 1040.5L376.4 1043.5L376.5 1046.5L376.6 1049.5L376.7 1052.5L376.9 1055.5L377.0 1058.5L377.1 1061.5L377.3 1064.5L377.4 1067.5L377.6 1070.4L377.7 1073.4L377.8 1076.4L378.0 1079.4L378.1 1082.4L378.3 1085.4L378.4 1088.4L378.6 1091.4L378.7 1094.4L378.9 1097.4L379.0 1100.4L379.2 1103.4L379.3 1106.4L379.5 1109.4L379.6 1112.4L379.8 1115.4L379.9 1118.4L380.1 1121.4L380.3 1124.4L380.4 1127.4L380.6 1130.4L380.8 1133.4L380.9 1136.4L381.1 1139.4L381.3 1142.3L381.4 1145.3L381.6 1148.3L381.8 1151.3L382.0 1154.3L382.1 1157.3L382.3 1160.3L382.5 1163.3L382.7 1166.3L382.9 1169.3L383.1 1172.3L383.3 1175.3L383.5 1178.3L383.7 1181.3L383.9 1184.3L384.1 1187.2L384.4 1190.2L384.6 1193.2L384.9 1196.2L385.1 1199.2L385.4 1202.2L385.6 1205.2L385.9 1208.2L386.2 1211.2L386.5 1214.2L386.8 1217.1L387.1 1220.1L387.4 1223.1L387.7 1226.1L388.1 1229.1L388.4 1232.0L388.7 1235.0L389.1 1238.0L389.5 1241.0L389.9 1244.0L390.3 1247.0L390.7 1250.0L391.1 1252.9L391.6 1255.9L392.1 1258.9L392.6 1261.8L393.1 1264.8L393.7 1267.7L394.3 1270.7L394.9 1273.6L395.6 1276.5L396.3 1279.5L397.0 1282.5L397.8 1285.6L398.7 1288.6L399.7 1291.5L400.9 1294.2L402.1 1296.8L403.6 1299.1L406.0 1301.4L408.2 1302.2L409.5 1300.3L410.6 1296.9L411.8 1293.5L413.4 1291.0L415.3 1288.7L417.4 1286.5L419.5 1284.4L421.7 1282.3L423.9 1280.1L425.9 1277.8L427.7 1275.4L429.6 1272.9L431.5 1270.6L433.5 1268.4L435.7 1266.6L438.3 1264.7L441.0 1263.1L443.8 1262.0L446.4 1262.0L449.1 1263.2L451.8 1265.2L454.1 1267.5L455.9 1269.6L457.5 1272.0L458.9 1274.7L460.2 1277.5L461.4 1280.4L462.5 1283.3L463.5 1286.1L464.5 1288.9L465.5 1291.7L466.3 1294.6L467.1 1297.5L467.9 1300.4L468.5 1303.4L469.2 1306.3L469.7 1309.2L470.3 1312.2L470.8 1315.1L471.3 1318.1L471.7 1321.1L472.2 1324.0L472.7 1327.0L473.2 1330.0L473.7 1332.9L474.2 1335.9L474.8 1338.8L475.4 1341.8L476.0 1344.7L476.6 1347.6L477.3 1350.5L478.0 1353.5L478.6 1356.4L479.3 1359.3L480.0 1362.2L480.7 1365.2L481.3 1368.1L482.0 1371.0L482.6 1374.0L483.2 1376.9L483.8 1379.9L484.3 1382.8L484.9 1385.8L485.4 1388.7L485.9 1391.7L486.4 1394.6L486.9 1397.6L487.5 1400.5L488.0 1403.5L488.5 1406.5L489.0 1409.4L489.5 1412.4L490.1 1415.3L490.6 1418.3L491.2 1421.2L491.8 1424.1L492.4 1427.1L493.1 1430.0L493.7 1432.9L494.4 1435.9L495.1 1438.8L495.7 1441.7L496.4 1444.6L497.1 1447.5L497.9 1450.5L498.6 1453.4L499.3 1456.3L500.1 1459.2L500.9 1462.1L501.6 1465.0L502.4 1467.9L503.2 1470.8L504.0 1473.7L504.8 1476.6L505.6 1479.5L506.4 1482.4L507.2 1485.3L508.0 1488.2L508.9 1491.1L509.7 1494.0L510.7 1496.9L511.6 1499.7L512.6 1502.6L513.6 1505.3L514.7 1508.1L515.8 1510.8L517.1 1513.5L518.4 1516.2L519.8 1518.9L521.4 1521.5L522.9 1524.1L524.6 1526.6L526.3 1529.1L528.1 1531.5L529.9 1533.8L531.8 1536.2L533.8 1538.6L535.9 1540.8L538.1 1543.0L540.4 1545.0L542.7 1546.7L545.2 1548.2L547.8 1549.7L550.6 1551.2L553.4 1552.5L556.3 1553.4L559.2 1554.0L562.1 1553.9L565.0 1553.5L568.0 1552.7L570.9 1551.8L573.8 1550.7L576.6 1549.5L579.3 1548.4L581.9 1547.1L584.4 1545.6L586.9 1543.9L589.3 1542.0L591.7 1540.1L594.0 1538.0L596.3 1536.0L598.6 1534.0L600.8 1532.0L603.1 1530.0L605.3 1528.0L607.5 1526.0L609.7 1523.9L611.8 1521.7L613.9 1519.6L616.0 1517.4L618.0 1515.2L620.1 1513.0L622.1 1510.8L624.0 1508.5L625.9 1506.2L627.8 1503.9L629.7 1501.6L631.5 1499.2L633.4 1496.8L635.2 1494.4L636.9 1492.0L638.7 1489.5L640.5 1487.1L642.2 1484.7L644.0 1482.2L645.7 1479.8L647.4 1477.3L649.1 1474.8L650.8 1472.4L652.5 1469.9L654.1 1467.4L655.8 1464.9L657.4 1462.4L659.1 1459.8L660.7 1457.3L662.4 1454.8L664.0 1452.3L665.7 1449.8L667.3 1447.3L669.0 1444.8L670.6 1442.3L672.3 1439.8L673.9 1437.3L675.6 1434.8L677.2 1432.3L678.9 1429.8L680.5 1427.2L682.2 1424.7L683.8 1422.2L685.5 1419.7L687.2 1417.3L688.8 1414.8L690.5 1412.3L692.2 1409.8L693.9 1407.3L695.6 1404.9L697.3 1402.4L699.0 1399.9L700.7 1397.4L702.4 1395.0L704.1 1392.5L705.8 1390.0L707.5 1387.5L709.2 1385.0L710.8 1382.6L712.6 1380.1L714.3 1377.6L716.0 1375.2L717.7 1372.7L719.4 1370.2L721.1 1367.7L722.8 1365.2L724.4 1362.7L726.1 1360.2L727.6 1357.7L729.2 1355.1L730.7 1352.5L732.1 1349.9L733.6 1347.3L734.9 1344.6L736.3 1342.0L737.7 1339.3L739.0 1336.6L740.3 1333.9L741.6 1331.2L742.9 1328.5L744.2 1325.8L745.5 1323.0L746.8 1320.3L748.1 1317.6L749.4 1314.9L750.7 1312.2L752.0 1309.5L753.4 1306.8L754.7 1304.1L756.0 1301.4L757.4 1298.7L758.7 1296.0L760.0 1293.3L761.2 1290.6L762.5 1287.9L763.7 1285.2L764.9 1282.4L766.1 1279.7L767.2 1276.9L768.3 1274.1L769.4 1271.3L770.5 1268.5L771.5 1265.7L772.5 1262.9L773.5 1260.1L774.5 1257.2L775.5 1254.4L776.5 1251.5L777.4 1248.7L778.4 1245.8L779.3 1243.0L780.2 1240.1L781.1 1237.3L782.1 1234.4L783.0 1231.5L783.9 1228.7L784.8 1225.8L785.8 1223.0L786.7 1220.1L787.6 1217.2L788.5 1214.4L789.3 1211.5L790.2 1208.6L791.1 1205.8L791.9 1202.9L792.7 1200.0L793.5 1197.1L794.3 1194.2L795.1 1191.3L795.8 1188.4L796.6 1185.5L797.3 1182.6L798.0 1179.7L798.7 1176.8L799.4 1173.8L800.0 1170.9L800.7 1168.0L801.4 1165.1L802.0 1162.1L802.6 1159.2L803.2 1156.2L803.8 1153.3L804.4 1150.4L805.0 1147.4L805.6 1144.5L806.2 1141.5L806.7 1138.6L807.2 1135.6L807.8 1132.7L808.3 1129.7L808.8 1126.8L809.3 1123.8L809.8 1120.9L810.3 1117.9L810.8 1114.9L811.3 1112.0L811.8 1109.0L812.3 1106.0L812.8 1103.1L813.3 1100.1L813.8 1097.2L814.3 1094.2L814.8 1091.2L815.3 1088.3L815.8 1085.3L816.2 1082.4L816.7 1079.4L817.1 1076.4L817.5 1073.5L817.9 1070.5L818.3 1067.5L818.7 1064.5L819.0 1061.6L819.4 1058.6L819.7 1055.6L820.0 1052.6L820.3 1049.6L820.7 1046.7L821.0 1043.7L821.3 1040.7L821.6 1037.7L821.9 1034.7L822.2 1031.7L822.5 1028.8L822.7 1025.8L823.0 1022.8L823.3 1019.8L823.6 1016.8L823.8 1013.8L824.1 1010.8L824.4 1007.8L824.6 1004.8L824.9 1001.8L825.1 998.9L825.4 995.9L825.6 992.9L825.9 989.9L826.1 986.9L826.4 983.9L826.6 980.9L826.9 977.9L827.1 974.9L827.4 971.9L827.6 968.9L827.9 966.0L828.1 963.0L828.4 960.0L828.6 957.0L828.8 954.0L829.1 951.0L829.3 948.0L829.6 945.0L829.8 942.0L830.0 939.0L830.2 936.0L830.5 933.1L830.7 930.1L830.9 927.1L831.1 924.1L831.3 921.1L831.6 918.1L831.8 915.1L832.0 912.1L832.2 909.1L832.4 906.1L832.6 903.1L832.9 900.1L833.1 897.1L833.3 894.2L833.5 891.2L833.7 888.2L833.9 885.2L834.1 882.2L834.4 879.2L834.6 876.2L834.8 873.2L835.0 870.2L835.2 867.2L835.5 864.2L835.7 861.2L835.9 858.2L836.2 855.3L836.4 852.3L836.6 849.3L836.9 846.3L837.1 843.3L837.3 840.3L837.6 837.3L837.8 834.3L838.1 831.3L838.3 828.3L838.6 825.3L838.8 822.4L839.1 819.4L839.3 816.4L839.6 813.4L839.8 810.4L840.1 807.4L840.3 804.4L840.6 801.4L840.8 798.4L841.1 795.4L841.3 792.5L841.6 789.5L841.8 786.5L842.1 783.5L842.3 780.5L842.6 777.5L842.8 774.5L843.0 771.5L843.3 768.5L843.5 765.5L843.7 762.5L843.9 759.6L844.1 756.6L844.4 753.6L844.6 750.6L844.8 747.6L845.0 744.6L845.2 741.6L845.4 738.6L845.5 735.6L845.7 732.6L845.9 729.6L846.1 726.6L846.3 723.6L846.5 720.6L846.6 717.6L846.8 714.6L847.0 711.7L847.2 708.7L847.3 705.7L847.5 702.7L847.7 699.7L847.9 696.7L848.0 693.7L848.2 690.7L848.4 687.7L848.5 684.7L848.7 681.7L848.9 678.7L849.1 675.7L849.2 672.7L849.4 669.7L849.6 666.7L849.8 663.7L850.0 660.7L850.1 657.7L850.3 654.7L850.5 651.7L850.7 648.7L850.9 645.8L851.0 642.8L851.2 639.8L851.4 636.8L851.6 633.8L851.8 630.8L852.0 627.8L852.1 624.8L852.3 621.8L852.5 618.8L852.7 615.8L852.9 612.8L853.1 609.8L853.2 606.8L853.4 603.8L853.6 600.8L853.8 597.8L854.0 594.8L854.2 591.9L854.4 588.9L854.6 585.9L854.8 582.9L855.0 579.9L855.2 576.9L855.4 573.9L855.6 570.9L855.8 567.9L856.0 564.9L856.2 561.9L856.4 558.9L856.6 555.9L856.8 552.9L857.0 549.9L857.2 546.9L857.4 543.9L857.6 540.9L857.8 537.9L858.0 535.0L858.3 532.0L858.5 529.0L858.7 526.0L859.0 523.0L859.2 520.0L859.4 517.0L859.7 514.0L860.0 511.0L860.2 508.0L860.5 505.1L860.8 502.1L861.1 499.1L861.4 496.1L861.7 493.1L862.0 490.1L862.3 487.1L862.6 484.0L862.9 481.0L863.3 478.0L863.7 475.0L864.0 472.0L864.5 469.0L864.9 466.0L865.4 463.1L865.9 460.1L866.4 457.2L867.0 454.3L867.6 451.5L868.4 448.6L869.4 445.2L870.6 441.6L872.0 438.2L873.5 435.3L874.9 433.5L876.3 433.0L877.7 434.1L879.1 436.4L880.6 439.6L881.9 443.1L883.1 446.7L884.0 449.9L884.6 452.7L885.2 455.6L885.8 458.5L886.3 461.4L886.8 464.3L887.3 467.3L887.7 470.3L888.1 473.3L888.4 476.3L888.8 479.3L889.1 482.3L889.5 485.3L889.8 488.4L890.1 491.4L890.4 494.4L890.7 497.4L891.0 500.4L891.4 503.3L891.7 506.3L892.0 509.3L892.3 512.3L892.6 515.3L892.9 518.3L893.1 521.3L893.4 524.2L893.7 527.2L894.0 530.2L894.2 533.2L894.5 536.2L894.7 539.2L895.0 542.2L895.2 545.2L895.5 548.2L895.7 551.2L895.9 554.1L896.2 557.1L896.4 560.1L896.7 563.1L896.9 566.1L897.1 569.1L897.4 572.1L897.6 575.1L897.8 578.1L898.1 581.1L898.3 584.1L898.6 587.0L898.8 590.0L899.1 593.0L899.3 596.0L899.5 599.0L899.8 602.0L900.0 605.0L900.3 608.0L900.5 611.0L900.7 614.0L901.0 617.0L901.2 620.0L901.4 622.9L901.7 625.9L901.9 628.9L902.1 631.9L902.3 634.9L902.5 637.9L902.8 640.9L903.0 643.9L903.2 646.9L903.4 649.9L903.6 652.9L903.7 655.9L903.9 658.9L904.1 661.9L904.3 664.8L904.5 667.8L904.6 670.8L904.8 673.8L904.9 676.8L905.1 679.8L905.2 682.8L905.4 685.8L905.5 688.8L905.7 691.8L905.8 694.8L905.9 697.8L906.1 700.8L906.2 703.8L906.4 706.8L906.5 709.8L906.6 712.8L906.8 715.8L906.9 718.8L907.0 721.8L907.2 724.8L907.3 727.8L907.5 730.8L907.6 733.8L907.8 736.8L907.9 739.8L908.1 742.8L908.3 745.8L908.4 748.8L908.6 751.8L908.8 754.7L909.0 757.7L909.1 760.7L909.3 763.7L909.5 766.7L909.7 769.7L909.9 772.7L910.1 775.7L910.3 778.7L910.5 781.7L910.7 784.7L910.9 787.7L911.1 790.7L911.3 793.7L911.5 796.7L911.7 799.7L911.9 802.6L912.1 805.6L912.4 808.6L912.6 811.6L912.8 814.6L913.0 817.6L913.2 820.6L913.5 823.6L913.7 826.6L913.9 829.6L914.1 832.6L914.4 835.6L914.6 838.6L914.8 841.5L915.0 844.5L915.3 847.5L915.5 850.5L915.7 853.5L915.9 856.5L916.2 859.5L916.4 862.5L916.6 865.5L916.9 868.5L917.1 871.5L917.4 874.4L917.6 877.4L917.9 880.4L918.1 883.4L918.4 886.4L918.6 889.4L918.9 892.4L919.1 895.4L919.4 898.4L919.6 901.4L919.9 904.3L920.2 907.3L920.4 910.3L920.7 913.3L920.9 916.3L921.2 919.3L921.5 922.3L921.7 925.3L922.0 928.3L922.2 931.2L922.5 934.2L922.8 937.2L923.0 940.2L923.3 943.2L923.5 946.2L923.8 949.2L924.0 952.2L924.3 955.2L924.5 958.2L924.7 961.1L925.0 964.1L925.2 967.1L925.5 970.1L925.7 973.1L925.9 976.1L926.1 979.1L926.3 982.1L926.6 985.1L926.8 988.1L927.0 991.1L927.2 994.1L927.4 997.1L927.6 1000.1L927.8 1003.1L928.0 1006.0L928.2 1009.0L928.4 1012.0L928.6 1015.0L928.8 1018.0L929.0 1021.0L929.2 1024.0L929.4 1027.0L929.7 1030.0L929.9 1033.0L930.1 1036.0L930.4 1039.0L930.6 1042.0L930.8 1044.9L931.1 1047.9L931.4 1050.9L931.6 1053.9L931.9 1056.9L932.2 1059.9L932.5 1062.9L932.8 1065.8L933.1 1068.8L933.5 1071.8L933.9 1074.8L934.2 1077.7L934.6 1080.7L935.0 1083.7L935.4 1086.7L935.9 1089.6L936.3 1092.6L936.7 1095.6L937.1 1098.6L937.5 1101.5L937.9 1104.5L938.3 1107.5L938.7 1110.5L939.1 1113.4L939.4 1116.4L939.8 1119.4L940.2 1122.4L940.5 1125.4L940.9 1128.3L941.2 1131.3L941.6 1134.3L942.0 1137.3L942.3 1140.2L942.7 1143.2L943.0 1146.2L943.4 1149.2L943.7 1152.2L944.1 1155.1L944.4 1158.1L944.8 1161.1L945.2 1164.1L945.5 1167.1L945.9 1170.0L946.2 1173.0L946.6 1176.0L946.9 1179.0L947.3 1182.0L947.7 1184.9L948.0 1187.9L948.3 1190.9L948.7 1193.9L949.0 1196.9L949.4 1199.8L949.7 1202.8L950.0 1205.8L950.4 1208.8L950.7 1211.8L951.1 1214.8L951.4 1217.7L951.7 1220.7L952.1 1223.7L952.4 1226.7L952.8 1229.7L953.2 1232.6L953.5 1235.6L953.9 1238.6L954.3 1241.6L954.7 1244.5L955.1 1247.5L955.5 1250.5L956.0 1253.4L956.4 1256.4L956.8 1259.4L957.3 1262.3L957.7 1265.3L958.2 1268.3L958.7 1271.2L959.2 1274.2L959.7 1277.2L960.2 1280.1L960.7 1283.1L961.2 1286.0L961.8 1289.0L962.3 1291.9L962.9 1294.9L963.5 1297.8L964.1 1300.8L964.7 1303.7L965.4 1306.6L966.0 1309.5L966.8 1312.4L967.5 1315.3L968.3 1318.2L969.1 1321.1L969.9 1324.0L970.7 1326.9L971.6 1329.8L972.4 1332.7L973.2 1335.6L974.0 1338.5L974.8 1341.4L975.6 1344.3L976.4 1347.2L977.1 1350.1L977.8 1353.0L978.6 1355.9L979.3 1358.8L980.0 1361.7L980.8 1364.6L981.5 1367.5L982.3 1370.4L983.0 1373.3L983.8 1376.2L984.6 1379.1L985.4 1382.0L986.2 1384.9L987.0 1387.8L987.9 1390.7L988.7 1393.5L989.6 1396.4L990.5 1399.3L991.4 1402.1L992.3 1405.0L993.2 1407.8L994.2 1410.7L995.1 1413.6L996.0 1416.4L997.0 1419.3L997.9 1422.1L998.9 1424.9L999.8 1427.8L1000.8 1430.6L1001.8 1433.5L1002.7 1436.3L1003.7 1439.2L1004.6 1442.0L1005.6 1444.9L1006.6 1447.7L1007.5 1450.6L1008.5 1453.4L1009.5 1456.2L1010.5 1459.1L1011.6 1461.9L1012.6 1464.7L1013.7 1467.5L1014.8 1470.3L1015.9 1473.1L1017.0 1475.8L1018.2 1478.6L1019.4 1481.3L1020.6 1484.1L1021.8 1486.8L1023.1 1489.6L1024.4 1492.3L1025.7 1495.0L1027.1 1497.7L1028.5 1500.4L1029.9 1503.0L1031.3 1505.6L1032.8 1508.2L1034.3 1510.8L1035.9 1513.3L1037.5 1515.8L1039.2 1518.3L1040.9 1520.8L1042.7 1523.2L1044.6 1525.6L1046.5 1528.0L1048.4 1530.3L1050.3 1532.6L1052.4 1534.8L1054.4 1536.9L1056.5 1539.0L1058.7 1541.1L1060.9 1543.2L1063.1 1545.2L1065.5 1547.2L1067.8 1549.1L1070.2 1550.9L1072.6 1552.7L1075.0 1554.4L1077.5 1556.1L1080.0 1557.7L1082.5 1559.3L1085.1 1560.8L1087.8 1562.3L1090.4 1563.7L1093.1 1565.1L1095.8 1566.5L1098.5 1567.8L1101.3 1569.0L1104.0 1570.2L1106.8 1571.3L1109.6 1572.3L1112.4 1573.3L1115.2 1574.3L1118.1 1575.2L1121.0 1576.1L1123.9 1577.0L1126.7 1577.9L1129.6 1578.8L1132.5 1579.7L1135.3 1580.6L1138.2 1581.5L1141.0 1582.5L1143.9 1583.4L1146.7 1584.3L1149.6 1585.2L1152.5 1586.1L1155.3 1587.0L1158.2 1587.9L1161.1 1588.7L1164.0 1589.5L1166.9 1590.3L1169.8 1591.1L1172.7 1591.8L1175.6 1592.5L1178.5 1593.2L1181.5 1593.8L1184.4 1594.4L1187.3 1595.0L1190.3 1595.5L1193.2 1596.0L1196.2 1596.5L1199.2 1597.0L1202.1 1597.4L1205.1 1597.9L1208.1 1598.3L1211.0 1598.8L1214.0 1599.3L1217.0 1599.8L1219.9 1600.3L1222.9 1600.9L1225.8 1601.4L1228.8 1601.9L1231.8 1602.2L1234.7 1602.4L1237.7 1602.6L1240.7 1602.8L1243.7 1603.0L1246.7 1603.2L1249.7 1603.6L1252.7 1604.0L1255.6 1604.5L1258.6 1605.0L1261.5 1605.6L1264.5 1606.1L1267.4 1606.8L1270.4 1607.5L1273.3 1608.2L1276.2 1609.0L1279.1 1609.6L1282.1 1610.2L1285.0 1610.5L1288.0 1610.8L1291.0 1611.0L1294.0 1611.3L1297.0 1611.4L1300.0 1611.6L1303.0 1611.6" stroke="#0033ff"/>
</g>
<g font-size="68" fill="#000" stroke="#000" stroke-width="1">
<text transform="translate(262.8 1695) scale(1 1.025)" text-anchor="middle">300</text>
<text transform="translate(473.5 1695) scale(1 1.025)" text-anchor="middle">400</text>
<text transform="translate(684.3 1695) scale(1 1.025)" text-anchor="middle">500</text>
<text transform="translate(895.0 1695) scale(1 1.025)" text-anchor="middle">600</text>
<text transform="translate(1105.8 1695) scale(1 1.025)" text-anchor="middle">700</text>
<text transform="translate(1316.5 1695) scale(1 1.025)" text-anchor="middle">800</text>
</g>
<g font-size="80.3" fill="#000" stroke="#000" stroke-width="1">
<text transform="translate(742.5 1775)" text-anchor="middle">Wavelength (nm)</text>
<text transform="translate(73.2 806.5) rotate(-90)" text-anchor="middle">Absorbance (a. u.)</text>
<text transform="translate(995 381)" text-anchor="middle">(a)</text>
<text transform="translate(935 1524)" text-anchor="middle" fill="#ff00cc" stroke="#ff00cc">(b)</text>
<text transform="translate(920.5 154)" text-anchor="middle" fill="#ff0000" stroke="#ff0000">(c)</text>
<text transform="translate(1242 1524)" text-anchor="middle" fill="#009900" stroke="#009900">(d)</text>
<text transform="translate(801.5 508)" text-anchor="middle" fill="#0033ff" stroke="#0033ff">(e)</text>
</g>
</svg>
</body>
</html>
